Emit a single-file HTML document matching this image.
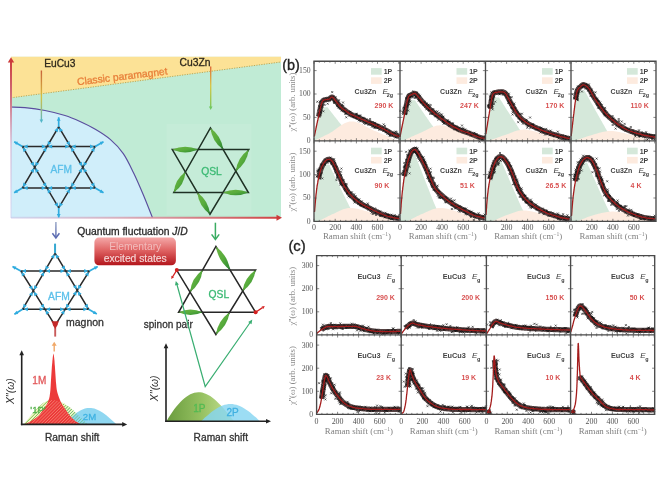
<!DOCTYPE html>
<html><head><meta charset="utf-8"><title>Raman kagome figure</title>
<style>html,body{margin:0;padding:0;background:#fff;overflow:hidden}svg{display:block}</style></head>
<body><svg width="660" height="491" viewBox="0 0 660 491" font-family="Liberation Sans, Arial, sans-serif">
<rect width="660" height="491" fill="#fff"/>
<defs>
<linearGradient id="axv" gradientUnits="userSpaceOnUse" x1="11" y1="218" x2="11" y2="58"><stop offset="0" stop-color="#d0d0f0" stop-opacity="0.4"/><stop offset="0.45" stop-color="#d0b0d0" stop-opacity="0.55"/><stop offset="0.72" stop-color="#d07888"/><stop offset="1" stop-color="#cc3a3a"/></linearGradient>
<linearGradient id="axh" gradientUnits="userSpaceOnUse" x1="11" y1="218" x2="281" y2="218"><stop offset="0" stop-color="#c8c0e8" stop-opacity="0.5"/><stop offset="0.4" stop-color="#d8a0b0" stop-opacity="0.8"/><stop offset="1" stop-color="#d04040"/></linearGradient>
<linearGradient id="arrE" gradientUnits="userSpaceOnUse" x1="41" y1="70" x2="41" y2="123"><stop offset="0" stop-color="#c8603a"/><stop offset="0.5" stop-color="#d8c040"/><stop offset="1" stop-color="#52b6c8"/></linearGradient>
<linearGradient id="arrC" gradientUnits="userSpaceOnUse" x1="210" y1="66" x2="210" y2="110"><stop offset="0" stop-color="#e06a3a"/><stop offset="0.45" stop-color="#d8c848"/><stop offset="1" stop-color="#70c860"/></linearGradient>
<linearGradient id="arrB" gradientUnits="userSpaceOnUse" x1="55" y1="222" x2="55" y2="238"><stop offset="0" stop-color="#9aa8c8"/><stop offset="1" stop-color="#5868b0"/></linearGradient>
<linearGradient id="leafg" x1="0" y1="0" x2="1" y2="1"><stop offset="0" stop-color="#6cb444"/><stop offset="0.5" stop-color="#58ac3c"/><stop offset="1" stop-color="#2a8632"/></linearGradient>
<linearGradient id="boxg" x1="0" y1="0" x2="0" y2="1"><stop offset="0" stop-color="#f4a8a8"/><stop offset="0.45" stop-color="#e06464"/><stop offset="1" stop-color="#b3161c"/></linearGradient>
<linearGradient id="g1p" x1="0" y1="0" x2="1" y2="0"><stop offset="0" stop-color="#6a9c3e"/><stop offset="0.5" stop-color="#94c060"/><stop offset="1" stop-color="#c8e294"/></linearGradient>
</defs>
<rect x="11" y="56.8" width="270" height="161" fill="#c0ebd5"/>
<polygon points="11,56.8 281,56.8 281,62 11,97.8" fill="#fce296"/>
<line x1="11" y1="97.8" x2="281" y2="62" stroke="#b9a04a" stroke-width="0.9" stroke-dasharray="1.2,1.3"/>
<path d="M11,107 C13.3,107.1 19.3,107 25,107.6 C30.7,108.2 38.3,109.2 45,110.5 C51.7,111.8 59.2,113.7 65,115.5 C70.8,117.3 75,119.2 80,121.5 C85,123.8 90.2,126.3 95.3,129.3 C100.4,132.3 105.8,135.6 110.5,139.6 C115.2,143.6 119.5,148.1 123.3,153.6 C127.1,159.1 130,165.5 133.4,172.5 C136.8,179.5 140.4,187.9 143.6,195.5 C146.8,203.1 151,214.1 152.5,217.8 L11,217.8 Z" fill="#d0eefa"/>
<path d="M11,107 C13.3,107.1 19.3,107 25,107.6 C30.7,108.2 38.3,109.2 45,110.5 C51.7,111.8 59.2,113.7 65,115.5 C70.8,117.3 75,119.2 80,121.5 C85,123.8 90.2,126.3 95.3,129.3 C100.4,132.3 105.8,135.6 110.5,139.6 C115.2,143.6 119.5,148.1 123.3,153.6 C127.1,159.1 130,165.5 133.4,172.5 C136.8,179.5 140.4,187.9 143.6,195.5 C146.8,203.1 151,214.1 152.5,217.8" fill="none" stroke="#5a4e9e" stroke-width="1.15"/>
<line x1="11" y1="218" x2="11" y2="61" stroke="url(#axv)" stroke-width="2"/>
<polygon points="11,57.3 7.8,62.5 14.2,62.5" fill="#cc3a3a"/>
<line x1="11" y1="217.8" x2="278" y2="217.8" stroke="url(#axh)" stroke-width="2"/>
<polygon points="282,217.8 276.5,214.8 276.5,220.8" fill="#cc3a3a"/>
<text x="44.3" y="67.2" font-size="10.2" fill="#2e281c" stroke="#2e281c" stroke-width="0.3">EuCu3</text>
<text x="179.6" y="66" font-size="10.3" fill="#2e281c" stroke="#2e281c" stroke-width="0.3">Cu3Zn</text>
<text x="0" y="0" font-size="10.3" fill="#e8803a" transform="translate(77.5,85.3) rotate(-6.8)" stroke="#e8803a" stroke-width="0.3">Classic paramagnet</text>
<line x1="41.4" y1="70.5" x2="41.4" y2="120" stroke="url(#arrE)" stroke-width="1.4"/>
<polygon points="41.4,123 39.6,119.5 43.2,119.5" fill="#52b6c8"/>
<line x1="210.7" y1="66.6" x2="210.7" y2="107" stroke="url(#arrC)" stroke-width="1.4"/>
<polygon points="210.7,110 208.9,106.5 212.5,106.5" fill="#70c860"/>
<polygon points="58.7,126.8 95.2,188 22.4,188" fill="none" stroke="#2a2a2a" stroke-width="1.5" stroke-linejoin="miter"/><polygon points="22.4,146.5 95.2,146.5 58.7,207.9" fill="none" stroke="#2a2a2a" stroke-width="1.5" stroke-linejoin="miter"/>
<line x1="58.7" y1="126.8" x2="58.7" y2="117.3" stroke="#30acdf" stroke-width="1.7"/><polygon points="58.7,117.3 60.6,120.7 56.8,120.7" fill="#30acdf"/><line x1="95.2" y1="146.5" x2="103.5" y2="141.8" stroke="#30acdf" stroke-width="1.7"/><polygon points="103.5,141.8 101.4,145.1 99.6,141.8" fill="#30acdf"/><line x1="95.2" y1="188" x2="103.5" y2="192.7" stroke="#30acdf" stroke-width="1.7"/><polygon points="103.5,192.7 99.6,192.7 101.4,189.4" fill="#30acdf"/><line x1="58.7" y1="207.9" x2="58.7" y2="217.4" stroke="#30acdf" stroke-width="1.7"/><polygon points="58.7,217.4 56.8,214 60.6,214" fill="#30acdf"/><line x1="22.4" y1="188" x2="14.1" y2="192.7" stroke="#30acdf" stroke-width="1.7"/><polygon points="14.1,192.7 16.2,189.4 18,192.7" fill="#30acdf"/><line x1="22.4" y1="146.5" x2="14.2" y2="141.8" stroke="#30acdf" stroke-width="1.7"/><polygon points="14.2,141.8 18,141.8 16.2,145.1" fill="#30acdf"/><polygon points="58.1,127.8 57.8,132.3 54.3,130.3" fill="#30acdf"/><polygon points="47.6,145.5 47.9,141 51.4,143" fill="#30acdf"/><polygon points="59.3,127.8 63.1,130.2 59.6,132.3" fill="#30acdf"/><polygon points="69.8,145.5 66.1,143.1 69.5,141" fill="#30acdf"/><polygon points="23.6,146.5 27.6,144.5 27.6,148.5" fill="#30acdf"/><polygon points="45.8,146.5 41.8,148.5 41.8,144.5" fill="#30acdf"/><polygon points="23,147.5 26.8,150 23.3,152" fill="#30acdf"/><polygon points="34.1,166.3 30.3,163.8 33.8,161.8" fill="#30acdf"/><polygon points="94,146.5 90,148.5 90,144.5" fill="#30acdf"/><polygon points="71.6,146.5 75.6,144.5 75.6,148.5" fill="#30acdf"/><polygon points="94.6,147.5 94.3,152 90.8,149.9" fill="#30acdf"/><polygon points="83.5,166.3 83.8,161.8 87.2,163.8" fill="#30acdf"/><polygon points="23,187 23.3,182.5 26.8,184.5" fill="#30acdf"/><polygon points="34.1,168.3 33.8,172.8 30.3,170.7" fill="#30acdf"/><polygon points="23.6,188 27.6,186 27.6,190" fill="#30acdf"/><polygon points="45.7,188 41.7,190 41.7,186" fill="#30acdf"/><polygon points="94.6,187 90.8,184.6 94.3,182.5" fill="#30acdf"/><polygon points="83.5,168.3 87.2,170.7 83.8,172.8" fill="#30acdf"/><polygon points="94,188 90,190 90,186" fill="#30acdf"/><polygon points="71.7,188 75.7,186 75.7,190" fill="#30acdf"/><polygon points="58.1,206.9 54.3,204.4 57.8,202.4" fill="#30acdf"/><polygon points="47.5,189 51.3,191.5 47.9,193.5" fill="#30acdf"/><polygon points="59.3,206.9 59.6,202.4 63.1,204.5" fill="#30acdf"/><polygon points="69.9,189 69.6,193.5 66.2,191.4" fill="#30acdf"/><polygon points="46.4,147.5 46.1,152 42.6,150" fill="#30acdf"/><polygon points="35.3,166.3 35.6,161.8 39.1,163.8" fill="#30acdf"/><polygon points="35.3,168.3 39.1,170.7 35.6,172.8" fill="#30acdf"/><polygon points="46.3,187 42.6,184.5 46,182.5" fill="#30acdf"/><polygon points="48.1,188 52.1,186 52.1,190" fill="#30acdf"/><polygon points="69.3,188 65.3,190 65.3,186" fill="#30acdf"/><polygon points="71.1,187 71.5,182.5 74.9,184.6" fill="#30acdf"/><polygon points="82.2,168.3 81.9,172.8 78.5,170.7" fill="#30acdf"/><polygon points="82.2,166.3 78.5,163.8 81.9,161.8" fill="#30acdf"/><polygon points="71.1,147.5 74.8,149.9 71.4,152" fill="#30acdf"/><polygon points="69.2,146.5 65.2,148.5 65.2,144.5" fill="#30acdf"/><polygon points="48.2,146.5 52.2,144.5 52.2,148.5" fill="#30acdf"/>
<text x="61.2" y="173" font-size="10.2" fill="#5cc0ea" text-anchor="middle" stroke="#5cc0ea" stroke-width="0.3">AFM</text>
<rect x="166.5" y="124" width="85" height="91" fill="#ffffff" opacity="0.09"/>
<polygon points="210.4,127.9 248.4,192.5 173.8,192.5" fill="none" stroke="#1e3024" stroke-width="1.5" stroke-linejoin="miter"/><polygon points="172.3,149.6 248.8,149.6 210,214.2" fill="none" stroke="#1e3024" stroke-width="1.5" stroke-linejoin="miter"/>
<path d="M210.4,127.9 Q212,141.6 223.2,149.6 Q221.6,135.9 210.4,127.9 Z" fill="url(#leafg)"/>
<path d="M172.3,149.6 Q185.2,155.2 198.1,149.6 Q185.2,144 172.3,149.6 Z" fill="url(#leafg)"/>
<path d="M248.8,149.6 Q237.5,157.5 235.8,171.2 Q247.1,163.3 248.8,149.6 Z" fill="url(#leafg)"/>
<path d="M248.4,192.5 Q235.7,186.9 223,192.5 Q235.7,198.1 248.4,192.5 Z" fill="url(#leafg)"/>
<path d="M210,214.2 Q208.5,200.5 197.3,192.5 Q198.8,206.2 210,214.2 Z" fill="url(#leafg)"/>
<path d="M173.8,192.5 Q184.5,185 185.4,172 Q174.7,179.5 173.8,192.5 Z" fill="url(#leafg)"/>
<text x="211.5" y="174.5" font-size="10.3" fill="#3cba74" text-anchor="middle" stroke="#3cba74" stroke-width="0.3">QSL</text>
<line x1="55.9" y1="222" x2="55.9" y2="237.5" stroke="url(#arrB)" stroke-width="1.5"/>
<polyline points="52.4,233.2 55.9,238 59.4,233.2" fill="none" stroke="#5c6cb2" stroke-width="1.5" stroke-linejoin="miter"/>
<line x1="215.4" y1="222.7" x2="215.4" y2="239" stroke="#3aac62" stroke-width="1.5"/>
<polyline points="211.6,234.4 215.4,239.4 219.2,234.4" fill="none" stroke="#3aac62" stroke-width="1.5" stroke-linejoin="miter"/>
<text x="77.3" y="234.6" font-size="10.3" fill="#2a2a2a" stroke="#2a2a2a" stroke-width="0.3">Quantum fluctuation <tspan font-style="italic">J</tspan>/<tspan font-style="italic">D</tspan></text>
<rect x="94.4" y="237.6" width="81.5" height="27.6" rx="4.5" fill="url(#boxg)"/>
<text x="135.2" y="249.6" font-size="10.3" fill="#f2bcbc" stroke="none" text-anchor="middle">Elementary</text>
<text x="135.2" y="261.8" font-size="10.3" fill="#f6d6d6" stroke="#f6d6d6" stroke-width="0.15" text-anchor="middle">excited states</text>
<polygon points="55.1,253.2 88.6,309.3 22.6,309.3" fill="none" stroke="#2a2a2a" stroke-width="1.5" stroke-linejoin="miter"/><polygon points="20.8,271 89.4,271 55.1,325.4" fill="none" stroke="#2a2a2a" stroke-width="1.5" stroke-linejoin="miter"/>
<line x1="55.1" y1="253.2" x2="55.1" y2="243.7" stroke="#30acdf" stroke-width="1.7"/><line x1="89.4" y1="271" x2="97.7" y2="266.4" stroke="#30acdf" stroke-width="1.7"/><polygon points="97.7,266.4 95.7,269.7 93.8,266.4" fill="#30acdf"/><line x1="88.6" y1="309.3" x2="96.8" y2="314.1" stroke="#30acdf" stroke-width="1.7"/><polygon points="96.8,314.1 92.9,314 94.8,310.7" fill="#30acdf"/><line x1="22.6" y1="309.3" x2="14.4" y2="314.2" stroke="#30acdf" stroke-width="1.7"/><polygon points="14.4,314.2 16.4,310.8 18.3,314.1" fill="#30acdf"/><line x1="20.8" y1="271" x2="12.5" y2="266.4" stroke="#30acdf" stroke-width="1.7"/><polygon points="12.5,266.4 16.4,266.4 14.5,269.7" fill="#30acdf"/><polygon points="54.5,254.2 54.2,258.7 50.8,256.7" fill="#30acdf"/><polygon points="45.4,270 45.7,265.5 49.1,267.5" fill="#30acdf"/><polygon points="55.7,254.2 59.5,256.6 56,258.7" fill="#30acdf"/><polygon points="65.1,270 61.3,267.6 64.8,265.5" fill="#30acdf"/><polygon points="22,271 26,269 26,273" fill="#30acdf"/><polygon points="43.6,271 39.6,273 39.6,269" fill="#30acdf"/><polygon points="21.4,272 25.3,274.3 21.9,276.5" fill="#30acdf"/><polygon points="32.7,289.8 28.8,287.5 32.2,285.4" fill="#30acdf"/><polygon points="88.2,271 84.2,273 84.2,269" fill="#30acdf"/><polygon points="66.9,271 70.9,269 70.9,273" fill="#30acdf"/><polygon points="88.8,272 88.3,276.5 84.9,274.3" fill="#30acdf"/><polygon points="77.9,289.3 78.3,284.8 81.7,286.9" fill="#30acdf"/><polygon points="23.2,308.3 23.5,303.8 26.9,305.8" fill="#30acdf"/><polygon points="32.7,291.9 32.4,296.3 29,294.3" fill="#30acdf"/><polygon points="23.8,309.3 27.8,307.3 27.8,311.3" fill="#30acdf"/><polygon points="43.7,309.3 39.7,311.3 39.7,307.3" fill="#30acdf"/><polygon points="88,308.3 84.2,305.9 87.7,303.8" fill="#30acdf"/><polygon points="77.9,291.3 81.6,293.7 78.2,295.8" fill="#30acdf"/><polygon points="87.4,309.3 83.4,311.3 83.4,307.3" fill="#30acdf"/><polygon points="66.5,309.3 70.5,307.3 70.5,311.3" fill="#30acdf"/><polygon points="45.6,310.3 49.4,312.6 46,314.8" fill="#30acdf"/><polygon points="64.6,310.3 64.2,314.8 60.8,312.6" fill="#30acdf"/><polygon points="44.2,272 43.9,276.5 40.5,274.5" fill="#30acdf"/><polygon points="33.9,289.8 34.2,285.3 37.6,287.3" fill="#30acdf"/><polygon points="33.9,291.8 37.8,294.2 34.4,296.3" fill="#30acdf"/><polygon points="44.3,308.3 40.5,306 43.9,303.8" fill="#30acdf"/><polygon points="46.1,309.3 50.1,307.3 50.1,311.3" fill="#30acdf"/><polygon points="64.1,309.3 60.1,311.3 60.1,307.3" fill="#30acdf"/><polygon points="65.9,308.3 66.3,303.8 69.7,306" fill="#30acdf"/><polygon points="76.6,291.3 76.2,295.7 72.8,293.6" fill="#30acdf"/><polygon points="76.6,289.3 72.9,286.8 76.3,284.8" fill="#30acdf"/><polygon points="66.3,272 70.1,274.4 66.7,276.5" fill="#30acdf"/><polygon points="64.5,271 60.5,273 60.5,269" fill="#30acdf"/><polygon points="46,271 50,269 50,273" fill="#30acdf"/>
<line x1="55.1" y1="253" x2="55.1" y2="243.8" stroke="#38a8d0" stroke-width="1.9"/>
<text x="58.9" y="299.7" font-size="10.3" fill="#5cc0ea" text-anchor="middle" stroke="#5cc0ea" stroke-width="0.3">AFM</text>
<line x1="55.2" y1="327" x2="55.2" y2="336.6" stroke="#c85a5a" stroke-width="1.9"/>
<polygon points="51.4,321.2 59,321.2 55.2,329.2" fill="#c42a2a"/>
<circle cx="55.2" cy="324.4" r="2.4" fill="#c42a2a"/>
<text x="66" y="326.4" font-size="10.5" fill="#333" stroke="#333" stroke-width="0.3">magnon</text>
<polygon points="215.9,246.5 255.6,312.3 178.6,312.3" fill="none" stroke="#262626" stroke-width="1.5" stroke-linejoin="miter"/><polygon points="176.6,270.1 255.6,270.1 215.9,334.5" fill="none" stroke="#262626" stroke-width="1.5" stroke-linejoin="miter"/>
<path d="M215.9,246.5 Q218.2,261.2 230.1,270.1 Q227.8,255.4 215.9,246.5 Z" fill="url(#leafg)"/>
<path d="M190,292.1 Q201.2,283.9 202.5,270.1 Q191.4,278.3 190,292.1 Z" fill="url(#leafg)"/>
<path d="M255.6,270.1 Q244.4,277.6 242.7,291 Q253.9,283.5 255.6,270.1 Z" fill="url(#leafg)"/>
<path d="M178.6,312.3 Q190.5,317.9 202.4,312.3 Q190.5,306.7 178.6,312.3 Z" fill="url(#leafg)"/>
<path d="M215.9,334.5 Q227.5,326.3 229.6,312.3 Q218,320.5 215.9,334.5 Z" fill="url(#leafg)"/>
<text x="218.9" y="297.6" font-size="10.3" fill="#3cba74" text-anchor="middle" stroke="#3cba74" stroke-width="0.3">QSL</text>
<circle cx="176.8" cy="270.1" r="2" fill="#d42020"/>
<line x1="176.8" y1="270.1" x2="172.5" y2="277" stroke="#d42020" stroke-width="1.3"/>
<polygon points="171.3,279 171.4,275.8 174,277.3" fill="#d42020"/>
<circle cx="255.6" cy="312.3" r="2" fill="#d42020"/>
<line x1="255.6" y1="312.3" x2="262.5" y2="307.6" stroke="#d42020" stroke-width="1.3"/>
<polygon points="264.8,306.1 263.3,308.9 261.6,306.4" fill="#d42020"/>
<text x="143.8" y="327.6" font-size="10" fill="#333" stroke="#333" stroke-width="0.3">spinon pair</text>
<polyline points="176.8,284 205.2,386.5 250.5,322" fill="none" stroke="#3aae72" stroke-width="1.2"/>
<polygon points="175.8,281 178.9,284.5 175,285.6" fill="#3aae72"/>
<polygon points="252.3,319.6 251.5,324.2 248.2,321.9" fill="#3aae72"/>
<clipPath id="cp1p"><path d="M23.5,424.4 L28,419 L33,413 L38,407.5 L43,403 L48,400.6 L53,400 L58,401 L64,403.5 L70,407.5 L76,413 L82,419 L88,424.4 Z"/></clipPath>
<path d="M23.5,424.4 L28,419 L33,413 L38,407.5 L43,403 L48,400.6 L53,400 L58,401 L64,403.5 L70,407.5 L76,413 L82,419 L88,424.4 Z" fill="#eef5c6"/>
<g clip-path="url(#cp1p)" stroke="#82c24e" stroke-width="1"><line x1="-6.4" y1="426.4" x2="21.6" y2="398.4"/><line x1="-3.2" y1="426.4" x2="24.8" y2="398.4"/><line x1="0" y1="426.4" x2="28" y2="398.4"/><line x1="3.2" y1="426.4" x2="31.2" y2="398.4"/><line x1="6.4" y1="426.4" x2="34.4" y2="398.4"/><line x1="9.6" y1="426.4" x2="37.6" y2="398.4"/><line x1="12.8" y1="426.4" x2="40.8" y2="398.4"/><line x1="16" y1="426.4" x2="44" y2="398.4"/><line x1="19.2" y1="426.4" x2="47.2" y2="398.4"/><line x1="22.4" y1="426.4" x2="50.4" y2="398.4"/><line x1="25.6" y1="426.4" x2="53.6" y2="398.4"/><line x1="28.8" y1="426.4" x2="56.8" y2="398.4"/><line x1="32" y1="426.4" x2="60" y2="398.4"/><line x1="35.2" y1="426.4" x2="63.2" y2="398.4"/><line x1="38.4" y1="426.4" x2="66.4" y2="398.4"/><line x1="41.6" y1="426.4" x2="69.6" y2="398.4"/><line x1="44.8" y1="426.4" x2="72.8" y2="398.4"/><line x1="48" y1="426.4" x2="76" y2="398.4"/><line x1="51.2" y1="426.4" x2="79.2" y2="398.4"/><line x1="54.4" y1="426.4" x2="82.4" y2="398.4"/><line x1="57.6" y1="426.4" x2="85.6" y2="398.4"/><line x1="60.8" y1="426.4" x2="88.8" y2="398.4"/><line x1="64" y1="426.4" x2="92" y2="398.4"/><line x1="67.2" y1="426.4" x2="95.2" y2="398.4"/><line x1="70.4" y1="426.4" x2="98.4" y2="398.4"/><line x1="73.6" y1="426.4" x2="101.6" y2="398.4"/><line x1="76.8" y1="426.4" x2="104.8" y2="398.4"/><line x1="80" y1="426.4" x2="108" y2="398.4"/><line x1="83.2" y1="426.4" x2="111.2" y2="398.4"/><line x1="86.4" y1="426.4" x2="114.4" y2="398.4"/><line x1="89.6" y1="426.4" x2="117.6" y2="398.4"/><line x1="92.8" y1="426.4" x2="120.8" y2="398.4"/><line x1="96" y1="426.4" x2="124" y2="398.4"/><line x1="99.2" y1="426.4" x2="127.2" y2="398.4"/></g>
<path d="M65.5,424.4 L67.2,422.1 L68.9,420.2 L70.6,418.3 L72.3,416.6 L74,415 L75.7,413.6 L77.4,412.3 L79.1,411.2 L80.8,410.2 L82.5,409.4 L84.2,408.8 L85.9,408.3 L87.6,408 L89.3,407.9 L91,408 L92.7,408.2 L94.4,408.6 L96.1,409.2 L97.8,409.9 L99.5,410.7 L101.2,411.7 L102.9,412.8 L104.6,414 L106.3,415.3 L108,416.7 L109.7,418.2 L111.4,419.7 L113.1,421.2 L114.8,422.8 L116.5,424.4 Z" fill="#86d4f0" opacity="0.92"/>
<g clip-path="url(#cp1p)" stroke="#6cc08a" stroke-width="1" opacity="0.8"><line x1="48" y1="426.4" x2="76" y2="398.4"/><line x1="51.2" y1="426.4" x2="79.2" y2="398.4"/><line x1="54.4" y1="426.4" x2="82.4" y2="398.4"/><line x1="57.6" y1="426.4" x2="85.6" y2="398.4"/><line x1="60.8" y1="426.4" x2="88.8" y2="398.4"/><line x1="64" y1="426.4" x2="92" y2="398.4"/><line x1="67.2" y1="426.4" x2="95.2" y2="398.4"/><line x1="70.4" y1="426.4" x2="98.4" y2="398.4"/><line x1="73.6" y1="426.4" x2="101.6" y2="398.4"/><line x1="76.8" y1="426.4" x2="104.8" y2="398.4"/><line x1="80" y1="426.4" x2="108" y2="398.4"/><line x1="83.2" y1="426.4" x2="111.2" y2="398.4"/><line x1="86.4" y1="426.4" x2="114.4" y2="398.4"/><line x1="89.6" y1="426.4" x2="117.6" y2="398.4"/><line x1="92.8" y1="426.4" x2="120.8" y2="398.4"/><line x1="96" y1="426.4" x2="124" y2="398.4"/><line x1="99.2" y1="426.4" x2="127.2" y2="398.4"/></g>
<path d="M24.5,424.4 L26.3,423.6 L28.5,422.6 L30.4,421.4 L32.3,420.2 L34.2,419 L36,417.8 L37.6,416.6 L39,415.2 L40,414 L40.9,412.8 L41.8,411.5 L42.7,410.3 L43.6,409 L44.5,407.8 L45.7,406 L46.8,404.2 L47.7,402.4 L48.4,400.5 L49.1,398.7 L49.6,396.5 L49.8,395.1 L50,393.6 L50.2,391.9 L50.4,390 L50.5,388.6 L50.6,387 L50.7,385.3 L50.8,383.6 L50.9,381.8 L51,380 L51.1,378.6 L51.2,377.1 L51.3,375.6 L51.4,374 L51.5,372.4 L51.6,370.9 L51.7,369.4 L51.8,368 L51.9,366.2 L52.1,364.3 L52.3,362.5 L52.4,360.8 L52.6,359.3 L52.7,358 L53.1,354.9 L53.4,353.6 L53.8,354.9 L54.2,358 L54.3,359.3 L54.5,360.8 L54.6,362.5 L54.7,364.3 L54.9,366.2 L55,368 L55.1,369.4 L55.2,370.9 L55.3,372.4 L55.4,374 L55.5,375.6 L55.6,377.1 L55.7,378.6 L55.8,380 L55.9,381.8 L56.1,383.6 L56.3,385.4 L56.4,387.1 L56.6,388.6 L56.8,390 L57.3,392.2 L57.8,393.9 L58.3,395.5 L59,397.6 L59.8,399.5 L60.6,401.4 L61.5,403.2 L62.5,404.9 L63.6,406.6 L64.7,408.3 L66,410.2 L66.9,411.6 L68,413.1 L69,414.5 L70,415.8 L71.1,417 L72.2,418.2 L73.4,419.3 L74.6,420.4 L76,421.5 L77.8,422.6 L79.7,423.7 L81,424.4 Z" fill="#ec3a3a"/>
<clipPath id="cpred"><path d="M24.5,424.4 L26.3,423.6 L28.5,422.6 L30.4,421.4 L32.3,420.2 L34.2,419 L36,417.8 L37.6,416.6 L39,415.2 L40,414 L40.9,412.8 L41.8,411.5 L42.7,410.3 L43.6,409 L44.5,407.8 L45.7,406 L46.8,404.2 L47.7,402.4 L48.4,400.5 L49.1,398.7 L49.6,396.5 L49.8,395.1 L50,393.6 L50.2,391.9 L50.4,390 L50.5,388.6 L50.6,387 L50.7,385.3 L50.8,383.6 L50.9,381.8 L51,380 L51.1,378.6 L51.2,377.1 L51.3,375.6 L51.4,374 L51.5,372.4 L51.6,370.9 L51.7,369.4 L51.8,368 L51.9,366.2 L52.1,364.3 L52.3,362.5 L52.4,360.8 L52.6,359.3 L52.7,358 L53.1,354.9 L53.4,353.6 L53.8,354.9 L54.2,358 L54.3,359.3 L54.5,360.8 L54.6,362.5 L54.7,364.3 L54.9,366.2 L55,368 L55.1,369.4 L55.2,370.9 L55.3,372.4 L55.4,374 L55.5,375.6 L55.6,377.1 L55.7,378.6 L55.8,380 L55.9,381.8 L56.1,383.6 L56.3,385.4 L56.4,387.1 L56.6,388.6 L56.8,390 L57.3,392.2 L57.8,393.9 L58.3,395.5 L59,397.6 L59.8,399.5 L60.6,401.4 L61.5,403.2 L62.5,404.9 L63.6,406.6 L64.7,408.3 L66,410.2 L66.9,411.6 L68,413.1 L69,414.5 L70,415.8 L71.1,417 L72.2,418.2 L73.4,419.3 L74.6,420.4 L76,421.5 L77.8,422.6 L79.7,423.7 L81,424.4 Z"/></clipPath>
<g clip-path="url(#cpred)"><g clip-path="url(#cp1p)" stroke="#f79a86" stroke-width="0.9" opacity="0.75"><line x1="-6.4" y1="426.4" x2="21.6" y2="398.4"/><line x1="-3.2" y1="426.4" x2="24.8" y2="398.4"/><line x1="0" y1="426.4" x2="28" y2="398.4"/><line x1="3.2" y1="426.4" x2="31.2" y2="398.4"/><line x1="6.4" y1="426.4" x2="34.4" y2="398.4"/><line x1="9.6" y1="426.4" x2="37.6" y2="398.4"/><line x1="12.8" y1="426.4" x2="40.8" y2="398.4"/><line x1="16" y1="426.4" x2="44" y2="398.4"/><line x1="19.2" y1="426.4" x2="47.2" y2="398.4"/><line x1="22.4" y1="426.4" x2="50.4" y2="398.4"/><line x1="25.6" y1="426.4" x2="53.6" y2="398.4"/><line x1="28.8" y1="426.4" x2="56.8" y2="398.4"/><line x1="32" y1="426.4" x2="60" y2="398.4"/><line x1="35.2" y1="426.4" x2="63.2" y2="398.4"/><line x1="38.4" y1="426.4" x2="66.4" y2="398.4"/><line x1="41.6" y1="426.4" x2="69.6" y2="398.4"/><line x1="44.8" y1="426.4" x2="72.8" y2="398.4"/><line x1="48" y1="426.4" x2="76" y2="398.4"/><line x1="51.2" y1="426.4" x2="79.2" y2="398.4"/><line x1="54.4" y1="426.4" x2="82.4" y2="398.4"/><line x1="57.6" y1="426.4" x2="85.6" y2="398.4"/><line x1="60.8" y1="426.4" x2="88.8" y2="398.4"/><line x1="64" y1="426.4" x2="92" y2="398.4"/><line x1="67.2" y1="426.4" x2="95.2" y2="398.4"/><line x1="70.4" y1="426.4" x2="98.4" y2="398.4"/><line x1="73.6" y1="426.4" x2="101.6" y2="398.4"/><line x1="76.8" y1="426.4" x2="104.8" y2="398.4"/><line x1="80" y1="426.4" x2="108" y2="398.4"/><line x1="83.2" y1="426.4" x2="111.2" y2="398.4"/><line x1="86.4" y1="426.4" x2="114.4" y2="398.4"/><line x1="89.6" y1="426.4" x2="117.6" y2="398.4"/><line x1="92.8" y1="426.4" x2="120.8" y2="398.4"/><line x1="96" y1="426.4" x2="124" y2="398.4"/><line x1="99.2" y1="426.4" x2="127.2" y2="398.4"/></g></g>
<line x1="21.7" y1="425.2" x2="21.7" y2="354" stroke="#222" stroke-width="1.6"/>
<polygon points="21.7,350.2 24,355.2 19.4,355.2" fill="#222"/>
<line x1="20.9" y1="424.4" x2="123" y2="424.4" stroke="#222" stroke-width="1.6"/>
<polygon points="127.2,424.4 122.2,426.7 122.2,422.1" fill="#222"/>
<line x1="54.2" y1="351.5" x2="54.2" y2="345" stroke="#f0a868" stroke-width="1.4"/>
<polygon points="54.2,341.8 56.7,345.8 51.7,345.8" fill="#f0a868"/>
<text x="39.3" y="383.6" font-size="10" fill="#e2585a" text-anchor="middle" stroke="#e2585a" stroke-width="0.3">1M</text>
<text x="38" y="412.8" font-size="9.6" fill="#52b04a" text-anchor="middle" stroke="#52b04a" stroke-width="0.3">'1P'</text>
<text x="89.5" y="420.2" font-size="9.6" fill="#3fb2e2" text-anchor="middle" stroke="#3fb2e2" stroke-width="0.3">2M</text>
<text x="0" y="0" font-size="10.3" font-style="italic" fill="#333" stroke="none" text-anchor="middle" transform="translate(14.1,391.2) rotate(-90)">X''(ω)</text>
<text x="72.2" y="440.8" font-size="10.2" fill="#333" text-anchor="middle" stroke="#333" stroke-width="0.3">Raman shift</text>
<path d="M166.5,421.2 L168.5,417.8 L170.5,414.7 L172.5,411.8 L174.4,409.1 L176.4,406.6 L178.4,404.2 L180.4,402 L182.4,400 L184.4,398.3 L186.4,396.7 L188.3,395.4 L190.3,394.2 L192.3,393.4 L194.3,392.7 L196.3,392.4 L198.3,392.2 L200.2,392.3 L202.2,392.6 L204.2,393.2 L206.2,393.9 L208.2,394.9 L210.2,396.1 L212.2,397.5 L214.1,399 L216.1,400.8 L218.1,402.7 L220.1,404.7 L222.1,406.8 L224.1,409.1 L226.1,411.4 L228,413.8 L230,416.2 L232,418.7 L234,421.2 Z" fill="url(#g1p)"/>
<path d="M201,421.2 L203,419.4 L204.9,417.6 L206.9,415.9 L208.9,414.2 L210.8,412.6 L212.8,411.1 L214.8,409.7 L216.7,408.4 L218.7,407.3 L220.7,406.3 L222.6,405.5 L224.6,404.8 L226.6,404.4 L228.5,404.1 L230.5,404 L232.5,404.1 L234.4,404.4 L236.4,404.8 L238.4,405.5 L240.3,406.3 L242.3,407.3 L244.3,408.4 L246.2,409.7 L248.2,411.1 L250.2,412.6 L252.1,414.2 L254.1,415.9 L256.1,417.6 L258,419.4 L260,421.2 Z" fill="#86d6f2" opacity="0.82"/>
<line x1="166" y1="422" x2="166" y2="347" stroke="#222" stroke-width="1.6"/>
<polygon points="166,343.2 168.3,348.2 163.7,348.2" fill="#222"/>
<line x1="165.2" y1="421.2" x2="267" y2="421.2" stroke="#222" stroke-width="1.6"/>
<polygon points="271,421.2 266,423.5 266,418.9" fill="#222"/>
<text x="199.3" y="411.6" font-size="10" fill="#52ba52" text-anchor="middle" stroke="#52ba52" stroke-width="0.3">1P</text>
<text x="232.5" y="415.8" font-size="10" fill="#40b0e0" text-anchor="middle" stroke="#40b0e0" stroke-width="0.3">2P</text>
<text x="0" y="0" font-size="10.3" font-style="italic" fill="#333" stroke="none" text-anchor="middle" transform="translate(158,388.3) rotate(-90)">X''(ω)</text>
<text x="220.8" y="440.8" font-size="10.2" fill="#333" text-anchor="middle" stroke="#333" stroke-width="0.3">Raman shift</text>
<text x="282.2" y="69.8" font-size="14.4" fill="#222" stroke="#222" stroke-width="0.35">(b)</text>
<path d="M314,140.8 L314.3,137.4 L314.4,137.1 L314.4,136.8 L314.5,136.5 L314.6,136.2 L314.6,135.8 L314.7,135.4 L314.8,135 L314.9,134.6 L315,134.1 L315.1,133.7 L315.2,133.2 L315.3,132.7 L315.4,132.1 L315.5,131.6 L315.6,131.1 L315.7,130.5 L315.8,130 L316,129.4 L316.1,128.8 L316.2,128.3 L316.3,127.7 L316.4,127.1 L316.6,126.5 L316.7,125.9 L316.8,125.4 L316.9,124.8 L317.1,124.2 L317.2,123.6 L317.3,123.1 L317.4,122.5 L317.5,122 L317.7,121.4 L317.8,120.9 L317.9,120.4 L318,119.9 L318.1,119.4 L318.2,118.9 L318.3,118.3 L318.5,117.8 L318.6,117.3 L318.7,116.7 L318.8,116.2 L318.9,115.6 L319,115.1 L319.2,114.5 L319.3,113.9 L319.4,113.4 L319.5,112.8 L319.6,112.3 L319.7,111.7 L319.9,111.2 L320,110.6 L320.1,110.1 L320.2,109.6 L320.3,109 L320.5,108.5 L320.6,108 L320.7,107.5 L320.8,107.2 L320.9,107.2 L321.1,107.2 L321.2,107.2 L321.3,107.2 L321.4,107.2 L321.5,107.2 L321.6,107.2 L321.8,107.2 L321.9,107.2 L322,107.2 L322.4,107.2 L322.9,107.2 L323.4,107.2 L323.8,107.2 L324.3,107.2 L324.7,107.2 L325.2,107.2 L325.6,107.2 L326,107.2 L326.6,107.2 L327.1,107.2 L327.5,107.2 L327.8,107.6 L328.3,108.2 L328.7,108.8 L329.2,109.4 L329.8,110.2 L330.4,111 L331,111.8 L331.7,112.7 L332.4,113.6 L333.1,114.5 L333.9,115.4 L334.6,116.4 L335.3,117.3 L336.1,118.3 L336.8,119.2 L337.5,120.1 L338.2,121 L338.9,121.9 L339.6,122.7 L340.2,123.4 L340.8,124.2 L341.3,124.8 L342.2,125.9 L343.1,126.8 L343.9,127.7 L344.7,128.6 L345.4,129.4 L346.1,130.1 L346.8,130.8 L347.5,131.4 L348.1,132.1 L348.8,132.7 L349.4,133.3 L350,134 L350.8,134.9 L351.6,135.8 L352.4,136.7 L353.2,137.6 L353.9,138.4 L354.5,139.1 L355.1,139.8 L355.6,140.4 L356,140.8 Z" fill="#d5e8da"/>
<path d="M314,140.8 L314.8,140.4 L315.9,139.9 L317.1,139.3 L318.4,138.7 L319.9,138 L321.5,137.2 L323.1,136.4 L324.8,135.6 L326.6,134.8 L328.3,133.9 L330,133 L331.2,132.3 L332.5,131.5 L333.8,130.6 L335.2,129.6 L336.5,128.6 L337.9,127.6 L339.3,126.6 L340.7,125.6 L342.1,124.7 L343.6,123.8 L345.1,123.1 L346.5,122.4 L348,121.9 L349.5,121.6 L351,121.4 L352.3,121.4 L353.7,121.6 L355.1,121.8 L356.5,122.2 L357.9,122.7 L359.3,123.2 L360.7,123.8 L362.2,124.5 L363.6,125.2 L365,126 L366.5,126.7 L367.9,127.5 L369.4,128.3 L370.8,129 L372.2,129.7 L373.6,130.4 L375,131 L376.5,131.6 L378.1,132.3 L379.7,133 L381.4,133.7 L383,134.4 L384.7,135.1 L386.4,135.8 L388,136.5 L389.6,137.2 L391.1,137.8 L392.5,138.5 L393.9,139 L395.1,139.6 L396.2,140 L397.2,140.5 L398,140.8 Z" fill="#fdebdf"/>
<path d="M318.6,116.4 L318.7,115.8 L318.8,115.3 L318.9,114.7 L319,114.2 L319.2,113.6 L319.3,113 L319.4,112.5 L319.5,111.9 L319.6,111.4 L319.7,110.8 L319.9,110.3 L320,109.7 L320.1,109.2 L320.2,108.7 L320.3,108.1 L320.5,107.6 L320.6,107.1 L320.7,106.6 L320.8,106.2 L320.9,105.7 L321.1,105.2 L321.2,104.8 L321.3,104.4 L321.4,104 L321.5,103.6 L321.6,103.3 L321.8,102.9 L321.9,102.6 L322,102.3 L322.4,101.4 L322.9,100.7 L323.4,100.3 L323.8,100 L324.3,99.9 L324.7,99.8 L325.2,99.8 L325.6,99.7 L326,99.6 L326.6,99.4 L327.1,99.4 L327.6,99.4 L328,99.4 L328.5,99.3 L329,99.2 L329.4,98.9 L329.9,98.6 L330.3,98.1 L330.7,97.7 L331.1,97.3 L331.6,97.1 L332,97 L332.4,97.1 L332.7,97.3 L333,97.6 L333.3,97.9 L333.7,98.4 L334.1,98.8 L334.5,99.4 L335,100 L335.3,100.3 L335.5,100.7 L335.8,101 L336.1,101.4 L336.5,101.9 L336.8,102.3 L337.1,102.7 L337.5,103.2 L337.8,103.7 L338.2,104.1 L338.5,104.6 L338.9,105 L339.2,105.5 L339.6,105.9 L339.9,106.3 L340.3,106.7 L340.6,107 L341,107.4 L341.4,107.8 L341.9,108.1 L342.3,108.5 L342.7,108.8 L343.1,109.1 L343.5,109.4 L343.9,109.6 L344.4,109.9 L344.8,110.2 L345.2,110.4 L345.6,110.7 L346,111 L346.4,111.3 L346.8,111.6 L347.2,111.9 L347.5,112.1 L347.9,112.4 L348.3,112.6 L348.7,112.9 L349.1,113.2 L349.5,113.5 L350,113.8 L350.6,114.1 L351.2,114.4 L351.6,114.6 L351.9,114.8 L352.3,115 L352.7,115.2 L353.1,115.4 L353.6,115.6 L354,115.8 L354.5,116 L355,116.2 L355.4,116.4 L355.9,116.6 L356.4,116.8 L356.9,117 L357.4,117.3 L357.9,117.5 L358.4,117.7 L358.9,117.9 L359.4,118.1 L359.9,118.4 L360.4,118.6 L360.9,118.8 L361.3,119 L361.8,119.2 L362.3,119.4 L362.7,119.6 L363.2,119.8 L363.6,120 L364.1,120.2 L364.6,120.4 L365,120.6 L365.5,120.8 L365.9,121 L366.4,121.2 L366.9,121.4 L367.3,121.7 L367.8,121.9 L368.3,122.1 L368.7,122.3 L369.2,122.5 L369.6,122.7 L370.1,122.9 L370.6,123.1 L371,123.3 L371.5,123.5 L371.9,123.7 L372.4,123.9 L372.9,124.1 L373.3,124.3 L373.8,124.5 L374.2,124.7 L374.7,124.9 L375.2,125.1 L375.6,125.3 L376.1,125.5 L376.5,125.7 L377,125.9 L377.5,126.1 L377.9,126.3 L378.4,126.5 L378.9,126.7 L379.3,127 L379.8,127.2 L380.2,127.4 L380.7,127.6 L381.2,127.8 L381.6,128 L382.1,128.2 L382.5,128.5 L383,128.7 L383.4,128.9 L383.9,129.2 L384.4,129.4 L384.8,129.7 L385.3,129.9 L385.8,130.2 L386.2,130.4 L386.7,130.7 L387.2,131 L387.7,131.2 L388.1,131.5 L388.6,131.8 L389.1,132 L389.5,132.3 L390,132.6 L390.4,132.8 L390.9,133.1 L391.3,133.3 L391.7,133.5 L392.1,133.7 L392.5,133.9 L392.9,134.1 L393.2,134.3 L393.6,134.5 L394.3,134.8 L394.9,135.1 L395.5,135.3 L396.1,135.5 L396.7,135.7 L397.2,135.9 L397.7,136 L398.1,136.1 L398.5,136.2 L398.9,136.3 L399.2,136.4 L399.5,136.5" fill="none" stroke="#2a1414" stroke-width="5.2" stroke-linejoin="round" opacity="0.8"/><path d="M318.1,116.6 L319.4,116 L318.6,114.9 L318.6,114 L317.9,112.9 L319.1,112.2 L321.2,111.7 L320.4,110.6 L321.5,109.9 L320.5,108.8 L320.9,108.1 L320.8,107.2 L318.4,105.8 L322.1,105.9 L321.9,104.9 L322.1,104.1 L319.4,102.4 L319.6,101.5 L321.2,101 L322.3,100.3 L323.8,100.5 L324.4,99.8 L325.3,100.5 L325.8,98.7 L326.9,99.8 L327.7,99.9 L328.3,98.4 L330.4,101.3 L330.4,99.2 L331.7,99.1 L330.7,96.5 L332.1,95.9 L333.1,97 L333.5,97.9 L333.2,99.3 L334.2,99.5 L335.5,99.6 L336.6,99.8 L336.7,100.9 L335.2,103.1 L338,102 L337.4,103.7 L337.7,104.5 L340.4,103.5 L339.2,105.6 L338.4,107.4 L342.4,104.7 L341.3,107 L341.7,107.8 L343,107.5 L342.5,109.5 L343.6,109.3 L345.4,108.1 L344.2,111.2 L345,111.5 L345.4,112.2 L345.6,113.2 L347.2,112.5 L348.1,112.7 L350,111.5 L349.2,114.3 L350.9,113.2 L351.5,113.8 L352.7,113.1 L353.3,113.9 L353.9,114.9 L353.5,117.6 L356.2,113.5 L356.6,114.6 L356.4,117.2 L356.5,119.1 L357.8,118.3 L360,115.4 L361.2,115 L360.3,119.1 L361.7,118 L362.6,117.8 L362.2,120.9 L362.8,121.4 L364.1,120.5 L364.8,120.9 L365.5,121.5 L365.5,123.4 L366.8,122.4 L367.6,122.6 L368.4,123 L370.3,120.5 L369.4,124.6 L370.4,124.5 L371.3,124.3 L373.6,121.3 L373.5,123.4 L373.4,125.7 L375.6,122.5 L375.4,124.9 L375.5,126.9 L377.5,124.1 L376.6,128.3 L377.9,127.2 L379.1,126.6 L379.5,127.6 L380,128.3 L381.1,128 L381.2,129.6 L383.1,127.7 L383.6,128.3 L383.4,130.6 L384.8,129.7 L386.2,129 L385.7,131.7 L386,132.8 L388.2,130.8 L389.6,130 L389.4,132 L390.2,132.4 L391,132.6 L390.5,135.2 L393,132.5 L392.2,135.8 L394.6,133 L395.1,133.9 L395,136.1 L395.8,137.1 L396.8,137 L397.7,136.5 L398.6,136.5 L399.3,136.7" fill="none" stroke="#141010" stroke-width="0.7" opacity="0.6"/><path d="M318.5,115.9l2,2m0,-2l-2,2M317.4,114.8l2,2m0,-2l-2,2M318.4,114l2,2m0,-2l-2,2M319.1,113.3l2,2m0,-2l-2,2M318.2,112.2l2,2m0,-2l-2,2M319.8,111.5l2,2m0,-2l-2,2M319.6,110.6l2,2m0,-2l-2,2M322.4,110.3l2,2m0,-2l-2,2M319.6,108.7l2,2m0,-2l-2,2M318.4,107.6l2,2m0,-2l-2,2M318.7,106.8l2,2m0,-2l-2,2M319.6,106.1l2,2m0,-2l-2,2M321.4,105.8l2,2m0,-2l-2,2M319.4,104.5l2,2m0,-2l-2,2M320.9,103.9l2,2m0,-2l-2,2M323.6,103.9l2,2m0,-2l-2,2M316.3,100.7l2,2m0,-2l-2,2M319.1,100.6l2,2m0,-2l-2,2M321.7,100.8l2,2m0,-2l-2,2M322.4,100.2l2,2m0,-2l-2,2M322.8,99.5l2,2m0,-2l-2,2M323.2,98.1l2,2m0,-2l-2,2M324.4,99.9l2,2m0,-2l-2,2M325.1,99.1l2,2m0,-2l-2,2M325.7,97.4l2,2m0,-2l-2,2M326.7,102.7l2,2m0,-2l-2,2M327.5,99l2,2m0,-2l-2,2M327.7,97.2l2,2m0,-2l-2,2M328.7,97.4l2,2m0,-2l-2,2M329.2,96.6l2,2m0,-2l-2,2M330.1,96.2l2,2m0,-2l-2,2M331.2,91.1l2,2m0,-2l-2,2M332.3,95.6l2,2m0,-2l-2,2M331,98.2l2,2m0,-2l-2,2M334.6,96.4l2,2m0,-2l-2,2M333.5,98.2l2,2m0,-2l-2,2M332.7,100.1l2,2m0,-2l-2,2M333.3,100.6l2,2m0,-2l-2,2M333,102l2,2m0,-2l-2,2M338,99.2l2,2m0,-2l-2,2M336.6,101.3l2,2m0,-2l-2,2M337.1,102.1l2,2m0,-2l-2,2M336.3,103.8l2,2m0,-2l-2,2M336.2,105.1l2,2m0,-2l-2,2M342,101.5l2,2m0,-2l-2,2M337.4,106.5l2,2m0,-2l-2,2M341.2,103.9l2,2m0,-2l-2,2M339.1,107.2l2,2m0,-2l-2,2M342.3,104.9l2,2m0,-2l-2,2M341.1,107.7l2,2m0,-2l-2,2M340.7,109.7l2,2m0,-2l-2,2M342.7,108.2l2,2m0,-2l-2,2M343,109.1l2,2m0,-2l-2,2M343.1,110.4l2,2m0,-2l-2,2M344.4,109.9l2,2m0,-2l-2,2M345.3,110l2,2m0,-2l-2,2M344.2,112.8l2,2m0,-2l-2,2M345.4,112.6l2,2m0,-2l-2,2M347.5,111.2l2,2m0,-2l-2,2M345.3,116.3l2,2m0,-2l-2,2M349.7,110.8l2,2m0,-2l-2,2M348.7,114.5l2,2m0,-2l-2,2M350.4,113l2,2m0,-2l-2,2M350.8,114l2,2m0,-2l-2,2M351.2,115.3l2,2m0,-2l-2,2M352.4,114.9l2,2m0,-2l-2,2M352.8,115.9l2,2m0,-2l-2,2M355.1,112.7l2,2m0,-2l-2,2M355.9,113.1l2,2m0,-2l-2,2M355.1,116.9l2,2m0,-2l-2,2M357,114.6l2,2m0,-2l-2,2M357.9,114.9l2,2m0,-2l-2,2M359,114.5l2,2m0,-2l-2,2M357.8,119.4l2,2m0,-2l-2,2M358.9,118.8l2,2m0,-2l-2,2M359.2,120.4l2,2m0,-2l-2,2M361.7,116.7l2,2m0,-2l-2,2M361.7,118.6l2,2m0,-2l-2,2M363.3,117.1l2,2m0,-2l-2,2M362.7,120.5l2,2m0,-2l-2,2M362.8,122.2l2,2m0,-2l-2,2M365.4,118.5l2,2m0,-2l-2,2M364.3,122.8l2,2m0,-2l-2,2M365.5,122.2l2,2m0,-2l-2,2M367.1,120.6l2,2m0,-2l-2,2M369.1,118l2,2m0,-2l-2,2M367.4,123.9l2,2m0,-2l-2,2M369.2,121.7l2,2m0,-2l-2,2M370.4,121.2l2,2m0,-2l-2,2M370.4,123.2l2,2m0,-2l-2,2M371.1,123.6l2,2m0,-2l-2,2M371,125.7l2,2m0,-2l-2,2M373.6,121.9l2,2m0,-2l-2,2M372.8,125.7l2,2m0,-2l-2,2M373.3,126.6l2,2m0,-2l-2,2M374,126.9l2,2m0,-2l-2,2M375.9,124.5l2,2m0,-2l-2,2M377.1,123.9l2,2m0,-2l-2,2M376.5,127.1l2,2m0,-2l-2,2M377.9,126l2,2m0,-2l-2,2M378.6,126.3l2,2m0,-2l-2,2M378.4,128.8l2,2m0,-2l-2,2M380.4,126.4l2,2m0,-2l-2,2M382.7,123.4l2,2m0,-2l-2,2M381.9,126.9l2,2m0,-2l-2,2M383.9,124.9l2,2m0,-2l-2,2M382.4,129.6l2,2m0,-2l-2,2M383.5,129.2l2,2m0,-2l-2,2M385.1,128.1l2,2m0,-2l-2,2M385.3,129.5l2,2m0,-2l-2,2M385.3,131.2l2,2m0,-2l-2,2M386.8,130.5l2,2m0,-2l-2,2M386.4,132.8l2,2m0,-2l-2,2M388.4,131.1l2,2m0,-2l-2,2M388.1,133.2l2,2m0,-2l-2,2M388.5,134.4l2,2m0,-2l-2,2M389.1,134.9l2,2m0,-2l-2,2M391.8,131.8l2,2m0,-2l-2,2M391.3,134.6l2,2m0,-2l-2,2M394.3,130.6l2,2m0,-2l-2,2M394.4,132.2l2,2m0,-2l-2,2M395.6,130.9l2,2m0,-2l-2,2M394.7,136.4l2,2m0,-2l-2,2M396.8,132.7l2,2m0,-2l-2,2M396.9,135l2,2m0,-2l-2,2M397.8,134.9l2,2m0,-2l-2,2M398.4,135.4l2,2m0,-2l-2,2" fill="none" stroke="#111" stroke-width="0.7" opacity="0.85"/><path d="M314.3,136.5 L314.4,135.9 L314.6,135.2 L314.7,134.4 L314.9,133.6 L315.1,132.6 L315.3,131.6 L315.5,130.5 L315.8,129.4 L316,128.2 L316.3,127 L316.5,125.8 L316.8,124.6 L317,123.4 L317.3,122.3 L317.5,121.1 L317.8,120 L318,119 L318.2,118 L318.5,116.9 L318.7,115.8 L318.9,114.7 L319.2,113.6 L319.4,112.5 L319.6,111.4 L319.9,110.3 L320.1,109.2 L320.3,108.1 L320.6,107.1 L320.8,106.2 L321.1,105.2 L321.3,104.4 L321.5,103.6 L321.8,102.9 L322,102.3 L323,100.6 L324.1,99.9 L325.1,99.8 L326,99.6 L327.1,99.4 L328,99.4 L329,99.2 L330,98.4 L331,97.4 L332,97 L332.7,97.3 L333.3,97.9 L334.1,98.8 L335,100 L335.6,100.7 L336.2,101.5 L336.9,102.5 L337.7,103.4 L338.4,104.4 L339.2,105.4 L339.9,106.2 L340.6,107 L341.5,107.8 L342.4,108.6 L343.3,109.2 L344.2,109.8 L345.1,110.4 L346,111 L346.8,111.6 L347.5,112.1 L348.3,112.6 L349.1,113.2 L350,113.8 L351.2,114.4 L352,114.8 L352.8,115.2 L353.7,115.6 L354.7,116 L355.7,116.5 L356.7,116.9 L357.7,117.4 L358.8,117.9 L359.8,118.3 L360.8,118.8 L361.8,119.2 L362.8,119.6 L363.7,120.1 L364.7,120.5 L365.7,120.9 L366.6,121.3 L367.6,121.8 L368.5,122.2 L369.5,122.6 L370.5,123 L371.4,123.5 L372.4,123.9 L373.4,124.3 L374.3,124.8 L375.3,125.2 L376.3,125.6 L377.2,126 L378.2,126.4 L379.1,126.9 L380.1,127.3 L381.1,127.8 L382,128.2 L383,128.7 L383.9,129.2 L384.8,129.7 L385.8,130.2 L386.7,130.7 L387.7,131.2 L388.6,131.8 L389.5,132.3 L390.4,132.8 L391.3,133.3 L392.1,133.7 L392.9,134.1 L393.6,134.5 L394.9,135.1 L396.1,135.5 L397.2,135.9 L398.1,136.1 L398.9,136.3 L399.5,136.5" fill="none" stroke="#a41c1c" stroke-width="1.3" stroke-linejoin="round"/>
<rect x="371" y="68.1" width="10.7" height="6.6" fill="#d5e8da"/>
<rect x="371" y="77.3" width="10.7" height="6.6" fill="#fdebdf"/>
<text x="383.7" y="74.1" font-size="7" font-weight="bold" fill="#444">1P</text>
<text x="383.7" y="83.3" font-size="7" font-weight="bold" fill="#444">2P</text>
<text x="354.6" y="93.8" font-size="7" font-weight="bold" fill="#444">Cu3Zn</text>
<text x="382.4" y="93.7" font-size="8" fill="#3a3a3a" font-style="italic">E</text>
<text x="386.7" y="96.6" font-size="5.4" fill="#3a3a3a" font-weight="bold">2g</text>
<text x="374.6" y="107.9" font-size="7" font-weight="bold" fill="#d85050">290 K</text>
<path d="M314,140.8v-2.6 M314,61.2v2.6 M319.3,140.8v-1.5 M319.3,61.2v1.5 M324.6,140.8v-1.5 M324.6,61.2v1.5 M329.9,140.8v-1.5 M329.9,61.2v1.5 M335.2,140.8v-2.6 M335.2,61.2v2.6 M340.5,140.8v-1.5 M340.5,61.2v1.5 M345.8,140.8v-1.5 M345.8,61.2v1.5 M351.1,140.8v-1.5 M351.1,61.2v1.5 M356.4,140.8v-2.6 M356.4,61.2v2.6 M361.7,140.8v-1.5 M361.7,61.2v1.5 M367,140.8v-1.5 M367,61.2v1.5 M372.3,140.8v-1.5 M372.3,61.2v1.5 M377.5,140.8v-2.6 M377.5,61.2v2.6 M382.8,140.8v-1.5 M382.8,61.2v1.5 M388.1,140.8v-1.5 M388.1,61.2v1.5 M393.4,140.8v-1.5 M393.4,61.2v1.5 M398.7,140.8v-2.6 M398.7,61.2v2.6 M314,117.4h2.6 M400,117.4h-2.6 M314,94h2.6 M400,94h-2.6 M314,70.6h2.6 M400,70.6h-2.6 " stroke="#555" stroke-width="0.7" fill="none"/>
<path d="M400,140.8 L400,137.9 L400.1,137.6 L400.1,137.4 L400.2,137 L400.2,136.7 L400.3,136.4 L400.4,136 L400.5,135.6 L400.5,135.2 L400.6,134.7 L400.7,134.3 L400.8,133.8 L400.9,133.3 L401,132.8 L401.1,132.3 L401.2,131.8 L401.3,131.3 L401.4,130.8 L401.5,130.2 L401.6,129.6 L401.7,129.1 L401.9,128.5 L402,127.9 L402.1,127.4 L402.2,126.8 L402.3,126.2 L402.4,125.6 L402.6,125 L402.7,124.5 L402.8,123.9 L402.9,123.3 L403,122.7 L403.1,122.2 L403.2,121.6 L403.4,121 L403.5,120.5 L403.6,119.9 L403.7,119.4 L403.8,118.9 L403.9,118.4 L404,117.9 L404.1,117.4 L404.2,116.9 L404.3,116.3 L404.4,115.8 L404.5,115.2 L404.7,114.7 L404.8,114.1 L404.9,113.6 L405,113 L405.1,112.4 L405.2,111.9 L405.3,111.3 L405.4,110.7 L405.6,110.1 L405.7,109.6 L405.8,109 L405.9,108.4 L406,107.9 L406.1,107.3 L406.2,106.8 L406.3,106.3 L406.5,105.7 L406.6,105.2 L406.7,104.7 L406.8,104.2 L406.9,103.7 L407,103.2 L407.1,102.7 L407.2,102.3 L407.3,101.8 L407.4,101.4 L407.5,101 L407.6,100.6 L407.7,100.3 L407.8,100.3 L407.9,100.3 L408,100.3 L408.1,100.3 L408.5,100.3 L408.9,100.3 L409.2,100.3 L409.6,100.3 L409.9,100.3 L410.2,100.3 L410.6,100.3 L411,100.3 L411.5,100.3 L411.9,100.3 L412.5,100.3 L413,100.3 L413.5,100.3 L414,100.3 L414.5,100.3 L415,100.3 L415.3,100.8 L415.7,101.3 L416.1,101.9 L416.5,102.5 L417,103.2 L417.5,104 L418.1,104.8 L418.6,105.7 L419.2,106.5 L419.9,107.5 L420.5,108.4 L421.2,109.4 L421.8,110.4 L422.5,111.4 L423.2,112.4 L423.9,113.4 L424.6,114.4 L425.2,115.4 L425.9,116.4 L426.6,117.3 L427.2,118.3 L427.8,119.2 L428.5,120.1 L429,120.9 L429.6,121.7 L430.1,122.5 L430.6,123.2 L431.1,123.8 L431.5,124.4 L432.6,125.8 L433.4,127 L434.2,127.9 L434.8,128.6 L435.4,129.2 L435.9,129.7 L436.4,130.2 L436.9,130.7 L437.4,131.3 L438,132 L438.6,132.9 L439.3,133.8 L440,134.8 L440.7,135.9 L441.4,136.9 L442.1,137.9 L442.7,138.8 L443.2,139.6 L443.6,140.3 L444,140.8 Z" fill="#d5e8da"/>
<path d="M403,140.8 L403.8,140.4 L404.8,140 L406,139.4 L407.3,138.8 L408.7,138.1 L410.2,137.4 L411.8,136.6 L413.5,135.9 L415.1,135.1 L416.8,134.4 L418.4,133.7 L420,133 L421.3,132.4 L422.7,131.8 L424.1,131.1 L425.4,130.4 L426.8,129.7 L428.3,128.9 L429.7,128.2 L431.1,127.6 L432.6,127 L434.1,126.4 L435.5,126 L437,125.6 L438.5,125.4 L440,125.3 L441.4,125.3 L442.8,125.5 L444.3,125.7 L445.8,126 L447.3,126.4 L448.8,126.8 L450.3,127.3 L451.7,127.9 L453.2,128.5 L454.7,129.1 L456.2,129.7 L457.7,130.3 L459.2,130.9 L460.6,131.5 L462,132 L463.5,132.6 L465.1,133.2 L466.8,133.9 L468.4,134.6 L470.1,135.3 L471.8,136.1 L473.4,136.8 L474.9,137.5 L476.4,138.2 L477.8,138.9 L479.1,139.5 L480.2,140 L481.2,140.4 L482,140.8 Z" fill="#fdebdf"/>
<path d="M404.5,114.3 L404.7,113.8 L404.8,113.2 L404.9,112.7 L405,112.1 L405.1,111.5 L405.2,111 L405.3,110.4 L405.4,109.8 L405.6,109.2 L405.7,108.7 L405.8,108.1 L405.9,107.5 L406,107 L406.1,106.4 L406.2,105.9 L406.3,105.4 L406.5,104.8 L406.6,104.3 L406.7,103.8 L406.8,103.3 L406.9,102.8 L407,102.3 L407.1,101.8 L407.2,101.4 L407.3,100.9 L407.4,100.5 L407.5,100.1 L407.6,99.7 L407.7,99.3 L407.8,99 L407.9,98.6 L408,98.3 L408.1,98 L408.5,96.8 L408.9,96.1 L409.2,95.6 L409.6,95.4 L409.9,95.3 L410.2,95.3 L410.6,95.2 L411,95 L411.5,94.7 L411.9,94.4 L412.5,94.1 L413,93.8 L413.5,93.6 L414,93.4 L414.5,93.4 L415,93.4 L415.4,93.5 L415.8,93.8 L416.1,94.1 L416.4,94.5 L416.8,94.9 L417.1,95.4 L417.5,95.9 L418,96.5 L418.3,96.8 L418.5,97.1 L418.8,97.5 L419.1,97.8 L419.5,98.2 L419.8,98.6 L420.1,99 L420.5,99.4 L420.8,99.8 L421.1,100.2 L421.5,100.6 L421.8,101.1 L422.2,101.5 L422.5,101.9 L422.9,102.2 L423.2,102.6 L423.5,103 L423.9,103.4 L424.2,103.7 L424.6,104.1 L424.9,104.5 L425.3,104.8 L425.6,105.2 L426,105.5 L426.3,105.9 L426.7,106.2 L427,106.6 L427.4,106.9 L427.8,107.3 L428.1,107.6 L428.5,108 L428.9,108.4 L429.3,108.7 L429.6,109.1 L430,109.4 L430.4,109.8 L430.8,110.1 L431.2,110.5 L431.6,110.8 L432,111.2 L432.4,111.5 L432.8,111.9 L433.2,112.2 L433.6,112.6 L434,112.9 L434.4,113.2 L434.8,113.5 L435.2,113.9 L435.6,114.2 L436,114.5 L436.4,114.8 L436.8,115.1 L437.2,115.4 L437.6,115.7 L438,116 L438.4,116.3 L438.8,116.6 L439.2,116.9 L439.6,117.2 L440,117.5 L440.4,117.8 L440.9,118.1 L441.3,118.5 L441.7,118.8 L442.2,119.1 L442.6,119.4 L443,119.7 L443.5,120.1 L443.9,120.4 L444.3,120.7 L444.7,121 L445.2,121.3 L445.6,121.6 L446,121.9 L446.4,122.2 L446.9,122.5 L447.3,122.8 L447.7,123.1 L448.1,123.4 L448.5,123.7 L448.9,123.9 L449.3,124.2 L449.7,124.5 L450.1,124.8 L450.6,125 L451,125.3 L451.4,125.6 L451.9,125.8 L452.3,126.1 L452.8,126.3 L453.2,126.6 L453.7,126.8 L454.1,127.1 L454.6,127.3 L455,127.5 L455.5,127.7 L455.9,128 L456.4,128.2 L456.8,128.4 L457.3,128.6 L457.8,128.9 L458.2,129.1 L458.7,129.3 L459.2,129.6 L459.6,129.8 L460.1,130 L460.5,130.2 L461,130.4 L461.5,130.6 L462,130.8 L462.5,131 L463,131.2 L463.4,131.3 L463.9,131.5 L464.4,131.6 L464.9,131.8 L465.5,132 L466,132.1 L466.5,132.3 L467,132.4 L467.5,132.6 L468,132.8 L468.5,133 L469,133.2 L469.5,133.4 L470,133.6 L470.5,133.8 L471,134 L471.5,134.2 L472.1,134.4 L472.5,134.6 L473,134.8 L473.5,135 L474,135.2 L474.5,135.4 L475,135.6 L475.5,135.8 L476,136 L476.4,136.2 L476.9,136.4 L477.4,136.6 L477.9,136.8 L478.3,137 L478.8,137.1 L479.3,137.3 L479.8,137.4 L480.4,137.6 L480.9,137.7 L481.5,137.9 L482.1,138 L482.7,138.1 L483.2,138.2 L483.7,138.3 L484.1,138.4 L484.5,138.4 L484.8,138.5" fill="none" stroke="#2a1414" stroke-width="5.2" stroke-linejoin="round" opacity="0.8"/><path d="M403.7,114.3 L405,113.7 L407.4,113.3 L405.1,111.9 L406,111.1 L406.8,110.4 L405.3,109.1 L404,107.9 L405.1,107.3 L407.6,106.9 L404,105.2 L405.6,104.7 L408,104.3 L407.9,103.5 L407,102.5 L408.3,102 L407.6,100.9 L405.9,99.6 L405.6,98.7 L407.1,98.2 L409.5,97.9 L407.9,96.3 L408,95 L409.2,94.3 L409.8,93.1 L411.3,94.6 L411.2,92.8 L413.1,94.3 L412.7,90.3 L414.5,93.8 L415.7,92.6 L417.9,91.9 L415.7,95.2 L417.3,95 L420,93.9 L419,95.7 L418.2,97.4 L419.6,97.4 L418.8,99.2 L419.4,99.8 L420,100.4 L420.9,100.7 L420.4,102.3 L421.7,102.3 L422.5,102.7 L425.7,100.9 L423.1,104.4 L423.2,105.4 L425.5,104.4 L426.2,104.8 L424.3,107.8 L428.7,104.6 L427,107.5 L425.6,110.1 L429.6,107.2 L428.6,109.4 L428,111.2 L430.5,109.7 L430.5,110.9 L430.8,111.8 L433.1,110.4 L433,111.8 L433.2,112.8 L433.3,113.9 L434.8,113.4 L435.6,113.8 L436.9,113.3 L437,114.6 L436.5,116.5 L437.8,116.1 L439.3,115.4 L439.9,115.9 L437.5,120.5 L439.5,119.2 L440.6,119.1 L444,115.9 L442,120.1 L442.7,120.4 L442.4,122.3 L444.1,121.3 L445.2,121.2 L445.3,122.3 L448.1,119.9 L446.3,123.9 L447.5,123.5 L449,122.8 L448.1,125.7 L448.4,126.7 L451.6,123.3 L451.7,124.6 L451.7,126.2 L452.5,126.5 L453.6,126.1 L454.7,125.8 L453.4,130.1 L454.9,129.1 L457,126.6 L457.9,126.8 L456.7,131.1 L457.9,130.5 L458.1,132 L459.4,131 L461.2,129.1 L461.3,130.9 L463.3,128 L463.3,130.1 L463.7,131.3 L464.2,132.4 L465.6,130.9 L466.1,132 L466.6,133 L467.4,133.2 L468.1,133.8 L469,133.5 L470.1,133.1 L470.2,134.9 L471.4,134.2 L472.6,133.4 L473.3,133.9 L473.6,135.1 L474.5,135.2 L475.1,135.9 L475.9,136 L476.6,136.6 L477.5,136.4 L478.8,135.2 L478.7,137.8 L479.3,138.9 L480.4,138.2 L481.5,137.6 L482.3,138.7 L483.5,136.8 L484.5,135.7 L484.8,138.6" fill="none" stroke="#141010" stroke-width="0.7" opacity="0.6"/><path d="M401.9,113.2l2,2m0,-2l-2,2M405,112.9l2,2m0,-2l-2,2M401.9,111.4l2,2m0,-2l-2,2M399.4,109.9l2,2m0,-2l-2,2M402.4,109.6l2,2m0,-2l-2,2M407.2,109.6l2,2m0,-2l-2,2M403.9,108l2,2m0,-2l-2,2M402.3,106.8l2,2m0,-2l-2,2M403.6,106.1l2,2m0,-2l-2,2M406,105.7l2,2m0,-2l-2,2M406.1,104.9l2,2m0,-2l-2,2M405.8,103.9l2,2m0,-2l-2,2M408.2,103.6l2,2m0,-2l-2,2M407,102.5l2,2m0,-2l-2,2M405.9,101.5l2,2m0,-2l-2,2M407.2,101l2,2m0,-2l-2,2M409.2,100.6l2,2m0,-2l-2,2M408.2,99.5l2,2m0,-2l-2,2M408.5,98.8l2,2m0,-2l-2,2M405.1,96.9l2,2m0,-2l-2,2M407,96.4l2,2m0,-2l-2,2M408.8,96.2l2,2m0,-2l-2,2M407.6,94.5l2,2m0,-2l-2,2M409.5,96.1l2,2m0,-2l-2,2M409.9,95.2l2,2m0,-2l-2,2M411.2,95.2l2,2m0,-2l-2,2M410.9,93l2,2m0,-2l-2,2M413.9,97l2,2m0,-2l-2,2M413.4,94.7l2,2m0,-2l-2,2M413.5,92l2,2m0,-2l-2,2M414.3,92.7l2,2m0,-2l-2,2M411.9,96.5l2,2m0,-2l-2,2M416,93.2l2,2m0,-2l-2,2M414.8,95.2l2,2m0,-2l-2,2M415.1,96l2,2m0,-2l-2,2M417,95.5l2,2m0,-2l-2,2M419.1,94.8l2,2m0,-2l-2,2M417.9,97l2,2m0,-2l-2,2M418.2,97.9l2,2m0,-2l-2,2M417.6,99.4l2,2m0,-2l-2,2M418.6,99.6l2,2m0,-2l-2,2M420.3,99.4l2,2m0,-2l-2,2M419.7,101.1l2,2m0,-2l-2,2M420.7,101.3l2,2m0,-2l-2,2M421.7,101.6l2,2m0,-2l-2,2M422.4,102l2,2m0,-2l-2,2M423.4,102.2l2,2m0,-2l-2,2M422.7,104l2,2m0,-2l-2,2M425.5,102.4l2,2m0,-2l-2,2M425.5,103.5l2,2m0,-2l-2,2M425.3,104.9l2,2m0,-2l-2,2M427.7,103.6l2,2m0,-2l-2,2M427,105.4l2,2m0,-2l-2,2M429.6,104l2,2m0,-2l-2,2M428.5,106.2l2,2m0,-2l-2,2M427.5,108.4l2,2m0,-2l-2,2M428.1,109l2,2m0,-2l-2,2M429.5,108.7l2,2m0,-2l-2,2M430.3,109l2,2m0,-2l-2,2M432.3,108l2,2m0,-2l-2,2M429.1,112.9l2,2m0,-2l-2,2M431.3,111.6l2,2m0,-2l-2,2M431.2,113l2,2m0,-2l-2,2M434.1,110.7l2,2m0,-2l-2,2M433.9,112.2l2,2m0,-2l-2,2M436.4,110.4l2,2m0,-2l-2,2M434.2,114.6l2,2m0,-2l-2,2M434.6,115.3l2,2m0,-2l-2,2M438.4,111.8l2,2m0,-2l-2,2M437,114.9l2,2m0,-2l-2,2M436.9,116.3l2,2m0,-2l-2,2M440.1,113.4l2,2m0,-2l-2,2M440.8,113.7l2,2m0,-2l-2,2M440.6,115.3l2,2m0,-2l-2,2M440.8,116.5l2,2m0,-2l-2,2M442.3,115.8l2,2m0,-2l-2,2M441.4,118.4l2,2m0,-2l-2,2M441.9,119.2l2,2m0,-2l-2,2M442.1,120.2l2,2m0,-2l-2,2M442.7,120.8l2,2m0,-2l-2,2M442.5,122.5l2,2m0,-2l-2,2M443.6,122.4l2,2m0,-2l-2,2M446.8,119.3l2,2m0,-2l-2,2M446.7,120.9l2,2m0,-2l-2,2M447.9,120.6l2,2m0,-2l-2,2M448.6,121l2,2m0,-2l-2,2M448.2,123l2,2m0,-2l-2,2M448.8,123.5l2,2m0,-2l-2,2M449,124.7l2,2m0,-2l-2,2M451.6,122l2,2m0,-2l-2,2M452,122.9l2,2m0,-2l-2,2M451.6,125.2l2,2m0,-2l-2,2M452.5,125.3l2,2m0,-2l-2,2M453.4,125.5l2,2m0,-2l-2,2M453.9,126.3l2,2m0,-2l-2,2M455.2,125.6l2,2m0,-2l-2,2M454.7,128.3l2,2m0,-2l-2,2M455.7,128.1l2,2m0,-2l-2,2M456.8,127.7l2,2m0,-2l-2,2M458,127.1l2,2m0,-2l-2,2M458.3,128.3l2,2m0,-2l-2,2M461,124.5l2,2m0,-2l-2,2M460.4,127.6l2,2m0,-2l-2,2M460.4,129.6l2,2m0,-2l-2,2M462.1,127.3l2,2m0,-2l-2,2M461.8,130.5l2,2m0,-2l-2,2M462.6,130.7l2,2m0,-2l-2,2M464.2,128.3l2,2m0,-2l-2,2M464.4,130.5l2,2m0,-2l-2,2M465.2,130.6l2,2m0,-2l-2,2M465.6,132.2l2,2m0,-2l-2,2M466.2,132.7l2,2m0,-2l-2,2M467.4,131.9l2,2m0,-2l-2,2M468.7,130.8l2,2m0,-2l-2,2M469,132.3l2,2m0,-2l-2,2M469.7,132.7l2,2m0,-2l-2,2M469.9,134.4l2,2m0,-2l-2,2M471,133.9l2,2m0,-2l-2,2M472.4,132.6l2,2m0,-2l-2,2M473.6,131.8l2,2m0,-2l-2,2M473.7,133.7l2,2m0,-2l-2,2M474.7,133.5l2,2m0,-2l-2,2M475.7,133.2l2,2m0,-2l-2,2M475.8,135.1l2,2m0,-2l-2,2M476.7,134.8l2,2m0,-2l-2,2M477.1,136.1l2,2m0,-2l-2,2M477.6,137.1l2,2m0,-2l-2,2M478.9,135.7l2,2m0,-2l-2,2M478.6,140.7l2,2m0,-2l-2,2M480.6,136.3l2,2m0,-2l-2,2M481,139l2,2m0,-2l-2,2M482.2,137.4l2,2m0,-2l-2,2M482.6,139.3l2,2m0,-2l-2,2M484.6,133.3l2,2m0,-2l-2,2" fill="none" stroke="#111" stroke-width="0.7" opacity="0.85"/><path d="M400,137 L400.1,136.5 L400.2,135.8 L400.4,135.1 L400.5,134.3 L400.7,133.4 L400.9,132.4 L401.1,131.4 L401.3,130.4 L401.5,129.3 L401.7,128.2 L402,127 L402.2,125.9 L402.4,124.7 L402.7,123.6 L402.9,122.4 L403.1,121.3 L403.4,120.1 L403.6,119 L403.8,118 L404,117 L404.2,116 L404.4,114.9 L404.7,113.8 L404.9,112.7 L405.1,111.5 L405.3,110.4 L405.6,109.2 L405.8,108.1 L406,107 L406.2,105.9 L406.5,104.8 L406.7,103.8 L406.9,102.8 L407.1,101.8 L407.3,100.9 L407.5,100.1 L407.7,99.3 L407.9,98.6 L408.1,98 L408.9,96.1 L409.6,95.4 L410.2,95.3 L411,95 L411.9,94.4 L413,93.8 L414,93.4 L415,93.4 L415.8,93.8 L416.4,94.5 L417.1,95.4 L418,96.5 L418.5,97.1 L419.1,97.8 L419.8,98.6 L420.5,99.4 L421.1,100.2 L421.8,101.1 L422.5,101.9 L423.2,102.6 L423.9,103.4 L424.7,104.2 L425.4,105 L426.2,105.7 L426.9,106.5 L427.7,107.2 L428.5,108 L429.3,108.8 L430.2,109.5 L431,110.3 L431.9,111 L432.7,111.8 L433.6,112.5 L434.4,113.2 L435.2,113.9 L436,114.5 L436.8,115.1 L437.6,115.7 L438.4,116.3 L439.2,116.9 L440,117.5 L440.9,118.2 L441.9,118.9 L442.8,119.6 L443.7,120.3 L444.7,120.9 L445.6,121.6 L446.5,122.2 L447.4,122.9 L448.3,123.5 L449.2,124.1 L450.1,124.7 L451,125.3 L452,125.9 L452.9,126.4 L453.9,126.9 L454.9,127.4 L455.9,127.9 L456.8,128.4 L457.9,128.9 L458.9,129.4 L459.9,129.9 L460.9,130.4 L462,130.8 L463,131.2 L463.9,131.5 L464.9,131.8 L466,132.1 L467,132.4 L468,132.8 L469,133.2 L470,133.6 L471,134 L472.1,134.4 L473,134.8 L474,135.2 L475.1,135.7 L476.2,136.1 L477.2,136.5 L478.2,136.9 L479.3,137.3 L480.5,137.6 L481.7,137.9 L483,138.1 L484,138.4 L484.8,138.5" fill="none" stroke="#a41c1c" stroke-width="1.3" stroke-linejoin="round"/>
<rect x="456.5" y="68.1" width="10.7" height="6.6" fill="#d5e8da"/>
<rect x="456.5" y="77.3" width="10.7" height="6.6" fill="#fdebdf"/>
<text x="469.2" y="74.1" font-size="7" font-weight="bold" fill="#444">1P</text>
<text x="469.2" y="83.3" font-size="7" font-weight="bold" fill="#444">2P</text>
<text x="440.1" y="93.8" font-size="7" font-weight="bold" fill="#444">Cu3Zn</text>
<text x="467.9" y="93.7" font-size="8" fill="#3a3a3a" font-style="italic">E</text>
<text x="472.2" y="96.6" font-size="5.4" fill="#3a3a3a" font-weight="bold">2g</text>
<text x="460.1" y="107.9" font-size="7" font-weight="bold" fill="#d85050">247 K</text>
<path d="M400,140.8v-2.6 M400,61.2v2.6 M405.3,140.8v-1.5 M405.3,61.2v1.5 M410.5,140.8v-1.5 M410.5,61.2v1.5 M415.8,140.8v-1.5 M415.8,61.2v1.5 M421.1,140.8v-2.6 M421.1,61.2v2.6 M426.3,140.8v-1.5 M426.3,61.2v1.5 M431.6,140.8v-1.5 M431.6,61.2v1.5 M436.9,140.8v-1.5 M436.9,61.2v1.5 M442.1,140.8v-2.6 M442.1,61.2v2.6 M447.4,140.8v-1.5 M447.4,61.2v1.5 M452.6,140.8v-1.5 M452.6,61.2v1.5 M457.9,140.8v-1.5 M457.9,61.2v1.5 M463.2,140.8v-2.6 M463.2,61.2v2.6 M468.4,140.8v-1.5 M468.4,61.2v1.5 M473.7,140.8v-1.5 M473.7,61.2v1.5 M479,140.8v-1.5 M479,61.2v1.5 M484.2,140.8v-2.6 M484.2,61.2v2.6 M400,117.4h2.6 M485.5,117.4h-2.6 M400,94h2.6 M485.5,94h-2.6 M400,70.6h2.6 M485.5,70.6h-2.6 " stroke="#555" stroke-width="0.7" fill="none"/>
<path d="M485.5,140.8 L485.8,134.9 L485.8,134.6 L485.9,134.4 L485.9,134 L486,133.7 L486.1,133.4 L486.1,133 L486.2,132.6 L486.3,132.2 L486.3,131.7 L486.4,131.3 L486.5,130.8 L486.6,130.4 L486.6,129.9 L486.7,129.4 L486.8,128.8 L486.9,128.3 L487,127.8 L487.1,127.2 L487.2,126.7 L487.3,126.1 L487.4,125.5 L487.5,125 L487.5,124.4 L487.6,123.8 L487.7,123.2 L487.8,122.6 L487.9,122 L488,121.5 L488.1,120.9 L488.2,120.3 L488.3,119.7 L488.4,119.1 L488.5,118.6 L488.6,118 L488.7,117.4 L488.8,116.9 L488.9,116.4 L489,115.8 L489.1,115.3 L489.2,114.8 L489.3,114.3 L489.3,113.8 L489.4,113.4 L489.5,112.9 L489.6,112.3 L489.7,111.7 L489.8,111.2 L489.9,110.6 L490,110 L490.1,109.4 L490.2,108.8 L490.3,108.3 L490.4,107.7 L490.4,107.1 L490.5,106.5 L490.6,106 L490.7,105.4 L490.8,104.8 L490.9,104.3 L491,103.7 L491.1,103.2 L491.2,102.7 L491.2,102.1 L491.3,101.6 L491.4,101.1 L491.5,100.6 L491.6,100.2 L491.7,99.7 L491.8,99.2 L491.9,98.8 L492,98.4 L492.1,98 L492.2,97.6 L492.3,97.5 L492.4,97.5 L492.5,97.5 L492.6,97.5 L492.7,97.5 L493.1,97.5 L493.5,97.5 L493.9,97.5 L494.4,97.5 L494.8,97.5 L495.2,97.5 L495.7,97.5 L496.1,97.5 L496.6,97.5 L497,97.5 L497.5,97.5 L498,97.5 L498.5,97.5 L499,97.5 L499.3,98 L499.6,98.5 L500,99 L500.4,99.7 L500.8,100.3 L501.3,101.1 L501.8,101.8 L502.3,102.6 L502.9,103.5 L503.4,104.4 L504,105.3 L504.6,106.2 L505.2,107.2 L505.8,108.2 L506.5,109.2 L507.1,110.2 L507.8,111.2 L508.5,112.2 L509.1,113.3 L509.8,114.3 L510.5,115.3 L511.1,116.4 L511.8,117.4 L512.4,118.4 L513.1,119.4 L513.7,120.4 L514.3,121.3 L514.9,122.3 L515.5,123.1 L516.1,124 L516.6,124.8 L517.1,125.6 L517.6,126.4 L518.1,127.1 L518.5,127.7 L518.9,128.4 L519.3,128.9 L520.6,130.8 L521.6,132.2 L522.4,133.2 L523,133.8 L523.5,134.3 L523.8,134.7 L524.2,135 L524.6,135.4 L525,136 L525.8,137.2 L526.5,138.3 L527.1,139.3 L527.6,140.2 L528,140.8 Z" fill="#d5e8da"/>
<path d="M489,140.8 L489.8,140.5 L490.9,140.1 L492.1,139.6 L493.5,139.1 L495,138.5 L496.6,137.9 L498.3,137.3 L500,136.7 L501.7,136.1 L503.4,135.5 L505,135 L506.5,134.5 L507.9,134 L509.4,133.4 L510.9,132.8 L512.5,132.2 L514,131.6 L515.6,131.1 L517.2,130.6 L518.8,130.2 L520.4,129.9 L522,129.7 L523.7,129.6 L525.1,129.6 L526.6,129.7 L528.1,129.9 L529.6,130.2 L531.1,130.5 L532.7,130.9 L534.2,131.3 L535.8,131.8 L537.3,132.2 L538.9,132.7 L540.4,133.2 L542,133.6 L543.5,134.1 L545,134.5 L546.6,134.9 L548.2,135.4 L549.9,135.9 L551.6,136.4 L553.4,136.9 L555.1,137.4 L556.8,138 L558.5,138.5 L560.1,139 L561.5,139.4 L562.9,139.8 L564.1,140.2 L565.1,140.5 L566,140.8 Z" fill="#fdebdf"/>
<path d="M490.1,108.5 L490.2,107.9 L490.3,107.4 L490.4,106.8 L490.4,106.2 L490.5,105.6 L490.6,105.1 L490.7,104.5 L490.8,103.9 L490.9,103.4 L491,102.8 L491.1,102.3 L491.2,101.8 L491.2,101.2 L491.3,100.7 L491.4,100.2 L491.5,99.7 L491.6,99.3 L491.7,98.8 L491.8,98.3 L491.9,97.9 L492,97.5 L492.1,97.1 L492.2,96.7 L492.3,96.3 L492.4,96 L492.5,95.6 L492.6,95.3 L492.7,95 L493.1,94.1 L493.5,93.5 L493.9,93.1 L494.4,92.8 L494.8,92.6 L495.2,92.5 L495.7,92.5 L496.1,92.5 L496.6,92.4 L497,92.3 L497.5,92.1 L498,92 L498.5,91.9 L499,91.8 L499.5,91.8 L500,91.8 L500.5,91.8 L501,91.8 L501.5,91.8 L502,91.9 L502.6,91.9 L503.1,92 L503.6,92.1 L504.1,92.3 L504.6,92.6 L505.1,93 L505.4,93.3 L505.6,93.6 L505.9,93.9 L506.1,94.3 L506.4,94.7 L506.6,95.1 L506.9,95.6 L507.1,96.1 L507.4,96.6 L507.6,97.1 L507.9,97.7 L508.3,98.3 L508.6,98.9 L508.8,99.3 L509,99.7 L509.2,100.1 L509.5,100.5 L509.7,100.9 L509.9,101.4 L510.2,101.8 L510.4,102.3 L510.7,102.8 L511,103.3 L511.2,103.8 L511.5,104.3 L511.8,104.8 L512,105.3 L512.3,105.7 L512.6,106.2 L512.8,106.7 L513.1,107.2 L513.4,107.7 L513.6,108.1 L513.9,108.6 L514.1,109 L514.4,109.4 L514.7,109.9 L515,110.4 L515.3,110.8 L515.6,111.3 L515.9,111.8 L516.2,112.3 L516.5,112.7 L516.8,113.2 L517.1,113.6 L517.5,114 L517.8,114.5 L518.1,114.9 L518.4,115.3 L518.7,115.7 L519,116.1 L519.3,116.4 L519.6,116.8 L519.9,117.2 L520.2,117.5 L520.6,117.9 L521,118.4 L521.4,118.8 L521.9,119.1 L522.3,119.5 L522.7,119.8 L523.1,120.1 L523.5,120.4 L523.9,120.7 L524.3,121 L524.8,121.3 L525.2,121.6 L525.6,121.9 L526,122.2 L526.4,122.5 L526.8,122.8 L527.2,123.1 L527.6,123.3 L528,123.6 L528.3,123.8 L528.7,124 L529.1,124.3 L529.6,124.5 L530.1,124.8 L530.6,125.1 L531.2,125.4 L531.8,125.7 L532.2,125.9 L532.5,126.1 L532.9,126.3 L533.3,126.4 L533.8,126.7 L534.2,126.9 L534.7,127.1 L535.1,127.3 L535.6,127.5 L536.1,127.7 L536.5,127.9 L537,128.2 L537.5,128.4 L538,128.6 L538.5,128.8 L539.1,129 L539.6,129.3 L540.1,129.5 L540.6,129.7 L541.1,129.9 L541.6,130.1 L542.1,130.3 L542.6,130.5 L543,130.7 L543.5,130.9 L544,131.1 L544.5,131.3 L545,131.5 L545.4,131.6 L545.9,131.8 L546.4,132 L546.9,132.2 L547.4,132.4 L547.9,132.5 L548.3,132.7 L548.8,132.9 L549.3,133 L549.8,133.2 L550.3,133.4 L550.8,133.5 L551.2,133.7 L551.7,133.8 L552.2,134 L552.7,134.1 L553.2,134.3 L553.7,134.5 L554.1,134.6 L554.6,134.8 L555.1,134.9 L555.6,135 L556.1,135.2 L556.6,135.3 L557.1,135.5 L557.7,135.6 L558.2,135.8 L558.7,135.9 L559.3,136.1 L559.8,136.2 L560.4,136.4 L560.9,136.5 L561.4,136.7 L561.9,136.8 L562.5,136.9 L563,137.1 L563.4,137.2 L563.9,137.3 L564.4,137.4 L564.8,137.5 L565.2,137.6 L565.6,137.7 L566,137.8 L566.4,137.9 L566.7,138 L567.8,138.3 L568.5,138.4 L569.1,138.5 L569.5,138.5 L569.7,138.6 L570,138.6" fill="none" stroke="#2a1414" stroke-width="5.2" stroke-linejoin="round" opacity="0.8"/><path d="M488.9,108.8 L490.5,108.2 L491.1,107.3 L493.8,106.8 L491,105.4 L492.5,104.7 L491.9,103.8 L492.3,102.9 L491.9,102 L491.1,101 L492.1,100.4 L490,99.2 L493.4,99.1 L490.5,97.6 L492.4,97.1 L495.2,97.1 L492.2,95.4 L492.9,94.6 L494.7,94.7 L493.9,93.2 L494.1,91.6 L495.5,92.9 L496.5,93.3 L497.5,93.2 L497.8,90.9 L499.2,94.3 L499.7,94.2 L500.4,91.8 L501.2,92.2 L502,91.3 L502.5,94 L503.9,91.2 L503.9,93.3 L505.6,92.5 L506.4,92.9 L505.2,94.8 L504.9,96 L506.9,95.7 L508.2,96 L506.7,97.8 L508.3,98.2 L508.2,99.1 L507.1,100.7 L508,101.2 L510.5,100.8 L507.3,103.4 L510.6,102.6 L510,103.9 L512.2,103.7 L511.9,104.9 L514.5,104.4 L510.4,107.7 L511.4,108.1 L515,107 L515.8,107.5 L516.3,108 L513.3,110.9 L515.8,110.4 L515.8,111.4 L516.6,111.9 L516.8,112.8 L518.4,112.7 L517.6,114.2 L519.7,113.6 L518.6,115.4 L518.7,116.4 L519.1,117.3 L520.4,117.3 L521.8,117.2 L521.3,118.9 L522.5,118.8 L521.3,121.6 L522.7,121.2 L524.1,120.6 L525,120.7 L525.8,120.8 L526.6,121 L526.8,122.1 L526.9,123.3 L527.5,124.1 L528.2,124.7 L527.7,127 L530.5,123.9 L530.8,125.2 L529.7,129.2 L533.4,123.5 L533.3,125.6 L533.7,126.9 L534.4,127.2 L535,127.9 L536.1,127.4 L536.5,128.5 L537.5,128.4 L537.8,129.7 L540.1,126.5 L540.4,128.2 L540.6,129.7 L542,128.7 L542.8,129 L542.6,131.5 L544,130.1 L544.1,132.1 L544.8,132.6 L545.8,132.3 L546.5,132.8 L547.6,132.3 L548.9,130.8 L549,132.9 L549.6,133.8 L550.8,132.7 L551.3,133.6 L551.7,135 L553.2,133 L553.3,135.3 L553.5,137.2 L555.3,134.1 L555.8,135.3 L556.8,135.2 L557,137.8 L558.3,136.3 L558.9,137.3 L560.4,135.4 L561,136.5 L561.8,136.8 L563.3,134.5 L562.9,139.2 L563.9,138.6 L565.7,135.2 L565.6,138.8 L566.7,137.8 L567.4,138.8 L568.4,138.9 L569.5,136.4 L570,138.3" fill="none" stroke="#141010" stroke-width="0.7" opacity="0.6"/><path d="M491.7,108.4l2,2m0,-2l-2,2M488.1,106.9l2,2m0,-2l-2,2M487.5,105.9l2,2m0,-2l-2,2M487,104.9l2,2m0,-2l-2,2M487.4,104l2,2m0,-2l-2,2M490.3,103.6l2,2m0,-2l-2,2M492.9,103.1l2,2m0,-2l-2,2M490.8,101.8l2,2m0,-2l-2,2M490.6,100.9l2,2m0,-2l-2,2M494.2,100.7l2,2m0,-2l-2,2M489.5,99.1l2,2m0,-2l-2,2M489.4,98.3l2,2m0,-2l-2,2M491.6,97.9l2,2m0,-2l-2,2M491.9,97.1l2,2m0,-2l-2,2M489.3,95.6l2,2m0,-2l-2,2M489.3,94.7l2,2m0,-2l-2,2M492,94.7l2,2m0,-2l-2,2M492.3,93.8l2,2m0,-2l-2,2M490.4,91.4l2,2m0,-2l-2,2M492.6,91.9l2,2m0,-2l-2,2M493.2,90.8l2,2m0,-2l-2,2M494.5,92.3l2,2m0,-2l-2,2M495.3,91.2l2,2m0,-2l-2,2M496.2,91.1l2,2m0,-2l-2,2M496.9,90.4l2,2m0,-2l-2,2M498.1,92.7l2,2m0,-2l-2,2M498.7,93.3l2,2m0,-2l-2,2M499.4,90.1l2,2m0,-2l-2,2M500.1,92.3l2,2m0,-2l-2,2M501.1,89.5l2,2m0,-2l-2,2M501.8,91.1l2,2m0,-2l-2,2M502.2,92.4l2,2m0,-2l-2,2M502,93.8l2,2m0,-2l-2,2M504.6,91.5l2,2m0,-2l-2,2M504.7,92.5l2,2m0,-2l-2,2M504.8,93.4l2,2m0,-2l-2,2M507.9,92.7l2,2m0,-2l-2,2M505.9,94.7l2,2m0,-2l-2,2M507.4,94.9l2,2m0,-2l-2,2M506.1,96.6l2,2m0,-2l-2,2M509,96.2l2,2m0,-2l-2,2M510.7,96.2l2,2m0,-2l-2,2M507.9,98.7l2,2m0,-2l-2,2M508,99.7l2,2m0,-2l-2,2M509.7,99.7l2,2m0,-2l-2,2M507.8,101.6l2,2m0,-2l-2,2M510,101.4l2,2m0,-2l-2,2M511,101.8l2,2m0,-2l-2,2M509.6,103.5l2,2m0,-2l-2,2M513.3,102.5l2,2m0,-2l-2,2M512.3,104.1l2,2m0,-2l-2,2M511.7,105.4l2,2m0,-2l-2,2M510.7,106.9l2,2m0,-2l-2,2M512.7,106.7l2,2m0,-2l-2,2M512.4,107.9l2,2m0,-2l-2,2M514.3,107.6l2,2m0,-2l-2,2M513.3,109.3l2,2m0,-2l-2,2M511.7,111.3l2,2m0,-2l-2,2M515.7,109.8l2,2m0,-2l-2,2M511.6,113.5l2,2m0,-2l-2,2M516.6,111.2l2,2m0,-2l-2,2M516.1,112.6l2,2m0,-2l-2,2M516.3,113.4l2,2m0,-2l-2,2M515.6,115l2,2m0,-2l-2,2M519.3,113.1l2,2m0,-2l-2,2M521,112.7l2,2m0,-2l-2,2M517.8,116.5l2,2m0,-2l-2,2M518.1,117.5l2,2m0,-2l-2,2M519,118l2,2m0,-2l-2,2M517.2,121.2l2,2m0,-2l-2,2M520.8,118.6l2,2m0,-2l-2,2M521.4,119.2l2,2m0,-2l-2,2M521.3,120.7l2,2m0,-2l-2,2M522.6,120.3l2,2m0,-2l-2,2M521.9,122.7l2,2m0,-2l-2,2M525.5,118.8l2,2m0,-2l-2,2M525.2,120.5l2,2m0,-2l-2,2M529.1,116.5l2,2m0,-2l-2,2M525.3,123.2l2,2m0,-2l-2,2M527.2,121.9l2,2m0,-2l-2,2M526.7,124.4l2,2m0,-2l-2,2M526.3,126.7l2,2m0,-2l-2,2M529,123.8l2,2m0,-2l-2,2M530,123.8l2,2m0,-2l-2,2M530.9,123.8l2,2m0,-2l-2,2M531.9,123.6l2,2m0,-2l-2,2M532.5,124.3l2,2m0,-2l-2,2M532.3,126.7l2,2m0,-2l-2,2M533.5,126.1l2,2m0,-2l-2,2M534.2,126.4l2,2m0,-2l-2,2M535.1,126.4l2,2m0,-2l-2,2M535,128.5l2,2m0,-2l-2,2M536.1,128.2l2,2m0,-2l-2,2M537.4,127.5l2,2m0,-2l-2,2M537.6,129.1l2,2m0,-2l-2,2M539,128.1l2,2m0,-2l-2,2M540.4,126.8l2,2m0,-2l-2,2M539.4,131.5l2,2m0,-2l-2,2M540.9,130.1l2,2m0,-2l-2,2M542.6,128.1l2,2m0,-2l-2,2M542,131.8l2,2m0,-2l-2,2M543.2,130.9l2,2m0,-2l-2,2M545.2,127.9l2,2m0,-2l-2,2M544,133.6l2,2m0,-2l-2,2M545.5,131.7l2,2m0,-2l-2,2M546,132.9l2,2m0,-2l-2,2M547.1,132l2,2m0,-2l-2,2M548.1,131.7l2,2m0,-2l-2,2M549.7,129.6l2,2m0,-2l-2,2M549,134.1l2,2m0,-2l-2,2M550.3,132.8l2,2m0,-2l-2,2M551.2,132.5l2,2m0,-2l-2,2M551.6,133.8l2,2m0,-2l-2,2M552.5,133.6l2,2m0,-2l-2,2M553,134.8l2,2m0,-2l-2,2M554.3,133.3l2,2m0,-2l-2,2M554.9,134.1l2,2m0,-2l-2,2M556.8,130.7l2,2m0,-2l-2,2M556.8,133.9l2,2m0,-2l-2,2M557.1,136l2,2m0,-2l-2,2M557.6,137.4l2,2m0,-2l-2,2M559.3,134.7l2,2m0,-2l-2,2M560.1,135.3l2,2m0,-2l-2,2M560.1,138.5l2,2m0,-2l-2,2M561.8,135.4l2,2m0,-2l-2,2M562.1,137.5l2,2m0,-2l-2,2M562.5,139.3l2,2m0,-2l-2,2M564.1,136.7l2,2m0,-2l-2,2M564.3,138.9l2,2m0,-2l-2,2M566,135.8l2,2m0,-2l-2,2M566.5,137.6l2,2m0,-2l-2,2M567.5,137.3l2,2m0,-2l-2,2M568.2,137.7l2,2m0,-2l-2,2M568.8,139.6l2,2m0,-2l-2,2" fill="none" stroke="#111" stroke-width="0.7" opacity="0.85"/><path d="M485.8,134 L485.9,133.5 L486,132.8 L486.1,132.1 L486.3,131.3 L486.4,130.4 L486.6,129.5 L486.7,128.5 L486.9,127.4 L487.1,126.3 L487.3,125.2 L487.5,124.1 L487.6,122.9 L487.8,121.7 L488,120.6 L488.2,119.4 L488.4,118.2 L488.6,117.1 L488.8,116 L489,114.9 L489.2,113.9 L489.3,112.9 L489.5,112 L489.7,110.8 L489.9,109.7 L490.1,108.5 L490.3,107.4 L490.4,106.2 L490.6,105.1 L490.8,103.9 L491,102.8 L491.2,101.8 L491.3,100.7 L491.5,99.7 L491.7,98.8 L491.9,97.9 L492.1,97.1 L492.3,96.3 L492.5,95.6 L492.7,95 L493.5,93.5 L494.4,92.8 L495.2,92.5 L496.1,92.5 L497,92.3 L498,92 L499,91.8 L500,91.8 L501,91.8 L502,91.9 L503.1,92 L504.1,92.3 L505.1,93 L505.7,93.7 L506.2,94.4 L506.7,95.4 L507.3,96.4 L507.9,97.6 L508.6,98.9 L509,99.7 L509.5,100.6 L510,101.5 L510.5,102.5 L511.1,103.5 L511.6,104.5 L512.2,105.6 L512.8,106.6 L513.3,107.6 L513.9,108.5 L514.4,109.4 L515,110.4 L515.7,111.4 L516.3,112.4 L517,113.4 L517.6,114.3 L518.3,115.1 L518.9,116 L519.6,116.8 L520.2,117.5 L521,118.4 L521.9,119.1 L522.7,119.8 L523.5,120.4 L524.3,121 L525.2,121.6 L526,122.2 L526.9,122.8 L527.7,123.4 L528.5,123.9 L529.4,124.5 L530.5,125 L531.8,125.7 L532.6,126.1 L533.4,126.5 L534.3,126.9 L535.3,127.4 L536.3,127.8 L537.3,128.3 L538.3,128.7 L539.4,129.2 L540.4,129.6 L541.5,130.1 L542.5,130.5 L543.5,130.9 L544.5,131.3 L545.4,131.6 L546.4,132 L547.4,132.4 L548.3,132.7 L549.3,133 L550.3,133.4 L551.2,133.7 L552.2,134 L553.2,134.3 L554.1,134.6 L555.1,134.9 L556.1,135.2 L557.1,135.5 L558.2,135.8 L559.3,136.1 L560.4,136.4 L561.4,136.7 L562.5,136.9 L563.4,137.2 L564.4,137.4 L565.2,137.6 L566,137.8 L566.7,138 L568.5,138.4 L569.5,138.5 L570,138.6" fill="none" stroke="#a41c1c" stroke-width="1.3" stroke-linejoin="round"/>
<rect x="542" y="68.1" width="10.7" height="6.6" fill="#d5e8da"/>
<rect x="542" y="77.3" width="10.7" height="6.6" fill="#fdebdf"/>
<text x="554.7" y="74.1" font-size="7" font-weight="bold" fill="#444">1P</text>
<text x="554.7" y="83.3" font-size="7" font-weight="bold" fill="#444">2P</text>
<text x="525.6" y="93.8" font-size="7" font-weight="bold" fill="#444">Cu3Zn</text>
<text x="553.4" y="93.7" font-size="8" fill="#3a3a3a" font-style="italic">E</text>
<text x="557.7" y="96.6" font-size="5.4" fill="#3a3a3a" font-weight="bold">2g</text>
<text x="545.6" y="107.9" font-size="7" font-weight="bold" fill="#d85050">170 K</text>
<path d="M485.5,140.8v-2.6 M485.5,61.2v2.6 M490.8,140.8v-1.5 M490.8,61.2v1.5 M496,140.8v-1.5 M496,61.2v1.5 M501.3,140.8v-1.5 M501.3,61.2v1.5 M506.6,140.8v-2.6 M506.6,61.2v2.6 M511.8,140.8v-1.5 M511.8,61.2v1.5 M517.1,140.8v-1.5 M517.1,61.2v1.5 M522.4,140.8v-1.5 M522.4,61.2v1.5 M527.6,140.8v-2.6 M527.6,61.2v2.6 M532.9,140.8v-1.5 M532.9,61.2v1.5 M538.1,140.8v-1.5 M538.1,61.2v1.5 M543.4,140.8v-1.5 M543.4,61.2v1.5 M548.7,140.8v-2.6 M548.7,61.2v2.6 M553.9,140.8v-1.5 M553.9,61.2v1.5 M559.2,140.8v-1.5 M559.2,61.2v1.5 M564.5,140.8v-1.5 M564.5,61.2v1.5 M569.7,140.8v-2.6 M569.7,61.2v2.6 M485.5,117.4h2.6 M571,117.4h-2.6 M485.5,94h2.6 M571,94h-2.6 M485.5,70.6h2.6 M571,70.6h-2.6 " stroke="#555" stroke-width="0.7" fill="none"/>
<path d="M571,140.8 L571.2,136.9 L571.2,136.6 L571.3,136.4 L571.3,136.1 L571.3,135.7 L571.4,135.4 L571.4,135 L571.5,134.6 L571.5,134.2 L571.6,133.8 L571.6,133.4 L571.6,133 L571.7,132.5 L571.8,132 L571.8,131.5 L571.9,131 L571.9,130.5 L572,130 L572,129.5 L572.1,128.9 L572.2,128.4 L572.2,127.8 L572.3,127.3 L572.4,126.7 L572.4,126.2 L572.5,125.6 L572.6,125 L572.6,124.4 L572.7,123.8 L572.8,123.2 L572.8,122.7 L572.9,122.1 L573,121.5 L573,120.9 L573.1,120.3 L573.2,119.8 L573.2,119.2 L573.3,118.6 L573.4,118.1 L573.4,117.5 L573.5,116.9 L573.6,116.4 L573.6,115.9 L573.7,115.3 L573.8,114.8 L573.8,114.3 L573.9,113.8 L573.9,113.4 L574,112.9 L574.1,112.3 L574.1,111.8 L574.2,111.2 L574.3,110.7 L574.4,110.1 L574.4,109.5 L574.5,109 L574.6,108.4 L574.6,107.8 L574.7,107.3 L574.8,106.7 L574.8,106.1 L574.9,105.6 L575,105 L575,104.5 L575.1,103.9 L575.2,103.4 L575.3,102.8 L575.3,102.3 L575.4,101.7 L575.5,101.2 L575.5,100.7 L575.6,100.2 L575.7,99.6 L575.8,99.1 L575.8,98.6 L575.9,98.2 L576,97.7 L576,97.2 L576.1,96.8 L576.2,96.3 L576.3,95.9 L576.3,95.5 L576.4,95.1 L576.5,94.7 L576.6,94.3 L576.7,93.9 L576.7,93.6 L576.8,93.2 L576.9,92.9 L577.2,91.9 L577.5,91.1 L577.8,90.5 L578.1,90.5 L578.4,90.5 L578.7,90.5 L579,90.5 L579.3,90.5 L579.6,90.5 L579.9,90.5 L580.2,90.5 L580.5,90.5 L580.9,90.5 L581.3,90.5 L581.8,90.5 L582.2,90.5 L582.6,90.5 L583,90.5 L583.5,90.5 L584,90.5 L584.4,90.5 L584.5,90.5 L584.8,91 L585,91.5 L585.4,92.1 L585.7,92.7 L586.1,93.3 L586.5,94 L586.9,94.8 L587.3,95.6 L587.8,96.4 L588.3,97.3 L588.8,98.2 L589.3,99.1 L589.8,100 L590.3,101 L590.9,102 L591.4,103 L592,104 L592.6,105.1 L593.2,106.1 L593.7,107.2 L594.3,108.2 L594.9,109.3 L595.5,110.4 L596.1,111.5 L596.7,112.5 L597.3,113.6 L597.9,114.7 L598.5,115.7 L599.1,116.7 L599.6,117.8 L600.2,118.8 L600.7,119.7 L601.3,120.7 L601.8,121.6 L602.3,122.5 L602.8,123.4 L603.3,124.2 L603.7,125 L604.2,125.8 L604.6,126.5 L605,127.2 L605.3,127.9 L605.7,128.5 L606,129 L607.4,131.4 L608.5,133 L609.2,134 L609.7,134.6 L610,134.9 L610.3,135.1 L610.6,135.4 L611,136 L611.8,137.2 L612.5,138.3 L613.1,139.3 L613.6,140.2 L614,140.8 Z" fill="#d5e8da"/>
<path d="M575,140.8 L575.9,140.5 L577,140.1 L578.4,139.6 L579.9,139 L581.5,138.5 L583.2,137.8 L585,137.2 L586.8,136.6 L588.6,136 L590.4,135.5 L592,135 L593.5,134.6 L594.9,134.1 L596.3,133.7 L597.8,133.2 L599.2,132.8 L600.7,132.4 L602.2,132 L603.7,131.7 L605.2,131.4 L606.8,131.2 L608.4,131 L610,131 L611.5,131 L613,131.1 L614.5,131.3 L616.1,131.5 L617.6,131.8 L619.3,132.1 L620.9,132.4 L622.5,132.7 L624.1,133.1 L625.7,133.5 L627.3,133.9 L628.9,134.3 L630.5,134.6 L632,135 L633.7,135.4 L635.4,135.9 L637.2,136.3 L639,136.8 L640.7,137.4 L642.5,137.9 L644.2,138.4 L645.9,138.9 L647.4,139.4 L648.8,139.8 L650,140.2 L651.1,140.5 L652,140.8 Z" fill="#fdebdf"/>
<path d="M575.5,99.8 L575.6,99.3 L575.7,98.7 L575.8,98.2 L575.8,97.7 L575.9,97.3 L576,96.8 L576,96.3 L576.1,95.9 L576.2,95.4 L576.3,95 L576.3,94.6 L576.4,94.2 L576.5,93.8 L576.6,93.4 L576.7,93 L576.7,92.7 L576.8,92.3 L576.9,92 L577.2,91 L577.5,90.2 L577.8,89.6 L578.1,89.1 L578.4,88.6 L578.7,88.3 L579,88 L579.3,87.7 L579.6,87.5 L579.9,87.3 L580.2,87.1 L580.5,86.8 L580.9,86.4 L581.3,85.9 L581.8,85.6 L582.2,85.2 L582.6,85 L583,84.8 L583.5,84.7 L584,84.8 L584.4,84.9 L584.7,85 L585.1,85.2 L585.5,85.4 L585.9,85.7 L586.3,86 L586.7,86.4 L587.2,86.7 L587.6,87.2 L588.1,87.7 L588.5,88.2 L589,88.8 L589.2,89.1 L589.5,89.4 L589.7,89.8 L589.9,90.2 L590.2,90.5 L590.4,90.9 L590.7,91.3 L590.9,91.8 L591.1,92.2 L591.4,92.6 L591.6,93.1 L591.9,93.5 L592.1,94 L592.4,94.5 L592.7,95 L592.9,95.5 L593.2,96 L593.5,96.5 L593.8,97 L594.1,97.5 L594.4,98 L594.7,98.5 L595.1,99 L595.4,99.5 L595.6,99.9 L595.9,100.2 L596.2,100.6 L596.4,101 L596.7,101.4 L597,101.8 L597.2,102.2 L597.5,102.6 L597.8,103 L598.1,103.5 L598.4,103.9 L598.7,104.3 L599,104.8 L599.3,105.2 L599.6,105.6 L599.9,106.1 L600.2,106.5 L600.5,106.9 L600.8,107.4 L601.1,107.8 L601.5,108.2 L601.8,108.6 L602.1,109.1 L602.4,109.5 L602.7,109.9 L603,110.3 L603.4,110.7 L603.7,111.1 L604,111.5 L604.3,111.9 L604.6,112.2 L604.9,112.6 L605.2,113 L605.5,113.3 L605.9,113.7 L606.3,114.1 L606.6,114.6 L607,115 L607.4,115.4 L607.8,115.8 L608.2,116.1 L608.6,116.5 L609,116.9 L609.4,117.3 L609.8,117.6 L610.2,118 L610.6,118.3 L611,118.7 L611.4,119 L611.8,119.3 L612.1,119.7 L612.5,120 L612.9,120.3 L613.3,120.6 L613.6,120.9 L614,121.2 L614.3,121.5 L614.7,121.8 L615,122.1 L615.4,122.3 L615.7,122.6 L616.2,123 L616.7,123.4 L617.2,123.8 L617.6,124.1 L618,124.4 L618.5,124.7 L618.9,125 L619.3,125.3 L619.7,125.6 L620.1,125.9 L620.5,126.1 L620.9,126.4 L621.3,126.6 L621.7,126.9 L622.1,127.1 L622.5,127.4 L622.9,127.6 L623.4,127.9 L623.8,128.1 L624.3,128.4 L624.7,128.6 L625.1,128.8 L625.5,129.1 L626,129.3 L626.4,129.5 L626.8,129.7 L627.3,129.9 L627.8,130.1 L628.3,130.3 L628.9,130.5 L629.5,130.8 L630.1,131 L630.5,131.1 L630.9,131.3 L631.3,131.4 L631.8,131.6 L632.2,131.8 L632.7,131.9 L633.2,132.1 L633.7,132.2 L634.2,132.4 L634.7,132.6 L635.2,132.7 L635.7,132.9 L636.2,133 L636.7,133.2 L637.2,133.4 L637.8,133.5 L638.3,133.7 L638.8,133.8 L639.4,134 L639.9,134.1 L640.4,134.3 L641,134.4 L641.5,134.5 L642,134.7 L642.5,134.8 L643,134.9 L643.5,135 L644,135.2 L644.6,135.3 L645.2,135.4 L645.7,135.5 L646.3,135.6 L646.9,135.7 L647.5,135.8 L648,135.9 L648.6,136 L649.2,136.1 L649.8,136.2 L650.3,136.3 L650.9,136.4 L651.4,136.5 L651.9,136.6 L652.4,136.7 L652.9,136.8 L653.4,136.8 L653.8,136.9 L654.2,137 L654.6,137 L654.9,137.1 L655.2,137.2 L655.5,137.2" fill="none" stroke="#2a1414" stroke-width="5.2" stroke-linejoin="round" opacity="0.8"/><path d="M578.9,100.4 L574.7,98.9 L574.9,98.1 L576.6,97.6 L574.5,96.5 L576.8,95.9 L577.1,95.1 L576,94.1 L577.3,93.5 L574.6,92 L578.1,91.9 L575.2,89.8 L576.8,89.3 L577.5,88.5 L578.2,87.9 L580,88.8 L580,87.4 L580.1,86.4 L581.7,86.7 L583.3,87.2 L582.5,85 L583.3,85.3 L583.7,86.6 L584.7,85.4 L586.5,83.9 L584.1,88.9 L584.8,88.9 L589.7,85.2 L588.2,87.7 L588.2,88.7 L588.1,89.9 L588.8,90.2 L590.4,90.2 L591.9,90.4 L590.9,92 L590.1,93.4 L593.2,92.6 L593.5,93.4 L592.6,94.8 L595.4,94.2 L593.8,96.2 L594.4,96.8 L593.8,98.3 L595.7,98.2 L596.5,98.8 L596.4,99.9 L596.5,101 L597.6,101.1 L597.3,102.3 L596.9,103.6 L596.8,104.6 L596.7,105.7 L600.1,104.4 L600.2,105.4 L603.1,104.3 L598.4,108.7 L602,107.2 L601.7,108.4 L601.6,109.6 L604.2,108.6 L602.6,110.9 L603.7,111.1 L606.2,110.1 L604.3,112.6 L603.8,114 L607.7,111.7 L605.4,114.9 L606.6,115 L607,115.9 L607.6,116.5 L607.4,118 L609.5,116.9 L609.1,118.7 L610.9,117.9 L610.5,119.6 L612.5,118.5 L612.5,119.7 L611.4,122.3 L613.3,121.4 L614.5,121.3 L616.1,120.8 L616.4,121.7 L616.1,123.3 L616.2,124.7 L617.4,124.7 L618,125.3 L619.1,125.1 L618.6,127.2 L620.7,125.6 L621.5,125.9 L621.3,128.1 L622.5,127.5 L623.5,127.5 L624.4,127.5 L624.8,128.3 L625,129.8 L626,129.9 L627.7,128.1 L627.5,130.6 L628.4,130.6 L629.9,129.4 L629.7,132 L631,130.9 L631.9,131.1 L632.1,132.9 L632.6,133.9 L634.3,131.4 L634.5,133.2 L635.9,131.6 L635.4,136.3 L637.4,132.7 L637.5,135.2 L639.1,132.9 L639.3,135.2 L639.6,137.4 L642.2,131 L642.3,134.1 L642.7,135.6 L643.7,134.9 L644.8,134.3 L644.8,138.5 L646.3,135.7 L647.7,133.5 L648,137.2 L649.5,133.7 L649.7,137.9 L651,135.6 L651.7,136.8 L652.2,138.5 L653.2,137 L654.4,135 L655.3,134.7" fill="none" stroke="#141010" stroke-width="0.7" opacity="0.6"/><path d="M576.6,99.2l2,2m0,-2l-2,2M576,98.2l2,2m0,-2l-2,2M573.3,97.1l2,2m0,-2l-2,2M576.4,96.7l2,2m0,-2l-2,2M575.9,95.9l2,2m0,-2l-2,2M576.3,95l2,2m0,-2l-2,2M571.3,93.2l2,2m0,-2l-2,2M574.9,93l2,2m0,-2l-2,2M577.2,92.7l2,2m0,-2l-2,2M577.1,91.8l2,2m0,-2l-2,2M577.5,91l2,2m0,-2l-2,2M572.2,88.1l2,2m0,-2l-2,2M576.9,88.9l2,2m0,-2l-2,2M577.9,88.4l2,2m0,-2l-2,2M580.9,90.5l2,2m0,-2l-2,2M577.1,85.5l2,2m0,-2l-2,2M578.6,85.8l2,2m0,-2l-2,2M579.5,85.8l2,2m0,-2l-2,2M581.3,86.2l2,2m0,-2l-2,2M580.3,83.9l2,2m0,-2l-2,2M582.5,85.8l2,2m0,-2l-2,2M582,82.4l2,2m0,-2l-2,2M582.9,84.3l2,2m0,-2l-2,2M584.2,83.2l2,2m0,-2l-2,2M584.4,84.7l2,2m0,-2l-2,2M586.1,84l2,2m0,-2l-2,2M587.9,83.4l2,2m0,-2l-2,2M585.2,87.6l2,2m0,-2l-2,2M586.7,87.1l2,2m0,-2l-2,2M588.4,86.7l2,2m0,-2l-2,2M587.9,88.3l2,2m0,-2l-2,2M587.2,89.7l2,2m0,-2l-2,2M590.6,88.5l2,2m0,-2l-2,2M589.7,90.1l2,2m0,-2l-2,2M589.2,91.5l2,2m0,-2l-2,2M589.6,92.1l2,2m0,-2l-2,2M591.3,92.1l2,2m0,-2l-2,2M594.5,91.3l2,2m0,-2l-2,2M589.6,94.9l2,2m0,-2l-2,2M591.5,94.9l2,2m0,-2l-2,2M592.4,95.4l2,2m0,-2l-2,2M593.3,95.9l2,2m0,-2l-2,2M593,97.2l2,2m0,-2l-2,2M594.5,97.3l2,2m0,-2l-2,2M595.9,97.5l2,2m0,-2l-2,2M596,98.5l2,2m0,-2l-2,2M596.3,99.4l2,2m0,-2l-2,2M596.8,100l2,2m0,-2l-2,2M598,100.1l2,2m0,-2l-2,2M595.8,102.6l2,2m0,-2l-2,2M599.2,101.3l2,2m0,-2l-2,2M596.7,104l2,2m0,-2l-2,2M599.7,103l2,2m0,-2l-2,2M598.1,105.1l2,2m0,-2l-2,2M597.1,106.8l2,2m0,-2l-2,2M599.4,106.3l2,2m0,-2l-2,2M601.2,106l2,2m0,-2l-2,2M600.6,107.5l2,2m0,-2l-2,2M600.9,108.3l2,2m0,-2l-2,2M604.1,106.9l2,2m0,-2l-2,2M603,108.8l2,2m0,-2l-2,2M602.4,110.3l2,2m0,-2l-2,2M603.8,110.2l2,2m0,-2l-2,2M603.5,111.4l2,2m0,-2l-2,2M603.1,112.7l2,2m0,-2l-2,2M603.6,113.4l2,2m0,-2l-2,2M604,114.2l2,2m0,-2l-2,2M605.1,114.5l2,2m0,-2l-2,2M606.8,114l2,2m0,-2l-2,2M607.1,115l2,2m0,-2l-2,2M608,115.2l2,2m0,-2l-2,2M608.7,115.8l2,2m0,-2l-2,2M609.2,116.5l2,2m0,-2l-2,2M611.6,115l2,2m0,-2l-2,2M610.6,117.4l2,2m0,-2l-2,2M610.8,118.3l2,2m0,-2l-2,2M612.5,117.5l2,2m0,-2l-2,2M612,119.3l2,2m0,-2l-2,2M612.1,120.7l2,2m0,-2l-2,2M613.6,120.3l2,2m0,-2l-2,2M611.7,124l2,2m0,-2l-2,2M617.7,118l2,2m0,-2l-2,2M615.5,121.8l2,2m0,-2l-2,2M618.1,120.1l2,2m0,-2l-2,2M615.7,124.6l2,2m0,-2l-2,2M614.6,127.6l2,2m0,-2l-2,2M620.7,120.5l2,2m0,-2l-2,2M618.6,124.8l2,2m0,-2l-2,2M618.8,125.8l2,2m0,-2l-2,2M620.4,125.1l2,2m0,-2l-2,2M620.4,126.9l2,2m0,-2l-2,2M623.6,122.9l2,2m0,-2l-2,2M621.5,128.1l2,2m0,-2l-2,2M622.6,127.8l2,2m0,-2l-2,2M623.6,127.6l2,2m0,-2l-2,2M624.9,127.1l2,2m0,-2l-2,2M624.8,129.5l2,2m0,-2l-2,2M626.3,127.9l2,2m0,-2l-2,2M626.5,129.4l2,2m0,-2l-2,2M627.8,128.5l2,2m0,-2l-2,2M629.8,126l2,2m0,-2l-2,2M629.1,129.9l2,2m0,-2l-2,2M629.8,130.6l2,2m0,-2l-2,2M630.3,131.9l2,2m0,-2l-2,2M632,129.3l2,2m0,-2l-2,2M632.2,131l2,2m0,-2l-2,2M632.6,132.4l2,2m0,-2l-2,2M633.7,131.8l2,2m0,-2l-2,2M633.9,134l2,2m0,-2l-2,2M634.3,135.5l2,2m0,-2l-2,2M636.6,130.8l2,2m0,-2l-2,2M638,129.3l2,2m0,-2l-2,2M637.4,134.3l2,2m0,-2l-2,2M637.9,135.7l2,2m0,-2l-2,2M639,134.9l2,2m0,-2l-2,2M639.9,134.9l2,2m0,-2l-2,2M641.4,132.6l2,2m0,-2l-2,2M642.2,132.6l2,2m0,-2l-2,2M642.4,135.6l2,2m0,-2l-2,2M643.9,132.7l2,2m0,-2l-2,2M645.1,131.2l2,2m0,-2l-2,2M645.7,132.9l2,2m0,-2l-2,2M645.5,139.2l2,2m0,-2l-2,2M646.6,138.4l2,2m0,-2l-2,2M648.3,133.9l2,2m0,-2l-2,2M649.2,134l2,2m0,-2l-2,2M649.8,135.8l2,2m0,-2l-2,2M650.9,134.2l2,2m0,-2l-2,2M651.1,138l2,2m0,-2l-2,2M652.3,135.7l2,2m0,-2l-2,2M653.4,134l2,2m0,-2l-2,2M653.5,138.4l2,2m0,-2l-2,2" fill="none" stroke="#111" stroke-width="0.7" opacity="0.85"/><path d="M571.2,136 L571.3,135.5 L571.3,134.8 L571.4,134.1 L571.5,133.3 L571.6,132.5 L571.7,131.6 L571.8,130.6 L571.9,129.6 L572,128.6 L572.2,127.5 L572.3,126.4 L572.4,125.2 L572.6,124.1 L572.7,122.9 L572.8,121.8 L573,120.6 L573.1,119.4 L573.2,118.3 L573.4,117.2 L573.5,116 L573.6,115 L573.8,113.9 L573.9,112.9 L574,112 L574.1,110.9 L574.3,109.8 L574.4,108.6 L574.6,107.5 L574.7,106.4 L574.8,105.2 L575,104.1 L575.1,103 L575.3,101.9 L575.4,100.8 L575.5,99.8 L575.7,98.7 L575.8,97.7 L576,96.8 L576.1,95.9 L576.3,95 L576.4,94.2 L576.6,93.4 L576.7,92.7 L576.9,92 L577.5,90.2 L578.1,89.1 L578.7,88.3 L579.3,87.7 L579.9,87.3 L580.5,86.8 L581.3,85.9 L582.2,85.2 L583,84.8 L584,84.8 L584.7,85 L585.5,85.4 L586.3,86 L587.2,86.7 L588.1,87.7 L589,88.8 L589.5,89.4 L589.9,90.2 L590.4,90.9 L590.9,91.8 L591.4,92.6 L591.9,93.5 L592.4,94.5 L592.9,95.5 L593.5,96.5 L594.1,97.5 L594.7,98.5 L595.4,99.5 L595.9,100.2 L596.4,101 L597,101.8 L597.5,102.6 L598.1,103.5 L598.7,104.3 L599.3,105.2 L599.9,106.1 L600.5,106.9 L601.1,107.8 L601.8,108.6 L602.4,109.5 L603,110.3 L603.7,111.1 L604.3,111.9 L604.9,112.6 L605.5,113.3 L606.3,114.2 L607.1,115 L607.9,115.8 L608.7,116.6 L609.6,117.4 L610.4,118.1 L611.2,118.9 L612,119.5 L612.8,120.2 L613.5,120.8 L614.3,121.5 L615,122 L615.7,122.6 L616.7,123.4 L617.7,124.2 L618.6,124.9 L619.5,125.5 L620.3,126 L621.2,126.6 L622,127.1 L622.9,127.6 L623.9,128.2 L624.8,128.7 L625.7,129.1 L626.7,129.6 L627.7,130 L628.8,130.5 L630.1,131 L630.9,131.3 L631.9,131.6 L632.8,132 L633.8,132.3 L634.9,132.6 L635.9,133 L637,133.3 L638.1,133.6 L639.2,133.9 L640.3,134.2 L641.4,134.5 L642.5,134.8 L643.5,135 L644.6,135.3 L645.7,135.5 L646.9,135.7 L648,135.9 L649.2,136.1 L650.3,136.3 L651.4,136.5 L652.4,136.7 L653.4,136.8 L654.2,137 L654.9,137.1 L655.5,137.2" fill="none" stroke="#a41c1c" stroke-width="1.3" stroke-linejoin="round"/>
<rect x="627" y="68.1" width="10.7" height="6.6" fill="#d5e8da"/>
<rect x="627" y="77.3" width="10.7" height="6.6" fill="#fdebdf"/>
<text x="639.7" y="74.1" font-size="7" font-weight="bold" fill="#444">1P</text>
<text x="639.7" y="83.3" font-size="7" font-weight="bold" fill="#444">2P</text>
<text x="610.6" y="93.8" font-size="7" font-weight="bold" fill="#444">Cu3Zn</text>
<text x="638.4" y="93.7" font-size="8" fill="#3a3a3a" font-style="italic">E</text>
<text x="642.7" y="96.6" font-size="5.4" fill="#3a3a3a" font-weight="bold">2g</text>
<text x="630.6" y="107.9" font-size="7" font-weight="bold" fill="#d85050">110 K</text>
<path d="M571,140.8v-2.6 M571,61.2v2.6 M576.2,140.8v-1.5 M576.2,61.2v1.5 M581.5,140.8v-1.5 M581.5,61.2v1.5 M586.7,140.8v-1.5 M586.7,61.2v1.5 M591.9,140.8v-2.6 M591.9,61.2v2.6 M597.2,140.8v-1.5 M597.2,61.2v1.5 M602.4,140.8v-1.5 M602.4,61.2v1.5 M607.6,140.8v-1.5 M607.6,61.2v1.5 M612.9,140.8v-2.6 M612.9,61.2v2.6 M618.1,140.8v-1.5 M618.1,61.2v1.5 M623.3,140.8v-1.5 M623.3,61.2v1.5 M628.6,140.8v-1.5 M628.6,61.2v1.5 M633.8,140.8v-2.6 M633.8,61.2v2.6 M639,140.8v-1.5 M639,61.2v1.5 M644.3,140.8v-1.5 M644.3,61.2v1.5 M649.5,140.8v-1.5 M649.5,61.2v1.5 M654.7,140.8v-2.6 M654.7,61.2v2.6 M571,117.4h2.6 M656,117.4h-2.6 M571,94h2.6 M656,94h-2.6 M571,70.6h2.6 M656,70.6h-2.6 " stroke="#555" stroke-width="0.7" fill="none"/>
<path d="M314,221.4 L314.5,212.9 L314.5,212.6 L314.5,212.3 L314.6,212 L314.6,211.7 L314.6,211.3 L314.7,210.9 L314.7,210.5 L314.7,210 L314.8,209.5 L314.8,209.1 L314.9,208.6 L314.9,208 L314.9,207.5 L315,207 L315,206.4 L315.1,205.8 L315.1,205.3 L315.2,204.7 L315.2,204.1 L315.3,203.5 L315.3,202.9 L315.4,202.4 L315.4,201.8 L315.5,201.2 L315.5,200.6 L315.6,200.1 L315.6,199.5 L315.7,198.9 L315.7,198.4 L315.8,197.9 L315.8,197.4 L315.9,196.8 L315.9,196.4 L316,195.9 L316.1,195.3 L316.1,194.8 L316.2,194.3 L316.3,193.7 L316.3,193.2 L316.4,192.7 L316.4,192.1 L316.5,191.6 L316.6,191.1 L316.6,190.6 L316.7,190.1 L316.8,189.6 L316.8,189.1 L316.9,188.6 L317,188.1 L317,187.6 L317.1,187.1 L317.2,186.6 L317.3,186.1 L317.3,185.7 L317.4,185.2 L317.5,184.7 L317.6,184.2 L317.7,183.8 L317.7,183.3 L317.8,182.8 L317.9,182.4 L318,181.9 L318.1,181.4 L318.2,180.8 L318.3,180.3 L318.4,179.7 L318.5,179.2 L318.7,178.7 L318.8,178.1 L318.9,177.6 L319,177.1 L319.1,176.5 L319.3,176 L319.4,175.5 L319.5,175 L319.6,174.5 L319.8,174 L319.9,173.5 L320,173 L320.2,172.5 L320.3,172.1 L320.4,171.6 L320.6,171.2 L320.7,170.7 L320.9,170.3 L321,169.9 L321.2,169.3 L321.4,168.8 L321.7,168.2 L321.9,167.7 L322.1,167.2 L322.4,166.7 L322.6,166.2 L322.8,165.8 L323.1,165.3 L323.3,164.9 L323.6,164.5 L323.8,164.5 L324.1,164.5 L324.3,164.5 L324.5,164.5 L324.8,164.5 L325,164.5 L325.5,164.5 L325.9,164.5 L326.4,164.5 L326.8,164.5 L327.3,164.5 L327.7,164.5 L328.2,164.5 L328.6,164.5 L329,164.5 L329.2,165 L329.5,165.5 L329.8,166.1 L330.1,166.7 L330.4,167.4 L330.8,168.2 L331.2,168.9 L331.5,169.7 L332,170.6 L332.4,171.5 L332.8,172.4 L333.3,173.3 L333.8,174.3 L334.2,175.3 L334.7,176.3 L335.2,177.4 L335.8,178.4 L336.3,179.5 L336.8,180.6 L337.3,181.7 L337.9,182.8 L338.4,183.9 L339,185 L339.5,186.1 L340,187.3 L340.6,188.4 L341.1,189.5 L341.7,190.6 L342.2,191.7 L342.7,192.7 L343.2,193.8 L343.7,194.8 L344.2,195.8 L344.7,196.8 L345.2,197.8 L345.6,198.7 L346.1,199.6 L346.5,200.5 L346.9,201.3 L347.3,202.1 L347.7,202.8 L348.1,203.6 L348.4,204.2 L348.7,204.8 L349,205.4 L350.2,207.7 L351.2,209.3 L351.9,210.4 L352.4,211 L352.7,211.4 L353,211.6 L353.3,211.9 L353.6,212.3 L354,213 L354.5,214.1 L355,215.2 L355.4,216.5 L355.8,217.7 L356.2,218.8 L356.5,219.9 L356.8,220.7 L357,221.4 Z" fill="#d5e8da"/>
<path d="M318,221.4 L318.8,221 L319.8,220.5 L321,219.9 L322.3,219.2 L323.7,218.5 L325.2,217.7 L326.8,216.9 L328.4,216.1 L329.9,215.4 L331.5,214.6 L333,214 L334.3,213.4 L335.7,212.8 L337,212.1 L338.3,211.5 L339.7,210.8 L341.1,210.2 L342.5,209.6 L343.9,209.1 L345.4,208.7 L346.9,208.3 L348.4,208.1 L350,208 L351.3,208 L352.7,208.1 L354.1,208.2 L355.5,208.5 L357,208.7 L358.4,209 L359.9,209.4 L361.4,209.8 L363,210.2 L364.5,210.7 L366,211.1 L367.5,211.6 L369,212.1 L370.5,212.5 L372,213 L373.5,213.5 L375.1,214 L376.8,214.6 L378.4,215.2 L380.1,215.9 L381.9,216.5 L383.5,217.2 L385.2,217.8 L386.8,218.5 L388.3,219.1 L389.7,219.7 L391,220.2 L392.2,220.7 L393.2,221.1 L394,221.4 Z" fill="#fdebdf"/>
<path d="M318.5,178.3 L318.7,177.8 L318.8,177.2 L318.9,176.7 L319,176.2 L319.1,175.6 L319.3,175.1 L319.4,174.6 L319.5,174.1 L319.6,173.6 L319.8,173.1 L319.9,172.6 L320,172.1 L320.2,171.6 L320.3,171.2 L320.4,170.7 L320.6,170.3 L320.7,169.8 L320.9,169.4 L321,169 L321.2,168.4 L321.4,167.9 L321.7,167.3 L321.9,166.8 L322.1,166.3 L322.4,165.8 L322.6,165.3 L322.8,164.9 L323.1,164.4 L323.3,164 L323.6,163.6 L323.8,163.2 L324.1,162.8 L324.3,162.4 L324.5,162.1 L324.8,161.8 L325,161.5 L325.5,160.9 L325.9,160.5 L326.4,160.1 L326.8,159.8 L327.3,159.6 L327.7,159.5 L328.2,159.4 L328.6,159.3 L329.1,159.3 L329.6,159.4 L330.1,159.6 L330.6,159.8 L331.1,160.1 L331.5,160.5 L332,161 L332.3,161.3 L332.5,161.6 L332.7,162 L333,162.4 L333.2,162.8 L333.4,163.2 L333.6,163.7 L333.9,164.2 L334.1,164.7 L334.4,165.3 L334.7,165.9 L335,166.5 L335.2,166.9 L335.4,167.3 L335.6,167.7 L335.8,168.1 L336,168.6 L336.2,169 L336.4,169.5 L336.6,170 L336.8,170.5 L337.1,171 L337.3,171.5 L337.5,172 L337.7,172.6 L338,173.1 L338.2,173.6 L338.4,174.1 L338.6,174.6 L338.9,175.1 L339.1,175.6 L339.3,176 L339.5,176.5 L339.7,176.9 L339.9,177.4 L340.2,177.9 L340.4,178.4 L340.6,178.9 L340.8,179.3 L341.1,179.8 L341.3,180.2 L341.5,180.7 L341.7,181.1 L341.9,181.6 L342.1,182 L342.4,182.4 L342.6,182.9 L342.8,183.3 L343,183.8 L343.3,184.2 L343.5,184.6 L343.8,185.1 L344.1,185.5 L344.3,186 L344.6,186.4 L344.8,186.9 L345.1,187.3 L345.4,187.7 L345.6,188.2 L345.9,188.6 L346.2,189.1 L346.5,189.5 L346.8,190 L347,190.4 L347.3,190.8 L347.6,191.2 L347.9,191.7 L348.2,192.1 L348.6,192.5 L348.9,192.9 L349.2,193.3 L349.5,193.7 L349.9,194.1 L350.2,194.5 L350.6,194.9 L350.9,195.2 L351.3,195.6 L351.7,196 L352.1,196.4 L352.4,196.7 L352.8,197.1 L353.2,197.4 L353.6,197.8 L353.9,198.1 L354.3,198.4 L354.7,198.8 L355.1,199.1 L355.4,199.4 L355.8,199.7 L356.1,200 L356.6,200.4 L357,200.8 L357.4,201.1 L357.9,201.5 L358.3,201.8 L358.7,202.1 L359.2,202.4 L359.6,202.7 L360,203 L360.4,203.3 L360.8,203.5 L361.2,203.8 L361.6,204.1 L362,204.3 L362.5,204.6 L362.9,204.9 L363.4,205.1 L363.8,205.3 L364.2,205.5 L364.6,205.7 L365.1,206 L365.5,206.2 L366,206.4 L366.5,206.6 L367,206.9 L367.4,207.1 L367.8,207.3 L368.3,207.6 L368.7,207.8 L369.2,208 L369.7,208.3 L370.2,208.5 L370.6,208.8 L371.1,209 L371.6,209.3 L372.1,209.5 L372.6,209.8 L373.1,210 L373.5,210.3 L374,210.5 L374.5,210.7 L375,211 L375.4,211.2 L375.9,211.4 L376.4,211.7 L376.9,211.9 L377.3,212.1 L377.8,212.3 L378.3,212.6 L378.7,212.8 L379.2,213 L379.7,213.2 L380.1,213.4 L380.6,213.6 L381.1,213.8 L381.6,214 L382.1,214.2 L382.6,214.4 L383,214.6 L383.5,214.8 L384,215 L384.5,215.2 L385,215.3 L385.5,215.5 L386,215.7 L386.5,215.8 L387,216 L387.5,216.1 L387.9,216.3 L388.4,216.4 L388.9,216.5 L389.4,216.7 L390,216.8 L390.5,216.9 L391,217.1 L391.5,217.2 L392,217.3 L392.5,217.4 L393,217.5 L393.4,217.6 L393.9,217.7 L394.3,217.8 L394.9,217.9 L395.6,218 L396.2,218.1 L396.8,218.2 L397.4,218.3 L397.9,218.4 L398.4,218.5 L398.8,218.5 L399.2,218.6 L399.5,218.6" fill="none" stroke="#2a1414" stroke-width="5.2" stroke-linejoin="round" opacity="0.8"/><path d="M317.7,178.3 L319,177.7 L318.9,176.8 L318.6,175.8 L319.7,175.2 L318.5,174.1 L317.1,172.8 L316.8,171.9 L318.3,171.5 L319.2,170.9 L320.5,170.3 L320.9,169.5 L321.8,169 L321.6,167.9 L320.8,166.5 L321.3,165.7 L319.9,164 L322.7,164.5 L324,164.3 L324.4,163.7 L324.1,162.4 L324.5,161.7 L326.4,162 L325.9,160.5 L327.2,160.9 L327.6,160.4 L328.2,159.7 L328.8,161.2 L330.1,158.7 L330.9,159.4 L332.1,159.4 L332.9,160.2 L330.7,162.9 L330.8,163.6 L333.3,163.1 L333,164.2 L332.6,165.4 L333.5,166 L333.3,167 L336.9,166.2 L336.4,167.3 L335.3,168.7 L334.3,170 L336.4,169.9 L338,170.1 L337.7,171.2 L338.5,171.8 L339.1,172.5 L336.3,174.7 L339.5,174.2 L338.9,175.3 L336.5,177.4 L338.1,177.5 L339.6,177.7 L341.2,177.9 L340.2,179.3 L339,180.8 L340.6,180.9 L340.1,182 L342,182 L341.8,183 L343.1,183.2 L342.7,184.3 L342,185.7 L345.8,184.4 L344.5,186.1 L344.5,187 L345.9,187.1 L346,187.9 L345.1,189.5 L344.1,191.1 L346.2,190.7 L347,191.2 L349.7,190.3 L346.1,193.9 L348.7,192.9 L349.4,193.4 L351.1,193 L350.5,194.6 L352.1,194.2 L351.5,196 L351.7,196.9 L352.7,197.1 L353.1,197.9 L354.8,197.2 L353.2,200.2 L355.8,198.5 L357.5,197.8 L356.6,200.1 L357.8,200 L358.7,200.3 L358.8,201.5 L358.9,202.7 L360.8,201.5 L360.6,203.1 L360,205.4 L361.3,205 L362.7,204.5 L363.2,205.2 L364,205.2 L364.8,205.7 L365,207.1 L366.2,206.4 L368.6,203.8 L367.8,207.3 L369.1,206.5 L368.8,208.9 L370.3,207.6 L370.6,209 L370,212 L372.9,208.2 L373.7,208.5 L374.6,208.5 L375.9,207.6 L376.3,208.6 L375.6,211.9 L377,210.9 L378.5,209.7 L379,210.5 L378.4,213.6 L380,212.1 L380.4,213 L380.8,214.2 L381,215.9 L381.4,217 L382.7,216.1 L383.9,215.1 L384.6,215.5 L384.6,217.9 L385.6,217.7 L387.1,215.6 L387.6,216.9 L388.4,216.8 L389.4,216.7 L390.4,216.2 L391.5,215.2 L392,216.5 L393.1,215.3 L393,219.3 L394.1,218.6 L395.6,216.3 L395.9,220.1 L397,219.6 L398.3,215.7 L398.5,221.1" fill="none" stroke="#141010" stroke-width="0.7" opacity="0.6"/><path d="M318.9,177.7l2,2m0,-2l-2,2M321.3,177.4l2,2m0,-2l-2,2M315.7,175.3l2,2m0,-2l-2,2M319,175.1l2,2m0,-2l-2,2M319,174.3l2,2m0,-2l-2,2M318.8,173.4l2,2m0,-2l-2,2M318.9,172.6l2,2m0,-2l-2,2M320.7,172.2l2,2m0,-2l-2,2M316.5,170.2l2,2m0,-2l-2,2M317.1,169.6l2,2m0,-2l-2,2M317.2,168.6l2,2m0,-2l-2,2M318.9,168.2l2,2m0,-2l-2,2M319.1,167.4l2,2m0,-2l-2,2M321,167.1l2,2m0,-2l-2,2M321.2,166.2l2,2m0,-2l-2,2M321.2,165.2l2,2m0,-2l-2,2M320.5,163.8l2,2m0,-2l-2,2M321.3,163.3l2,2m0,-2l-2,2M323.8,163.8l2,2m0,-2l-2,2M323.9,163l2,2m0,-2l-2,2M323.4,161.6l2,2m0,-2l-2,2M323.3,160.5l2,2m0,-2l-2,2M326.5,161.9l2,2m0,-2l-2,2M324.2,158.7l2,2m0,-2l-2,2M326.2,160l2,2m0,-2l-2,2M327,160.5l2,2m0,-2l-2,2M327,157.9l2,2m0,-2l-2,2M327.9,159.8l2,2m0,-2l-2,2M329.5,156.6l2,2m0,-2l-2,2M328.7,160.4l2,2m0,-2l-2,2M330.1,159.6l2,2m0,-2l-2,2M333.1,158.1l2,2m0,-2l-2,2M330.5,161.3l2,2m0,-2l-2,2M333.3,160.5l2,2m0,-2l-2,2M330.3,163.2l2,2m0,-2l-2,2M333.8,162.3l2,2m0,-2l-2,2M333.4,163.5l2,2m0,-2l-2,2M333.1,164.7l2,2m0,-2l-2,2M334.4,165l2,2m0,-2l-2,2M333.8,166.1l2,2m0,-2l-2,2M335.5,166.3l2,2m0,-2l-2,2M333.8,167.9l2,2m0,-2l-2,2M335.2,168.1l2,2m0,-2l-2,2M335.2,169l2,2m0,-2l-2,2M340.4,167.6l2,2m0,-2l-2,2M334.3,171.3l2,2m0,-2l-2,2M336.5,171.2l2,2m0,-2l-2,2M339.9,170.7l2,2m0,-2l-2,2M337.1,172.9l2,2m0,-2l-2,2M336.9,173.9l2,2m0,-2l-2,2M336.2,175.1l2,2m0,-2l-2,2M340.1,174.2l2,2m0,-2l-2,2M336.1,176.9l2,2m0,-2l-2,2M339.2,176.4l2,2m0,-2l-2,2M335.5,179.1l2,2m0,-2l-2,2M340,177.9l2,2m0,-2l-2,2M339,179.3l2,2m0,-2l-2,2M341,179.2l2,2m0,-2l-2,2M342.6,179.3l2,2m0,-2l-2,2M339.3,181.8l2,2m0,-2l-2,2M340,182.4l2,2m0,-2l-2,2M339.4,183.6l2,2m0,-2l-2,2M340.8,183.8l2,2m0,-2l-2,2M343.5,183.2l2,2m0,-2l-2,2M345.6,182.9l2,2m0,-2l-2,2M344.4,184.5l2,2m0,-2l-2,2M344.8,185.2l2,2m0,-2l-2,2M345.5,185.7l2,2m0,-2l-2,2M343.7,187.7l2,2m0,-2l-2,2M344.6,188.2l2,2m0,-2l-2,2M345.9,188.3l2,2m0,-2l-2,2M345.7,189.4l2,2m0,-2l-2,2M346.6,189.8l2,2m0,-2l-2,2M346.6,190.8l2,2m0,-2l-2,2M346.3,192l2,2m0,-2l-2,2M346.5,192.9l2,2m0,-2l-2,2M349.3,191.7l2,2m0,-2l-2,2M350.9,191.3l2,2m0,-2l-2,2M347.5,195.4l2,2m0,-2l-2,2M349.8,194.4l2,2m0,-2l-2,2M349.2,196.3l2,2m0,-2l-2,2M353.2,193.3l2,2m0,-2l-2,2M352.2,195.6l2,2m0,-2l-2,2M352.3,196.6l2,2m0,-2l-2,2M354.7,195.2l2,2m0,-2l-2,2M354.2,197l2,2m0,-2l-2,2M353.3,199.1l2,2m0,-2l-2,2M353.6,200.2l2,2m0,-2l-2,2M353.6,201.5l2,2m0,-2l-2,2M357.1,198.7l2,2m0,-2l-2,2M358.4,198.4l2,2m0,-2l-2,2M356.9,201.7l2,2m0,-2l-2,2M357.2,202.8l2,2m0,-2l-2,2M358.6,202.1l2,2m0,-2l-2,2M360.8,200.4l2,2m0,-2l-2,2M359.3,203.9l2,2m0,-2l-2,2M360.1,204.4l2,2m0,-2l-2,2M361.1,204.5l2,2m0,-2l-2,2M362.7,203.3l2,2m0,-2l-2,2M362.7,204.9l2,2m0,-2l-2,2M363.1,206.1l2,2m0,-2l-2,2M364.9,204.2l2,2m0,-2l-2,2M366.7,202.5l2,2m0,-2l-2,2M365.7,206.4l2,2m0,-2l-2,2M366.4,207.1l2,2m0,-2l-2,2M367.5,206.7l2,2m0,-2l-2,2M367.5,208.5l2,2m0,-2l-2,2M369.4,206.5l2,2m0,-2l-2,2M369.7,207.7l2,2m0,-2l-2,2M370.7,207.7l2,2m0,-2l-2,2M370.7,209.5l2,2m0,-2l-2,2M370.6,211.5l2,2m0,-2l-2,2M372.8,208.9l2,2m0,-2l-2,2M371.7,213l2,2m0,-2l-2,2M372.9,212.5l2,2m0,-2l-2,2M374.2,211.7l2,2m0,-2l-2,2M375.1,211.7l2,2m0,-2l-2,2M375,214l2,2m0,-2l-2,2M377.2,211.2l2,2m0,-2l-2,2M377.9,211.6l2,2m0,-2l-2,2M379.3,210.4l2,2m0,-2l-2,2M378.9,213.2l2,2m0,-2l-2,2M379,215l2,2m0,-2l-2,2M380.4,214l2,2m0,-2l-2,2M381.2,214.1l2,2m0,-2l-2,2M382.3,213.3l2,2m0,-2l-2,2M382.8,214.2l2,2m0,-2l-2,2M384.6,211.8l2,2m0,-2l-2,2M383.8,216.3l2,2m0,-2l-2,2M385.4,214l2,2m0,-2l-2,2M386.6,213.1l2,2m0,-2l-2,2M387.1,213.9l2,2m0,-2l-2,2M387.9,214l2,2m0,-2l-2,2M388,217.2l2,2m0,-2l-2,2M388.7,217.7l2,2m0,-2l-2,2M390.6,213.7l2,2m0,-2l-2,2M390.5,217.9l2,2m0,-2l-2,2M391.3,218l2,2m0,-2l-2,2M392.6,215.6l2,2m0,-2l-2,2M393.8,214.2l2,2m0,-2l-2,2M394.5,215.7l2,2m0,-2l-2,2M395.4,216l2,2m0,-2l-2,2M396.1,217.9l2,2m0,-2l-2,2M397.1,216.8l2,2m0,-2l-2,2M398.3,213.9l2,2m0,-2l-2,2" fill="none" stroke="#111" stroke-width="0.7" opacity="0.85"/><path d="M314.5,212 L314.5,211.4 L314.6,210.8 L314.7,210 L314.7,209.1 L314.8,208.2 L314.9,207.1 L315,206.1 L315.1,204.9 L315.2,203.8 L315.3,202.6 L315.4,201.5 L315.5,200.3 L315.6,199.2 L315.7,198 L315.8,197 L315.9,195.9 L316,195 L316.1,193.9 L316.3,192.8 L316.4,191.8 L316.5,190.7 L316.6,189.7 L316.8,188.7 L316.9,187.7 L317,186.7 L317.2,185.7 L317.3,184.8 L317.5,183.8 L317.7,182.9 L317.8,181.9 L318,181 L318.2,179.9 L318.4,178.8 L318.7,177.8 L318.9,176.7 L319.1,175.6 L319.4,174.6 L319.6,173.6 L319.9,172.6 L320.2,171.6 L320.4,170.7 L320.7,169.8 L321,169 L321.5,167.8 L321.9,166.7 L322.4,165.6 L323,164.6 L323.5,163.7 L324,162.9 L324.5,162.2 L325,161.5 L325.9,160.5 L326.8,159.8 L327.7,159.5 L328.6,159.3 L329.8,159.4 L330.9,160 L332,161 L332.5,161.6 L333,162.4 L333.4,163.2 L333.9,164.2 L334.4,165.3 L335,166.5 L335.4,167.3 L335.8,168.1 L336.2,169 L336.6,170 L337.1,171 L337.5,172 L338,173.1 L338.4,174.1 L338.9,175.1 L339.3,176 L339.7,176.9 L340.2,177.9 L340.6,178.9 L341.1,179.8 L341.5,180.7 L341.9,181.6 L342.4,182.4 L342.8,183.3 L343.3,184.2 L343.8,185.1 L344.3,186 L344.9,187 L345.4,187.9 L346,188.8 L346.6,189.8 L347.2,190.7 L347.9,191.6 L348.5,192.5 L349.2,193.3 L349.9,194.1 L350.7,194.9 L351.4,195.7 L352.2,196.5 L353,197.3 L353.8,198 L354.6,198.7 L355.4,199.4 L356.1,200 L357,200.8 L357.9,201.5 L358.7,202.1 L359.6,202.7 L360.4,203.3 L361.2,203.8 L362,204.3 L363,204.9 L364,205.4 L364.9,205.9 L365.9,206.3 L367,206.9 L367.9,207.4 L368.9,207.9 L369.9,208.4 L370.9,208.9 L372,209.5 L373,210 L374,210.5 L375,211 L375.9,211.4 L376.9,211.9 L377.8,212.3 L378.7,212.8 L379.7,213.2 L380.6,213.6 L381.7,214 L382.7,214.5 L383.8,214.9 L384.8,215.3 L385.9,215.6 L387,216 L388,216.3 L389.1,216.6 L390.2,216.9 L391.3,217.1 L392.3,217.4 L393.4,217.6 L394.3,217.8 L395.6,218 L396.8,218.2 L397.9,218.4 L398.8,218.5 L399.5,218.6" fill="none" stroke="#a41c1c" stroke-width="1.3" stroke-linejoin="round"/>
<rect x="371" y="147.7" width="10.7" height="6.6" fill="#d5e8da"/>
<rect x="371" y="156.9" width="10.7" height="6.6" fill="#fdebdf"/>
<text x="383.7" y="153.7" font-size="7" font-weight="bold" fill="#444">1P</text>
<text x="383.7" y="162.9" font-size="7" font-weight="bold" fill="#444">2P</text>
<text x="354.6" y="173.4" font-size="7" font-weight="bold" fill="#444">Cu3Zn</text>
<text x="382.4" y="173.3" font-size="8" fill="#3a3a3a" font-style="italic">E</text>
<text x="386.7" y="176.2" font-size="5.4" fill="#3a3a3a" font-weight="bold">2g</text>
<text x="374.6" y="187.5" font-size="7" font-weight="bold" fill="#d85050">90 K</text>
<path d="M314,221.4v-2.6 M314,140.8v2.6 M319.3,221.4v-1.5 M319.3,140.8v1.5 M324.6,221.4v-1.5 M324.6,140.8v1.5 M329.9,221.4v-1.5 M329.9,140.8v1.5 M335.2,221.4v-2.6 M335.2,140.8v2.6 M340.5,221.4v-1.5 M340.5,140.8v1.5 M345.8,221.4v-1.5 M345.8,140.8v1.5 M351.1,221.4v-1.5 M351.1,140.8v1.5 M356.4,221.4v-2.6 M356.4,140.8v2.6 M361.7,221.4v-1.5 M361.7,140.8v1.5 M367,221.4v-1.5 M367,140.8v1.5 M372.3,221.4v-1.5 M372.3,140.8v1.5 M377.5,221.4v-2.6 M377.5,140.8v2.6 M382.8,221.4v-1.5 M382.8,140.8v1.5 M388.1,221.4v-1.5 M388.1,140.8v1.5 M393.4,221.4v-1.5 M393.4,140.8v1.5 M398.7,221.4v-2.6 M398.7,140.8v2.6 M314,198h2.6 M400,198h-2.6 M314,174.6h2.6 M400,174.6h-2.6 M314,151.2h2.6 M400,151.2h-2.6 " stroke="#555" stroke-width="0.7" fill="none"/>
<path d="M400,221.4 L400.5,214.9 L400.5,214.6 L400.5,214.3 L400.6,214 L400.6,213.7 L400.6,213.3 L400.6,213 L400.7,212.6 L400.7,212.1 L400.7,211.7 L400.8,211.3 L400.8,210.8 L400.8,210.3 L400.9,209.8 L400.9,209.3 L400.9,208.8 L401,208.2 L401,207.7 L401.1,207.1 L401.1,206.6 L401.1,206 L401.2,205.5 L401.2,204.9 L401.3,204.3 L401.3,203.7 L401.4,203.1 L401.4,202.5 L401.4,202 L401.5,201.4 L401.5,200.8 L401.6,200.2 L401.6,199.7 L401.7,199.1 L401.7,198.5 L401.8,198 L401.8,197.5 L401.9,196.9 L401.9,196.4 L402,195.9 L402.1,195.4 L402.1,194.9 L402.2,194.4 L402.2,193.9 L402.3,193.4 L402.3,192.9 L402.4,192.3 L402.4,191.8 L402.5,191.3 L402.6,190.8 L402.6,190.3 L402.7,189.8 L402.7,189.2 L402.8,188.7 L402.9,188.2 L402.9,187.7 L403,187.2 L403.1,186.7 L403.1,186.2 L403.2,185.6 L403.3,185.1 L403.3,184.6 L403.4,184.1 L403.5,183.6 L403.5,183.1 L403.6,182.6 L403.7,182.1 L403.7,181.6 L403.8,181.1 L403.9,180.6 L404,180.2 L404,179.7 L404.1,179.2 L404.2,178.7 L404.3,178.3 L404.3,177.8 L404.4,177.4 L404.5,176.9 L404.6,176.3 L404.7,175.8 L404.8,175.2 L404.9,174.7 L405,174.1 L405.1,173.5 L405.2,173 L405.4,172.5 L405.5,171.9 L405.6,171.4 L405.7,170.9 L405.8,170.3 L405.9,169.8 L406.1,169.3 L406.2,168.8 L406.3,168.3 L406.4,167.8 L406.6,167.3 L406.7,166.8 L406.8,166.3 L406.9,165.8 L407,165.4 L407.2,164.9 L407.3,164.5 L407.4,164 L407.5,163.6 L407.6,163.1 L407.8,162.7 L407.9,162.3 L408,161.9 L408.2,161.3 L408.4,160.7 L408.6,160.1 L408.7,159.5 L408.9,158.9 L409.1,158.4 L409.3,157.9 L409.5,157.4 L409.7,156.9 L409.9,156.4 L410,155.9 L410.2,155.5 L410.4,155.1 L410.6,154.7 L410.8,154.5 L411,154.5 L411.1,154.5 L411.3,154.5 L411.5,154.5 L411.9,154.5 L412.3,154.5 L412.8,154.5 L413.2,154.5 L413.6,154.5 L414,154.5 L414.4,154.5 L414.7,154.5 L415,154.5 L415.2,155 L415.4,155.5 L415.6,156.1 L415.9,156.8 L416.1,157.4 L416.4,158.1 L416.7,158.9 L417,159.7 L417.3,160.5 L417.7,161.4 L418,162.3 L418.4,163.2 L418.8,164.1 L419.1,165.1 L419.5,166.1 L419.9,167.1 L420.3,168.2 L420.7,169.2 L421.2,170.3 L421.6,171.4 L422,172.5 L422.5,173.7 L422.9,174.8 L423.3,175.9 L423.8,177.1 L424.2,178.2 L424.7,179.4 L425.1,180.5 L425.6,181.7 L426,182.9 L426.5,184 L426.9,185.2 L427.4,186.3 L427.8,187.4 L428.3,188.5 L428.7,189.6 L429.1,190.7 L429.6,191.8 L430,192.9 L430.4,193.9 L430.8,194.9 L431.2,195.9 L431.6,196.9 L431.9,197.8 L432.3,198.7 L432.7,199.6 L433,200.4 L433.3,201.2 L433.6,202 L433.9,202.8 L434.2,203.5 L434.5,204.1 L434.8,204.7 L435,205.3 L436.2,208.1 L437.2,210 L437.9,211.2 L438.4,211.9 L438.7,212.2 L439,212.4 L439.3,212.5 L439.6,212.8 L440,213.5 L440.5,214.6 L441,215.7 L441.4,216.8 L441.8,218 L442.2,219 L442.5,220 L442.8,220.8 L443,221.4 Z" fill="#d5e8da"/>
<path d="M407,221.4 L407.8,221 L408.8,220.5 L409.9,219.9 L411.2,219.2 L412.6,218.5 L414.1,217.7 L415.7,216.9 L417.3,216.1 L418.9,215.4 L420.5,214.6 L422,214 L423.4,213.4 L424.8,212.8 L426.2,212.1 L427.7,211.5 L429.1,210.8 L430.6,210.2 L432.1,209.6 L433.7,209.1 L435.2,208.7 L436.8,208.3 L438.4,208.1 L440,208 L441.4,208 L442.9,208.1 L444.3,208.3 L445.8,208.5 L447.3,208.8 L448.8,209.2 L450.4,209.6 L451.9,210 L453.5,210.5 L455,211 L456.5,211.5 L458,212 L459.5,212.5 L461,213 L462.5,213.5 L464.1,214.1 L465.7,214.7 L467.4,215.4 L469,216.1 L470.7,216.8 L472.3,217.5 L473.9,218.2 L475.4,218.9 L476.8,219.5 L478.1,220.1 L479.2,220.6 L480.2,221.1 L481,221.4 Z" fill="#fdebdf"/>
<path d="M404.5,176 L404.6,175.4 L404.7,174.9 L404.8,174.3 L404.9,173.8 L405,173.2 L405.1,172.6 L405.2,172.1 L405.4,171.6 L405.5,171 L405.6,170.5 L405.7,170 L405.8,169.4 L405.9,168.9 L406.1,168.4 L406.2,167.9 L406.3,167.4 L406.4,166.9 L406.6,166.4 L406.7,165.9 L406.8,165.4 L406.9,164.9 L407,164.5 L407.2,164 L407.3,163.6 L407.4,163.1 L407.5,162.7 L407.6,162.2 L407.8,161.8 L407.9,161.4 L408,161 L408.2,160.4 L408.4,159.8 L408.6,159.2 L408.7,158.6 L408.9,158 L409.1,157.5 L409.3,157 L409.5,156.5 L409.7,156 L409.9,155.5 L410,155 L410.2,154.6 L410.4,154.2 L410.6,153.8 L410.8,153.4 L411,153 L411.1,152.6 L411.3,152.3 L411.5,152 L411.9,151.3 L412.3,150.8 L412.8,150.4 L413.2,150.1 L413.6,149.8 L414,149.7 L414.4,149.6 L414.7,149.5 L415.1,149.5 L415.5,149.6 L415.8,149.9 L416.1,150.5 L416.7,151.3 L416.9,151.6 L417.1,151.9 L417.3,152.2 L417.6,152.6 L417.8,153 L418.1,153.4 L418.3,153.8 L418.6,154.3 L418.9,154.7 L419.2,155.2 L419.4,155.7 L419.7,156.2 L420,156.7 L420.3,157.1 L420.6,157.6 L420.9,158.1 L421.1,158.6 L421.4,159.1 L421.6,159.5 L421.8,159.9 L422.1,160.3 L422.3,160.8 L422.5,161.2 L422.7,161.6 L423,162.1 L423.2,162.5 L423.4,162.9 L423.6,163.4 L423.9,163.8 L424.1,164.3 L424.3,164.7 L424.5,165.2 L424.8,165.7 L425,166.1 L425.2,166.6 L425.4,167.1 L425.7,167.5 L425.9,168 L426.1,168.5 L426.3,168.9 L426.5,169.4 L426.7,169.9 L426.9,170.3 L427.1,170.8 L427.3,171.3 L427.5,171.8 L427.7,172.3 L427.9,172.8 L428.1,173.3 L428.3,173.8 L428.6,174.2 L428.8,174.7 L429,175.2 L429.2,175.7 L429.4,176.2 L429.6,176.7 L429.8,177.2 L430,177.7 L430.2,178.1 L430.4,178.6 L430.6,179.1 L430.8,179.5 L431,180 L431.2,180.5 L431.4,180.9 L431.6,181.4 L431.9,181.9 L432.1,182.3 L432.3,182.8 L432.5,183.3 L432.7,183.7 L432.9,184.2 L433.1,184.6 L433.3,185.1 L433.5,185.5 L433.7,185.9 L433.9,186.4 L434.2,186.8 L434.4,187.2 L434.7,187.7 L434.9,188.1 L435.2,188.5 L435.5,188.9 L435.8,189.3 L436.1,189.7 L436.4,190.1 L436.7,190.4 L437.1,190.8 L437.4,191.2 L437.7,191.6 L438.1,191.9 L438.5,192.3 L438.8,192.6 L439.2,193 L439.6,193.3 L439.9,193.7 L440.3,194 L440.7,194.4 L441.1,194.7 L441.5,195.1 L441.8,195.4 L442.2,195.7 L442.6,196.1 L442.9,196.4 L443.3,196.7 L443.7,197.1 L444.1,197.4 L444.5,197.7 L444.9,198.1 L445.3,198.4 L445.7,198.8 L446.1,199.1 L446.5,199.4 L446.9,199.7 L447.2,200 L447.6,200.4 L448,200.7 L448.4,201 L448.8,201.3 L449.2,201.6 L449.6,201.9 L450,202.2 L450.4,202.4 L450.8,202.7 L451.2,203 L451.6,203.3 L452.1,203.6 L452.5,203.9 L452.9,204.2 L453.4,204.4 L453.8,204.7 L454.2,205 L454.7,205.2 L455.1,205.5 L455.5,205.7 L456,206 L456.4,206.2 L456.8,206.5 L457.3,206.7 L457.7,207 L458.1,207.2 L458.6,207.5 L459,207.7 L459.5,208 L459.9,208.2 L460.4,208.5 L460.9,208.7 L461.3,209 L461.8,209.2 L462.3,209.5 L462.8,209.7 L463.2,209.9 L463.7,210.2 L464.2,210.4 L464.7,210.6 L465.1,210.9 L465.6,211.1 L466.1,211.3 L466.5,211.6 L467,211.8 L467.5,212 L467.9,212.3 L468.3,212.5 L468.8,212.7 L469.2,213 L469.7,213.2 L470.1,213.4 L470.5,213.6 L471,213.9 L471.4,214.1 L471.8,214.3 L472.3,214.5 L472.8,214.7 L473.2,214.9 L473.7,215.1 L474.2,215.3 L474.7,215.5 L475.2,215.7 L475.6,215.8 L476.1,216 L476.7,216.1 L477.2,216.3 L477.8,216.4 L478.4,216.6 L478.9,216.7 L479.5,216.8 L480.1,217 L480.6,217.1 L481.2,217.2 L481.7,217.4 L482.2,217.5 L482.7,217.6 L483.1,217.7 L483.5,217.8 L483.9,217.9 L484.2,217.9 L484.5,218" fill="none" stroke="#2a1414" stroke-width="5.2" stroke-linejoin="round" opacity="0.8"/><path d="M404.8,176.1 L402.5,174.7 L406.1,174.5 L403.3,173 L404.2,172.3 L404.1,171.4 L404.8,170.7 L407.5,170.4 L407.1,169.5 L406.9,168.6 L406.7,167.7 L404.3,166.3 L405.9,165.9 L406.1,165.1 L405.7,164.2 L408,163.8 L406.5,162.5 L406.7,161.7 L406.5,160.7 L405.4,159.4 L409.3,159.8 L410.6,159.2 L409.3,157.8 L408,156.4 L406,154.7 L410.1,155.4 L411.8,155.3 L411,154 L412.1,153.6 L413.2,153.4 L413,152.6 L411.7,150.6 L413.8,151.5 L414,150.9 L413.7,147.4 L415.2,148.9 L417.2,148.5 L416.4,150.6 L416,151.8 L418.5,151.2 L420.2,151.2 L416.5,154.4 L418,154.4 L417.1,155.9 L421,154.6 L418.5,157.1 L417.7,158.6 L418.2,159.4 L421.5,158.6 L421.2,159.6 L422.1,160 L421,161.5 L421.3,162.2 L422.9,162.2 L425.1,162 L422.8,164.1 L424.7,164 L423.7,165.5 L424.5,166 L423.1,167.6 L424.1,168 L426.5,167.8 L425.8,169.1 L424.3,170.6 L427.6,170 L426.6,171.3 L426,172.5 L426.2,173.2 L427.5,173.6 L430.2,173.4 L430.5,174.2 L428.8,175.8 L428.9,176.6 L426.4,178.6 L431.2,177.4 L428.9,179.3 L429.7,179.8 L433.3,179.1 L432.5,180.4 L431.5,181.7 L432.7,182.1 L432.6,183 L432.1,184.1 L434.1,184.1 L432.8,185.6 L434.5,185.6 L434.8,186.3 L433.8,187.8 L435.6,187.6 L435,189 L434,190.8 L436.3,190 L437,190.4 L436.6,191.9 L438.3,191.4 L437.4,193.5 L440.4,191.6 L439.1,194.1 L440.8,193.5 L441.7,193.7 L439.8,197 L442.9,194.7 L441,198.1 L442.7,197.4 L442.5,198.8 L445.5,196.7 L444.1,199.7 L444.5,200.5 L446.6,199.3 L447.2,199.8 L445.5,203.2 L448.2,201.1 L449.4,200.9 L450.2,201.1 L449.9,202.8 L450.6,203.2 L451.4,203.5 L450.9,205.8 L453.2,203.8 L453.3,205.2 L453.2,206.8 L455.7,204.2 L454.9,207.1 L455.1,208.5 L458,204.9 L458.5,205.6 L459.2,206.1 L460.5,205.5 L459.6,208.8 L461.9,206.2 L461,209.6 L461.1,211.2 L463.9,207.6 L463.8,209.7 L465.5,208 L464.5,211.8 L466.2,210.2 L466.6,211.2 L467.2,212 L467.6,213 L468.9,212.2 L469.3,213 L470.4,212.7 L470.7,213.9 L472.2,212.6 L472.1,214.5 L474,212.2 L474,214.5 L473.5,218 L475.2,215.8 L476.6,214.2 L476.8,216.5 L478.1,215.1 L479.3,214.3 L479.9,215.8 L480.3,218.1 L481.3,217.8 L482.2,217.3 L483.3,216.3 L484.1,216.3 L484,219.9" fill="none" stroke="#141010" stroke-width="0.7" opacity="0.6"/><path d="M403.9,175.1l2,2m0,-2l-2,2M402,173.8l2,2m0,-2l-2,2M400.1,172.5l2,2m0,-2l-2,2M401.6,171.9l2,2m0,-2l-2,2M408.5,172.4l2,2m0,-2l-2,2M402.3,170.2l2,2m0,-2l-2,2M404.4,169.8l2,2m0,-2l-2,2M405.1,169.1l2,2m0,-2l-2,2M404.6,168.1l2,2m0,-2l-2,2M404.6,167.3l2,2m0,-2l-2,2M402.9,166l2,2m0,-2l-2,2M403.6,165.3l2,2m0,-2l-2,2M408.6,165.8l2,2m0,-2l-2,2M404.5,163.9l2,2m0,-2l-2,2M407.5,163.9l2,2m0,-2l-2,2M403.3,161.9l2,2m0,-2l-2,2M406,161.7l2,2m0,-2l-2,2M407.2,161.1l2,2m0,-2l-2,2M408.7,160.7l2,2m0,-2l-2,2M405.3,158.7l2,2m0,-2l-2,2M408.5,158.9l2,2m0,-2l-2,2M408.4,157.8l2,2m0,-2l-2,2M406.8,156.3l2,2m0,-2l-2,2M409.1,156.2l2,2m0,-2l-2,2M407.1,154.5l2,2m0,-2l-2,2M407.6,153.8l2,2m0,-2l-2,2M409.2,153.6l2,2m0,-2l-2,2M405.1,150.8l2,2m0,-2l-2,2M409.8,152l2,2m0,-2l-2,2M408.7,150.5l2,2m0,-2l-2,2M408.5,149.3l2,2m0,-2l-2,2M410.6,149.5l2,2m0,-2l-2,2M412.7,150.4l2,2m0,-2l-2,2M412.2,148.2l2,2m0,-2l-2,2M413.9,150.8l2,2m0,-2l-2,2M414.6,146.5l2,2m0,-2l-2,2M416.4,147.3l2,2m0,-2l-2,2M413,151.2l2,2m0,-2l-2,2M415.1,150.7l2,2m0,-2l-2,2M414.8,152l2,2m0,-2l-2,2M417.9,151l2,2m0,-2l-2,2M415.8,153.2l2,2m0,-2l-2,2M417.1,153.3l2,2m0,-2l-2,2M416.9,154.4l2,2m0,-2l-2,2M418.4,154.6l2,2m0,-2l-2,2M417,156.4l2,2m0,-2l-2,2M420.3,155.6l2,2m0,-2l-2,2M421.3,156.1l2,2m0,-2l-2,2M422.5,156.4l2,2m0,-2l-2,2M418.7,159.4l2,2m0,-2l-2,2M422.1,158.5l2,2m0,-2l-2,2M423,158.9l2,2m0,-2l-2,2M423.2,159.7l2,2m0,-2l-2,2M422.7,160.8l2,2m0,-2l-2,2M424.4,160.8l2,2m0,-2l-2,2M423.2,162.4l2,2m0,-2l-2,2M424.1,162.8l2,2m0,-2l-2,2M424.4,163.6l2,2m0,-2l-2,2M425.4,164.1l2,2m0,-2l-2,2M424.1,165.6l2,2m0,-2l-2,2M425.3,166l2,2m0,-2l-2,2M424.7,167.2l2,2m0,-2l-2,2M424.9,168l2,2m0,-2l-2,2M425,168.8l2,2m0,-2l-2,2M429.5,167.7l2,2m0,-2l-2,2M427.1,169.7l2,2m0,-2l-2,2M427.9,170.2l2,2m0,-2l-2,2M425.6,172.1l2,2m0,-2l-2,2M429.8,171.2l2,2m0,-2l-2,2M428.7,172.6l2,2m0,-2l-2,2M428.3,173.7l2,2m0,-2l-2,2M428.7,174.4l2,2m0,-2l-2,2M426.8,176.1l2,2m0,-2l-2,2M429.5,175.8l2,2m0,-2l-2,2M427.5,177.6l2,2m0,-2l-2,2M431.8,176.5l2,2m0,-2l-2,2M432.7,177l2,2m0,-2l-2,2M428.1,180l2,2m0,-2l-2,2M429.7,180.2l2,2m0,-2l-2,2M429.9,181l2,2m0,-2l-2,2M430.9,181.5l2,2m0,-2l-2,2M430.6,182.5l2,2m0,-2l-2,2M433.7,182l2,2m0,-2l-2,2M430.5,184.3l2,2m0,-2l-2,2M433.2,183.9l2,2m0,-2l-2,2M431.2,185.8l2,2m0,-2l-2,2M433,185.8l2,2m0,-2l-2,2M436.5,184.6l2,2m0,-2l-2,2M435.9,185.8l2,2m0,-2l-2,2M432.7,188.9l2,2m0,-2l-2,2M435,188.2l2,2m0,-2l-2,2M435.9,188.5l2,2m0,-2l-2,2M435.5,189.9l2,2m0,-2l-2,2M437,189.7l2,2m0,-2l-2,2M437.7,190.1l2,2m0,-2l-2,2M437.4,191.5l2,2m0,-2l-2,2M437.9,192.1l2,2m0,-2l-2,2M436.9,194.5l2,2m0,-2l-2,2M439.3,193.1l2,2m0,-2l-2,2M437.7,196.1l2,2m0,-2l-2,2M438.4,196.6l2,2m0,-2l-2,2M439.1,197l2,2m0,-2l-2,2M440.5,196.6l2,2m0,-2l-2,2M442.1,195.9l2,2m0,-2l-2,2M442.8,196.4l2,2m0,-2l-2,2M443.7,196.6l2,2m0,-2l-2,2M445,196.3l2,2m0,-2l-2,2M444.9,197.8l2,2m0,-2l-2,2M446.2,197.5l2,2m0,-2l-2,2M444.2,201.2l2,2m0,-2l-2,2M446.1,200.2l2,2m0,-2l-2,2M447.8,199.3l2,2m0,-2l-2,2M450.1,197.6l2,2m0,-2l-2,2M448.7,200.8l2,2m0,-2l-2,2M449.7,200.7l2,2m0,-2l-2,2M451,200.2l2,2m0,-2l-2,2M451.7,200.6l2,2m0,-2l-2,2M453.5,199.3l2,2m0,-2l-2,2M451.4,204l2,2m0,-2l-2,2M452.7,203.5l2,2m0,-2l-2,2M450.9,208l2,2m0,-2l-2,2M454,204.4l2,2m0,-2l-2,2M454.8,204.6l2,2m0,-2l-2,2M454.1,207.5l2,2m0,-2l-2,2M456,205.8l2,2m0,-2l-2,2M456.6,206.3l2,2m0,-2l-2,2M457.8,205.8l2,2m0,-2l-2,2M458.7,205.8l2,2m0,-2l-2,2M457.6,209.6l2,2m0,-2l-2,2M458.8,209.2l2,2m0,-2l-2,2M458.9,210.7l2,2m0,-2l-2,2M461.4,207.8l2,2m0,-2l-2,2M461.8,208.8l2,2m0,-2l-2,2M463.3,207.7l2,2m0,-2l-2,2M462.5,211l2,2m0,-2l-2,2M465.1,207.6l2,2m0,-2l-2,2M464.3,211.1l2,2m0,-2l-2,2M464.6,212.3l2,2m0,-2l-2,2M465,213.2l2,2m0,-2l-2,2M467.7,209.8l2,2m0,-2l-2,2M466.7,213.4l2,2m0,-2l-2,2M468.9,210.9l2,2m0,-2l-2,2M469.7,211.2l2,2m0,-2l-2,2M470.8,210.6l2,2m0,-2l-2,2M469.5,215l2,2m0,-2l-2,2M469.9,216.1l2,2m0,-2l-2,2M472.3,212.8l2,2m0,-2l-2,2M473.2,212.8l2,2m0,-2l-2,2M473.7,213.9l2,2m0,-2l-2,2M472.8,219l2,2m0,-2l-2,2M474.5,216.7l2,2m0,-2l-2,2M476.2,214.2l2,2m0,-2l-2,2M477.6,212.3l2,2m0,-2l-2,2M478,214.5l2,2m0,-2l-2,2M478.1,218l2,2m0,-2l-2,2M478.8,219.4l2,2m0,-2l-2,2M480.5,215.8l2,2m0,-2l-2,2M481.5,215.3l2,2m0,-2l-2,2M482.2,215.7l2,2m0,-2l-2,2M483.5,213.5l2,2m0,-2l-2,2M483.1,218.6l2,2m0,-2l-2,2" fill="none" stroke="#111" stroke-width="0.7" opacity="0.85"/><path d="M400.5,214 L400.5,213.4 L400.6,212.8 L400.6,212.1 L400.7,211.2 L400.8,210.4 L400.8,209.4 L400.9,208.4 L401,207.3 L401.1,206.2 L401.1,205.1 L401.2,204 L401.3,202.8 L401.4,201.6 L401.5,200.5 L401.6,199.3 L401.7,198.2 L401.8,197.1 L401.9,196 L402,195 L402.1,194 L402.2,193 L402.3,192 L402.4,190.9 L402.6,189.9 L402.7,188.9 L402.8,187.8 L402.9,186.8 L403.1,185.8 L403.2,184.7 L403.3,183.7 L403.5,182.7 L403.6,181.7 L403.7,180.7 L403.9,179.7 L404,178.8 L404.2,177.8 L404.3,176.9 L404.5,176 L404.7,174.9 L404.9,173.8 L405.1,172.6 L405.4,171.6 L405.6,170.5 L405.8,169.4 L406.1,168.4 L406.3,167.4 L406.6,166.4 L406.8,165.4 L407,164.5 L407.3,163.6 L407.5,162.7 L407.8,161.8 L408,161 L408.4,159.7 L408.8,158.5 L409.2,157.3 L409.6,156.2 L410,155.2 L410.4,154.3 L410.7,153.4 L411.1,152.7 L411.5,152 L412.3,150.8 L413.2,150.1 L414,149.7 L414.7,149.5 L415.6,149.8 L416.7,151.3 L417.1,151.9 L417.6,152.6 L418.1,153.4 L418.6,154.3 L419.2,155.2 L419.7,156.2 L420.3,157.1 L420.9,158.1 L421.4,159.1 L421.9,160 L422.3,160.9 L422.8,161.8 L423.3,162.7 L423.7,163.6 L424.2,164.5 L424.7,165.5 L425.2,166.5 L425.6,167.5 L426.1,168.5 L426.5,169.4 L427,170.4 L427.4,171.4 L427.8,172.4 L428.2,173.5 L428.7,174.5 L429.1,175.6 L429.5,176.6 L429.9,177.6 L430.4,178.6 L430.8,179.5 L431.3,180.5 L431.7,181.5 L432.1,182.5 L432.5,183.5 L433,184.4 L433.4,185.3 L433.9,186.2 L434.4,187.1 L434.9,188 L435.5,188.9 L436.1,189.7 L436.7,190.4 L437.4,191.2 L438.1,191.9 L438.8,192.6 L439.6,193.3 L440.3,194 L441.1,194.7 L441.8,195.4 L442.6,196.1 L443.3,196.7 L444.1,197.4 L444.9,198.1 L445.7,198.8 L446.5,199.4 L447.2,200 L448,200.7 L448.8,201.3 L449.6,201.9 L450.4,202.4 L451.2,203 L452.1,203.6 L452.9,204.2 L453.8,204.7 L454.7,205.2 L455.5,205.7 L456.4,206.2 L457.3,206.7 L458.1,207.2 L459,207.7 L460,208.2 L461,208.8 L462,209.3 L463,209.8 L464,210.3 L465,210.8 L466,211.3 L467,211.8 L468,212.3 L468.9,212.8 L469.8,213.3 L470.7,213.8 L471.7,214.2 L472.6,214.7 L473.6,215.1 L474.7,215.5 L475.6,215.8 L476.7,216.1 L477.8,216.4 L478.9,216.7 L480.1,217 L481.2,217.2 L482.2,217.5 L483.1,217.7 L483.9,217.9 L484.5,218" fill="none" stroke="#a41c1c" stroke-width="1.3" stroke-linejoin="round"/>
<rect x="456.5" y="147.7" width="10.7" height="6.6" fill="#d5e8da"/>
<rect x="456.5" y="156.9" width="10.7" height="6.6" fill="#fdebdf"/>
<text x="469.2" y="153.7" font-size="7" font-weight="bold" fill="#444">1P</text>
<text x="469.2" y="162.9" font-size="7" font-weight="bold" fill="#444">2P</text>
<text x="440.1" y="173.4" font-size="7" font-weight="bold" fill="#444">Cu3Zn</text>
<text x="467.9" y="173.3" font-size="8" fill="#3a3a3a" font-style="italic">E</text>
<text x="472.2" y="176.2" font-size="5.4" fill="#3a3a3a" font-weight="bold">2g</text>
<text x="460.1" y="187.5" font-size="7" font-weight="bold" fill="#d85050">51 K</text>
<path d="M400,221.4v-2.6 M400,140.8v2.6 M405.3,221.4v-1.5 M405.3,140.8v1.5 M410.5,221.4v-1.5 M410.5,140.8v1.5 M415.8,221.4v-1.5 M415.8,140.8v1.5 M421.1,221.4v-2.6 M421.1,140.8v2.6 M426.3,221.4v-1.5 M426.3,140.8v1.5 M431.6,221.4v-1.5 M431.6,140.8v1.5 M436.9,221.4v-1.5 M436.9,140.8v1.5 M442.1,221.4v-2.6 M442.1,140.8v2.6 M447.4,221.4v-1.5 M447.4,140.8v1.5 M452.6,221.4v-1.5 M452.6,140.8v1.5 M457.9,221.4v-1.5 M457.9,140.8v1.5 M463.2,221.4v-2.6 M463.2,140.8v2.6 M468.4,221.4v-1.5 M468.4,140.8v1.5 M473.7,221.4v-1.5 M473.7,140.8v1.5 M479,221.4v-1.5 M479,140.8v1.5 M484.2,221.4v-2.6 M484.2,140.8v2.6 M400,198h2.6 M485.5,198h-2.6 M400,174.6h2.6 M485.5,174.6h-2.6 M400,151.2h2.6 M485.5,151.2h-2.6 " stroke="#555" stroke-width="0.7" fill="none"/>
<path d="M485.5,221.4 L486,215.9 L486,215.6 L486,215.3 L486.1,215 L486.1,214.7 L486.1,214.3 L486.1,213.9 L486.2,213.5 L486.2,213.1 L486.2,212.7 L486.3,212.2 L486.3,211.7 L486.3,211.2 L486.4,210.7 L486.4,210.2 L486.4,209.7 L486.5,209.1 L486.5,208.6 L486.6,208 L486.6,207.5 L486.6,206.9 L486.7,206.3 L486.7,205.7 L486.8,205.2 L486.8,204.6 L486.9,204 L486.9,203.4 L486.9,202.8 L487,202.2 L487,201.7 L487.1,201.1 L487.1,200.5 L487.2,200 L487.2,199.4 L487.3,198.9 L487.3,198.4 L487.4,197.9 L487.4,197.4 L487.5,196.9 L487.6,196.4 L487.6,195.8 L487.7,195.3 L487.7,194.8 L487.8,194.3 L487.9,193.7 L487.9,193.2 L488,192.7 L488.1,192.2 L488.1,191.7 L488.2,191.1 L488.2,190.6 L488.3,190.1 L488.4,189.6 L488.5,189.1 L488.5,188.6 L488.6,188.1 L488.7,187.6 L488.7,187.1 L488.8,186.6 L488.9,186.1 L489,185.6 L489,185.1 L489.1,184.6 L489.2,184.1 L489.3,183.7 L489.4,183.2 L489.5,182.7 L489.5,182.2 L489.6,181.8 L489.7,181.3 L489.8,180.8 L489.9,180.4 L490,179.9 L490.1,179.4 L490.2,178.8 L490.4,178.3 L490.5,177.8 L490.6,177.2 L490.7,176.7 L490.9,176.2 L491,175.6 L491.1,175.1 L491.3,174.6 L491.4,174 L491.6,173.5 L491.7,173 L491.9,172.5 L492,172 L492.2,171.5 L492.3,171 L492.5,170.5 L492.6,170.1 L492.7,169.6 L492.9,169.2 L493,168.7 L493.2,168.3 L493.3,167.8 L493.5,167.4 L493.6,167 L493.7,166.6 L493.9,166.3 L494,165.9 L494.2,165.2 L494.5,164.6 L494.7,164 L495,163.5 L495.2,162.9 L495.5,162.5 L495.7,162 L495.9,161.6 L496.1,161.2 L496.4,160.8 L496.6,160.5 L496.8,160.5 L497.1,160.5 L497.3,160.5 L497.5,160.5 L498,160.5 L498.4,160.5 L498.9,160.5 L499.4,160.5 L499.8,160.5 L500.3,160.5 L500.7,160.5 L501,160.5 L501.2,161 L501.5,161.5 L501.7,162.1 L502,162.8 L502.3,163.5 L502.6,164.2 L502.9,165 L503.3,165.8 L503.7,166.6 L504,167.5 L504.4,168.4 L504.8,169.4 L505.3,170.3 L505.7,171.3 L506.1,172.4 L506.6,173.4 L507,174.5 L507.5,175.5 L508,176.6 L508.5,177.8 L509,178.9 L509.4,180 L509.9,181.1 L510.4,182.3 L510.9,183.4 L511.4,184.6 L511.9,185.7 L512.4,186.9 L512.9,188 L513.4,189.1 L513.9,190.2 L514.4,191.4 L514.9,192.4 L515.3,193.5 L515.8,194.6 L516.3,195.6 L516.7,196.6 L517.1,197.6 L517.6,198.6 L518,199.5 L518.4,200.4 L518.8,201.3 L519.1,202.1 L519.5,202.9 L519.8,203.6 L520.1,204.3 L520.4,205 L520.7,205.6 L521,206.2 L522.2,208.7 L523.2,210.5 L523.9,211.6 L524.4,212.3 L524.7,212.6 L525,212.8 L525.3,213 L525.6,213.4 L526,214 L526.6,215.1 L527.1,216.4 L527.6,217.6 L528,218.8 L528.4,219.8 L528.7,220.7 L529,221.4 Z" fill="#d5e8da"/>
<path d="M492,221.4 L492.9,221 L494,220.5 L495.4,219.9 L496.9,219.2 L498.5,218.5 L500.2,217.7 L502,217 L503.7,216.3 L505.4,215.6 L507,215 L508.4,214.5 L509.8,214 L511.2,213.4 L512.6,212.9 L514,212.4 L515.5,211.9 L516.9,211.5 L518.4,211.1 L519.9,210.8 L521.4,210.6 L523,210.5 L524.5,210.5 L526,210.6 L527.5,210.7 L529.1,210.9 L530.7,211.2 L532.3,211.5 L533.9,211.9 L535.6,212.2 L537.2,212.7 L538.8,213.1 L540.4,213.5 L542,214 L543.5,214.5 L545.1,215 L546.8,215.6 L548.5,216.2 L550.2,216.9 L551.9,217.6 L553.5,218.3 L555.1,218.9 L556.6,219.5 L557.9,220.1 L559.1,220.6 L560.2,221.1 L561,221.4 Z" fill="#fdebdf"/>
<path d="M490,179 L490.1,178.5 L490.2,177.9 L490.4,177.4 L490.5,176.9 L490.6,176.3 L490.7,175.8 L490.9,175.3 L491,174.7 L491.1,174.2 L491.3,173.7 L491.4,173.1 L491.6,172.6 L491.7,172.1 L491.9,171.6 L492,171.1 L492.2,170.6 L492.3,170.1 L492.5,169.6 L492.6,169.2 L492.7,168.7 L492.9,168.3 L493,167.8 L493.2,167.4 L493.3,166.9 L493.5,166.5 L493.6,166.1 L493.7,165.7 L493.9,165.4 L494,165 L494.2,164.3 L494.5,163.7 L494.7,163.1 L495,162.6 L495.2,162 L495.5,161.6 L495.7,161.1 L495.9,160.7 L496.1,160.3 L496.4,159.9 L496.6,159.5 L496.8,159.2 L497.1,158.9 L497.3,158.6 L497.5,158.3 L498,157.8 L498.4,157.4 L498.9,157.1 L499.4,156.8 L499.8,156.7 L500.3,156.6 L500.7,156.6 L501.2,156.6 L501.6,156.7 L502.1,156.9 L502.5,157.1 L503,157.5 L503.5,158 L503.8,158.3 L504.1,158.6 L504.4,158.9 L504.7,159.3 L505,159.7 L505.3,160.1 L505.6,160.6 L506,161.1 L506.3,161.6 L506.6,162.1 L507,162.6 L507.3,163.2 L507.5,163.6 L507.7,164 L508,164.4 L508.2,164.8 L508.4,165.2 L508.6,165.6 L508.9,166.1 L509.1,166.5 L509.3,167 L509.6,167.4 L509.8,167.9 L510.1,168.4 L510.3,168.9 L510.5,169.4 L510.8,169.9 L511,170.4 L511.2,170.9 L511.5,171.5 L511.7,172 L511.9,172.4 L512.1,172.8 L512.2,173.3 L512.4,173.7 L512.6,174.2 L512.8,174.7 L512.9,175.1 L513.1,175.6 L513.3,176.1 L513.5,176.6 L513.6,177.1 L513.8,177.6 L514,178.1 L514.2,178.6 L514.3,179.1 L514.5,179.6 L514.7,180.1 L514.9,180.6 L515,181 L515.2,181.5 L515.4,182 L515.6,182.4 L515.7,182.9 L515.9,183.3 L516.1,183.7 L516.3,184.2 L516.6,184.8 L516.8,185.3 L517,185.8 L517.2,186.3 L517.4,186.7 L517.7,187.2 L517.9,187.7 L518.1,188.1 L518.3,188.6 L518.5,189 L518.8,189.5 L519,189.9 L519.2,190.4 L519.5,190.8 L519.7,191.2 L520,191.6 L520.2,192.1 L520.5,192.5 L520.8,192.9 L521.1,193.4 L521.4,193.8 L521.7,194.3 L522,194.7 L522.3,195.1 L522.6,195.6 L522.9,196 L523.2,196.4 L523.5,196.8 L523.9,197.2 L524.2,197.6 L524.5,198 L524.9,198.4 L525.2,198.8 L525.6,199.2 L525.9,199.5 L526.3,199.9 L526.7,200.3 L527.1,200.6 L527.4,201 L527.8,201.3 L528.2,201.7 L528.7,202 L529.1,202.3 L529.5,202.7 L529.9,203 L530.3,203.3 L530.8,203.6 L531.2,203.9 L531.6,204.2 L532,204.5 L532.5,204.8 L532.9,205.1 L533.3,205.4 L533.7,205.7 L534.1,206 L534.6,206.3 L535,206.6 L535.4,206.9 L535.9,207.1 L536.3,207.4 L536.7,207.7 L537.2,207.9 L537.6,208.2 L538,208.4 L538.4,208.7 L538.9,208.9 L539.3,209.2 L539.7,209.4 L540.2,209.6 L540.6,209.9 L541,210.1 L541.5,210.4 L541.9,210.6 L542.4,210.9 L542.9,211.1 L543.3,211.3 L543.8,211.6 L544.2,211.8 L544.7,212 L545.2,212.3 L545.6,212.5 L546.1,212.7 L546.6,212.9 L547,213.1 L547.5,213.3 L548,213.5 L548.5,213.7 L548.9,213.9 L549.4,214 L549.9,214.2 L550.4,214.4 L550.9,214.5 L551.4,214.7 L551.9,214.9 L552.4,215 L552.9,215.2 L553.4,215.3 L553.9,215.4 L554.3,215.6 L554.8,215.7 L555.3,215.9 L555.7,216 L556.2,216.2 L556.7,216.3 L557.2,216.5 L557.7,216.6 L558.2,216.8 L558.6,216.9 L559.1,217 L559.6,217.2 L560,217.3 L560.5,217.4 L561,217.6 L561.5,217.7 L562,217.8 L562.5,217.9 L563,218 L563.5,218.1 L564.1,218.2 L564.7,218.3 L565.3,218.4 L565.9,218.5 L566.4,218.6 L567,218.6 L567.5,218.7 L568,218.8 L568.5,218.8 L568.9,218.9 L569.2,219 L569.5,219" fill="none" stroke="#2a1414" stroke-width="5.2" stroke-linejoin="round" opacity="0.8"/><path d="M488.5,178.7 L491.7,178.5 L488,176.7 L488.8,176 L491.2,175.6 L490,174.4 L492.3,174.1 L491.5,173 L490.1,171.7 L492.8,171.6 L493.3,170.9 L489.8,169 L495.2,169.8 L493.6,168.5 L494.2,167.9 L490.9,165.8 L492.7,165.6 L493.5,165 L495.8,164.7 L492.7,162.6 L493.7,162.2 L492.6,160.6 L495.4,161 L496.5,160.7 L494.5,158.4 L496.3,158.5 L498,158.9 L499.6,159.4 L499.3,157.9 L499.4,156.4 L500.2,154.9 L501.5,155.3 L502.6,156.1 L502.7,157.6 L503.6,157.9 L502.2,160.2 L504.3,159.5 L506.3,158.9 L503.7,161.8 L504.9,161.9 L506.4,162 L507.9,162.2 L509.8,162.1 L509.2,163.5 L507.2,165.7 L509.7,165.2 L510.7,165.5 L509.2,167.2 L509.5,168 L509.4,169 L509.7,169.8 L509,171 L512.4,170.5 L510.3,172.3 L513.2,172 L511.3,173.6 L512.2,174 L512.4,174.8 L511.7,175.9 L513.4,176.2 L512.1,177.6 L512.7,178.3 L514,178.7 L515.2,179.2 L515.8,179.9 L515.7,180.7 L515.6,181.7 L515.6,182.5 L511.9,184.8 L515.3,184.3 L515.5,185.2 L518,185 L518.2,185.9 L518,186.8 L517.7,187.9 L519.6,187.8 L516.5,190.2 L519.7,189.5 L518,191.3 L522.6,189.5 L520.1,191.8 L520.2,192.7 L520.7,193.3 L520.7,194.3 L521.5,194.8 L522.1,195.3 L525,194.2 L524.1,195.8 L526.4,195 L523.6,198.3 L524.5,198.6 L525.5,198.7 L526.7,198.7 L527,199.4 L525.2,202.5 L526,203 L528.3,201.6 L527.7,203.6 L530.9,200.9 L531.8,200.9 L531.2,203.1 L532.2,203.1 L532.6,203.9 L532.6,205.3 L530.9,209.1 L534.6,205.2 L534.7,206.5 L535.2,207.2 L536.2,207.3 L536.2,208.9 L536.2,210.4 L539.1,207 L538.8,209.2 L539.8,209 L540.1,210.2 L542.1,208.2 L542.9,208.3 L544,207.9 L542.9,212 L543.8,211.9 L544.6,212.1 L546.8,209.3 L546.3,212.2 L547.3,212 L548.4,211.5 L548.8,212.4 L548.8,214.9 L549.7,214.9 L550.7,214.4 L551.3,215.4 L552.5,214.1 L553.1,215.3 L553.8,215.5 L554.4,216.4 L555.4,215.8 L556.2,215.9 L557,216.2 L558,215.7 L557.6,219.9 L559,217.8 L559.8,217.9 L560,220.7 L561.1,219.7 L562.8,215.7 L563.1,219 L563.9,219.4 L564.7,221 L565.7,220.4 L566.8,219.7 L568,217.1 L568.7,217.6 L569.2,219.3" fill="none" stroke="#141010" stroke-width="0.7" opacity="0.6"/><path d="M489.9,178.2l2,2m0,-2l-2,2M487.4,176.7l2,2m0,-2l-2,2M488.7,176.1l2,2m0,-2l-2,2M488.9,175.2l2,2m0,-2l-2,2M489.9,174.6l2,2m0,-2l-2,2M490.6,173.8l2,2m0,-2l-2,2M489.7,172.7l2,2m0,-2l-2,2M488.3,171.4l2,2m0,-2l-2,2M492.9,171.8l2,2m0,-2l-2,2M493.7,171.2l2,2m0,-2l-2,2M491,169.5l2,2m0,-2l-2,2M493.2,169.3l2,2m0,-2l-2,2M492.4,168.3l2,2m0,-2l-2,2M493,167.6l2,2m0,-2l-2,2M492.9,166.8l2,2m0,-2l-2,2M491.1,165.3l2,2m0,-2l-2,2M493.7,165.2l2,2m0,-2l-2,2M494.7,164.8l2,2m0,-2l-2,2M491.8,162.6l2,2m0,-2l-2,2M496.9,163.8l2,2m0,-2l-2,2M497.3,163.3l2,2m0,-2l-2,2M497.2,162.3l2,2m0,-2l-2,2M497.8,161.8l2,2m0,-2l-2,2M496.2,160.1l2,2m0,-2l-2,2M495,158.4l2,2m0,-2l-2,2M495.1,157.4l2,2m0,-2l-2,2M495.3,156.5l2,2m0,-2l-2,2M497.2,156.8l2,2m0,-2l-2,2M497.8,156.1l2,2m0,-2l-2,2M498.9,157l2,2m0,-2l-2,2M499,152l2,2m0,-2l-2,2M499.6,159.7l2,2m0,-2l-2,2M499.3,159.6l2,2m0,-2l-2,2M501.9,156.4l2,2m0,-2l-2,2M501.6,157.9l2,2m0,-2l-2,2M502.4,158.1l2,2m0,-2l-2,2M503.2,158.5l2,2m0,-2l-2,2M504.4,158.6l2,2m0,-2l-2,2M504.7,159.3l2,2m0,-2l-2,2M506.3,159.4l2,2m0,-2l-2,2M505.3,161.1l2,2m0,-2l-2,2M506.1,161.7l2,2m0,-2l-2,2M506,162.8l2,2m0,-2l-2,2M508.2,162.5l2,2m0,-2l-2,2M507.3,164.1l2,2m0,-2l-2,2M507.6,164.7l2,2m0,-2l-2,2M507.1,165.9l2,2m0,-2l-2,2M510.1,165.2l2,2m0,-2l-2,2M508.1,167.2l2,2m0,-2l-2,2M507.6,168.4l2,2m0,-2l-2,2M508.5,168.8l2,2m0,-2l-2,2M510.5,168.9l2,2m0,-2l-2,2M511.1,169.6l2,2m0,-2l-2,2M511,170.6l2,2m0,-2l-2,2M509.7,172l2,2m0,-2l-2,2M508.6,173.2l2,2m0,-2l-2,2M511.7,172.8l2,2m0,-2l-2,2M512.8,173.3l2,2m0,-2l-2,2M511.4,174.7l2,2m0,-2l-2,2M512,175.4l2,2m0,-2l-2,2M514.2,175.5l2,2m0,-2l-2,2M514.2,176.4l2,2m0,-2l-2,2M513.4,177.6l2,2m0,-2l-2,2M512.3,178.9l2,2m0,-2l-2,2M515.8,178.5l2,2m0,-2l-2,2M515.8,179.4l2,2m0,-2l-2,2M513.5,181.1l2,2m0,-2l-2,2M516.7,180.7l2,2m0,-2l-2,2M514.7,182.3l2,2m0,-2l-2,2M514.6,183.2l2,2m0,-2l-2,2M515.7,183.6l2,2m0,-2l-2,2M517.6,183.8l2,2m0,-2l-2,2M516.3,185.2l2,2m0,-2l-2,2M517.1,185.8l2,2m0,-2l-2,2M516.4,187l2,2m0,-2l-2,2M518.6,186.8l2,2m0,-2l-2,2M515.9,189l2,2m0,-2l-2,2M520.6,187.4l2,2m0,-2l-2,2M518.6,189.4l2,2m0,-2l-2,2M518.7,190.2l2,2m0,-2l-2,2M517.6,191.7l2,2m0,-2l-2,2M520.4,190.9l2,2m0,-2l-2,2M519.1,192.7l2,2m0,-2l-2,2M521.2,192.3l2,2m0,-2l-2,2M519.8,194.3l2,2m0,-2l-2,2M518.8,196l2,2m0,-2l-2,2M522.4,194.4l2,2m0,-2l-2,2M521.6,196l2,2m0,-2l-2,2M524.1,195l2,2m0,-2l-2,2M521.9,197.8l2,2m0,-2l-2,2M522.2,198.8l2,2m0,-2l-2,2M524.3,197.9l2,2m0,-2l-2,2M526.4,197.1l2,2m0,-2l-2,2M524.9,199.6l2,2m0,-2l-2,2M524.6,201.1l2,2m0,-2l-2,2M525.3,201.6l2,2m0,-2l-2,2M526.3,201.8l2,2m0,-2l-2,2M529.9,198.6l2,2m0,-2l-2,2M529.3,200.7l2,2m0,-2l-2,2M527.6,204.2l2,2m0,-2l-2,2M531.1,200.9l2,2m0,-2l-2,2M529.3,204.8l2,2m0,-2l-2,2M529.2,206.4l2,2m0,-2l-2,2M531,205.2l2,2m0,-2l-2,2M531.2,206.1l2,2m0,-2l-2,2M533.4,204.4l2,2m0,-2l-2,2M535,203.6l2,2m0,-2l-2,2M534.6,205.7l2,2m0,-2l-2,2M535.3,206l2,2m0,-2l-2,2M535.9,206.7l2,2m0,-2l-2,2M535.9,208.2l2,2m0,-2l-2,2M537.4,207.3l2,2m0,-2l-2,2M537.8,208.3l2,2m0,-2l-2,2M538.3,209l2,2m0,-2l-2,2M539.3,208.7l2,2m0,-2l-2,2M538.4,212l2,2m0,-2l-2,2M540.4,210.2l2,2m0,-2l-2,2M541.4,210l2,2m0,-2l-2,2M542.4,209.9l2,2m0,-2l-2,2M543.4,209.6l2,2m0,-2l-2,2M542.6,213.2l2,2m0,-2l-2,2M544.3,211.6l2,2m0,-2l-2,2M545.9,209.9l2,2m0,-2l-2,2M546.3,211.1l2,2m0,-2l-2,2M546.7,212.1l2,2m0,-2l-2,2M547.7,211.9l2,2m0,-2l-2,2M547.5,214.8l2,2m0,-2l-2,2M549.6,211.2l2,2m0,-2l-2,2M549.4,214.3l2,2m0,-2l-2,2M550.4,214l2,2m0,-2l-2,2M551.9,211.9l2,2m0,-2l-2,2M552.1,214.3l2,2m0,-2l-2,2M552.9,214.3l2,2m0,-2l-2,2M553.4,215.5l2,2m0,-2l-2,2M554.6,214.1l2,2m0,-2l-2,2M555,215.7l2,2m0,-2l-2,2M556.8,212.5l2,2m0,-2l-2,2M557.3,213.8l2,2m0,-2l-2,2M557.1,217.2l2,2m0,-2l-2,2M557.7,217.9l2,2m0,-2l-2,2M559,216.3l2,2m0,-2l-2,2M560,215.5l2,2m0,-2l-2,2M560.1,218.6l2,2m0,-2l-2,2M562.1,213.2l2,2m0,-2l-2,2M562.5,215.6l2,2m0,-2l-2,2M562.9,218.4l2,2m0,-2l-2,2M563.9,218.5l2,2m0,-2l-2,2M565.3,215.7l2,2m0,-2l-2,2M566.4,214.3l2,2m0,-2l-2,2M566.4,220.3l2,2m0,-2l-2,2M567.5,218.1l2,2m0,-2l-2,2M568.5,216.4l2,2m0,-2l-2,2" fill="none" stroke="#111" stroke-width="0.7" opacity="0.85"/><path d="M486,215 L486,214.4 L486.1,213.8 L486.1,213 L486.2,212.2 L486.3,211.3 L486.3,210.3 L486.4,209.3 L486.5,208.2 L486.6,207.1 L486.6,206 L486.7,204.8 L486.8,203.7 L486.9,202.5 L487,201.3 L487.1,200.2 L487.2,199.1 L487.3,198 L487.4,197 L487.5,196 L487.6,194.9 L487.7,193.9 L487.9,192.8 L488,191.8 L488.1,190.8 L488.2,189.7 L488.4,188.7 L488.5,187.7 L488.7,186.7 L488.8,185.7 L489,184.7 L489.1,183.7 L489.3,182.8 L489.5,181.8 L489.6,180.9 L489.8,179.9 L490,179 L490.2,177.9 L490.5,176.8 L490.8,175.7 L491,174.6 L491.3,173.5 L491.6,172.4 L491.9,171.4 L492.2,170.3 L492.5,169.3 L492.8,168.4 L493.1,167.5 L493.4,166.6 L493.7,165.8 L494,165 L494.5,163.6 L495,162.4 L495.6,161.4 L496,160.4 L496.5,159.6 L497,158.9 L497.5,158.3 L498.6,157.2 L499.7,156.8 L500.7,156.6 L501.6,156.7 L502.5,157.1 L503.5,158 L504.1,158.6 L504.7,159.3 L505.3,160.1 L506,161.1 L506.6,162.1 L507.3,163.2 L507.8,164 L508.2,164.9 L508.7,165.8 L509.2,166.7 L509.7,167.7 L510.2,168.7 L510.7,169.8 L511.2,170.9 L511.7,172 L512.1,172.9 L512.4,173.8 L512.8,174.8 L513.2,175.8 L513.5,176.8 L513.9,177.8 L514.3,178.9 L514.6,179.9 L515,180.9 L515.4,181.9 L515.7,182.8 L516.1,183.7 L516.6,184.8 L517.1,185.9 L517.5,186.9 L518,187.9 L518.4,188.8 L518.9,189.8 L519.4,190.7 L519.9,191.6 L520.5,192.5 L521.1,193.4 L521.7,194.3 L522.3,195.1 L522.9,196 L523.5,196.8 L524.2,197.6 L524.9,198.4 L525.6,199.2 L526.3,199.9 L527.1,200.6 L527.8,201.3 L528.7,202 L529.5,202.7 L530.3,203.3 L531.2,203.9 L532,204.5 L532.9,205.1 L533.7,205.7 L534.6,206.3 L535.5,206.9 L536.5,207.5 L537.4,208 L538.3,208.6 L539.2,209.1 L540.1,209.6 L541,210.1 L542,210.6 L543,211.2 L544,211.7 L545,212.2 L546,212.6 L547,213.1 L548,213.5 L548.9,213.9 L549.9,214.2 L550.9,214.5 L551.9,214.9 L552.9,215.2 L553.9,215.4 L554.8,215.7 L555.7,216 L556.8,216.3 L557.9,216.7 L558.9,217 L559.9,217.3 L560.9,217.5 L562,217.8 L563.1,218 L564.3,218.2 L565.5,218.4 L566.7,218.6 L567.9,218.8 L568.8,218.9 L569.5,219" fill="none" stroke="#a41c1c" stroke-width="1.3" stroke-linejoin="round"/>
<rect x="542" y="147.7" width="10.7" height="6.6" fill="#d5e8da"/>
<rect x="542" y="156.9" width="10.7" height="6.6" fill="#fdebdf"/>
<text x="554.7" y="153.7" font-size="7" font-weight="bold" fill="#444">1P</text>
<text x="554.7" y="162.9" font-size="7" font-weight="bold" fill="#444">2P</text>
<text x="525.6" y="173.4" font-size="7" font-weight="bold" fill="#444">Cu3Zn</text>
<text x="553.4" y="173.3" font-size="8" fill="#3a3a3a" font-style="italic">E</text>
<text x="557.7" y="176.2" font-size="5.4" fill="#3a3a3a" font-weight="bold">2g</text>
<text x="545.6" y="187.5" font-size="7" font-weight="bold" fill="#d85050">26.5 K</text>
<path d="M485.5,221.4v-2.6 M485.5,140.8v2.6 M490.8,221.4v-1.5 M490.8,140.8v1.5 M496,221.4v-1.5 M496,140.8v1.5 M501.3,221.4v-1.5 M501.3,140.8v1.5 M506.6,221.4v-2.6 M506.6,140.8v2.6 M511.8,221.4v-1.5 M511.8,140.8v1.5 M517.1,221.4v-1.5 M517.1,140.8v1.5 M522.4,221.4v-1.5 M522.4,140.8v1.5 M527.6,221.4v-2.6 M527.6,140.8v2.6 M532.9,221.4v-1.5 M532.9,140.8v1.5 M538.1,221.4v-1.5 M538.1,140.8v1.5 M543.4,221.4v-1.5 M543.4,140.8v1.5 M548.7,221.4v-2.6 M548.7,140.8v2.6 M553.9,221.4v-1.5 M553.9,140.8v1.5 M559.2,221.4v-1.5 M559.2,140.8v1.5 M564.5,221.4v-1.5 M564.5,140.8v1.5 M569.7,221.4v-2.6 M569.7,140.8v2.6 M485.5,198h2.6 M571,198h-2.6 M485.5,174.6h2.6 M571,174.6h-2.6 M485.5,151.2h2.6 M571,151.2h-2.6 " stroke="#555" stroke-width="0.7" fill="none"/>
<path d="M571,221.4 L571.5,216.9 L571.5,216.6 L571.5,216.3 L571.6,216 L571.6,215.7 L571.6,215.3 L571.7,214.9 L571.7,214.5 L571.7,214.1 L571.7,213.6 L571.8,213.2 L571.8,212.7 L571.9,212.2 L571.9,211.7 L571.9,211.2 L572,210.6 L572,210.1 L572.1,209.5 L572.1,209 L572.1,208.4 L572.2,207.8 L572.2,207.2 L572.3,206.7 L572.3,206.1 L572.4,205.5 L572.4,204.9 L572.5,204.3 L572.5,203.8 L572.6,203.2 L572.6,202.6 L572.7,202.1 L572.7,201.5 L572.8,201 L572.8,200.4 L572.9,199.9 L572.9,199.4 L573,198.9 L573.1,198.4 L573.1,197.9 L573.2,197.4 L573.2,196.8 L573.3,196.3 L573.4,195.8 L573.4,195.3 L573.5,194.8 L573.6,194.2 L573.6,193.7 L573.7,193.2 L573.8,192.7 L573.8,192.2 L573.9,191.7 L574,191.1 L574.1,190.6 L574.1,190.1 L574.2,189.6 L574.3,189.1 L574.3,188.6 L574.4,188.1 L574.5,187.6 L574.6,187.1 L574.7,186.6 L574.7,186.1 L574.8,185.6 L574.9,185.2 L575,184.7 L575.1,184.2 L575.2,183.7 L575.2,183.3 L575.3,182.8 L575.4,182.4 L575.5,181.9 L575.6,181.3 L575.7,180.8 L575.8,180.2 L576,179.7 L576.1,179.1 L576.2,178.5 L576.3,178 L576.4,177.5 L576.6,176.9 L576.7,176.4 L576.8,175.8 L577,175.3 L577.1,174.8 L577.2,174.3 L577.4,173.8 L577.5,173.3 L577.6,172.8 L577.8,172.3 L577.9,171.8 L578,171.4 L578.2,170.9 L578.3,170.5 L578.4,170 L578.6,169.6 L578.7,169.2 L578.9,168.8 L579,168.4 L579.2,167.8 L579.5,167.2 L579.7,166.6 L580,166 L580.2,165.5 L580.5,165 L580.7,164.5 L581,164.1 L581.3,163.6 L581.5,163.2 L581.8,162.8 L582,162.5 L582.3,162.5 L582.5,162.5 L582.8,162.5 L583,162.5 L583.5,162.5 L583.9,162.5 L584.4,162.5 L584.9,162.5 L585.3,162.5 L585.8,162.5 L586.2,162.5 L586.6,162.5 L587,162.5 L587.2,163 L587.5,163.5 L587.7,164.1 L588,164.8 L588.3,165.5 L588.6,166.2 L589,167 L589.4,167.8 L589.7,168.6 L590.1,169.5 L590.5,170.4 L591,171.4 L591.4,172.4 L591.8,173.4 L592.3,174.4 L592.8,175.5 L593.2,176.5 L593.7,177.6 L594.2,178.7 L594.7,179.8 L595.2,181 L595.7,182.1 L596.2,183.2 L596.7,184.3 L597.2,185.5 L597.7,186.6 L598.2,187.8 L598.7,188.9 L599.2,190 L599.7,191.1 L600.2,192.2 L600.7,193.3 L601.2,194.3 L601.7,195.4 L602.1,196.4 L602.6,197.4 L603,198.3 L603.4,199.3 L603.8,200.2 L604.2,201.1 L604.6,201.9 L605,202.7 L605.3,203.4 L605.6,204.1 L605.9,204.8 L606.2,205.4 L606.5,206 L607.8,208.7 L608.7,210.4 L609.4,211.4 L609.8,212 L610.1,212.2 L610.3,212.4 L610.6,212.8 L611,213.5 L611.5,214.5 L611.9,215.6 L612.4,216.8 L612.8,217.9 L613.2,219 L613.5,220 L613.8,220.8 L614,221.4 Z" fill="#d5e8da"/>
<path d="M577,221.4 L577.8,221.1 L578.8,220.7 L580,220.2 L581.4,219.6 L582.8,219 L584.4,218.4 L586,217.8 L587.6,217.1 L589.3,216.5 L590.9,216 L592.5,215.4 L594,215 L595.5,214.6 L596.9,214.2 L598.4,213.8 L599.9,213.4 L601.3,213.1 L602.8,212.7 L604.3,212.4 L605.8,212.2 L607.3,211.9 L608.9,211.8 L610.4,211.7 L612,211.6 L613.5,211.6 L615,211.7 L616.5,211.8 L618,211.9 L619.5,212.1 L621.1,212.3 L622.7,212.5 L624.2,212.8 L625.8,213.1 L627.3,213.4 L628.9,213.8 L630.5,214.1 L632,214.5 L633.5,214.9 L635,215.3 L636.6,215.8 L638.3,216.4 L640,217 L641.6,217.5 L643.2,218.1 L644.8,218.7 L646.3,219.3 L647.7,219.8 L649,220.3 L650.2,220.7 L651.2,221.1 L652,221.4 Z" fill="#fdebdf"/>
<path d="M575.5,181 L575.6,180.4 L575.7,179.9 L575.8,179.3 L576,178.8 L576.1,178.2 L576.2,177.6 L576.3,177.1 L576.4,176.6 L576.6,176 L576.7,175.5 L576.8,174.9 L577,174.4 L577.1,173.9 L577.2,173.4 L577.4,172.9 L577.5,172.4 L577.6,171.9 L577.8,171.4 L577.9,170.9 L578,170.5 L578.2,170 L578.3,169.6 L578.4,169.1 L578.6,168.7 L578.7,168.3 L578.9,167.9 L579,167.5 L579.2,166.9 L579.5,166.3 L579.7,165.7 L580,165.1 L580.2,164.6 L580.5,164.1 L580.7,163.6 L581,163.2 L581.3,162.7 L581.5,162.3 L581.8,161.9 L582,161.5 L582.3,161.2 L582.5,160.8 L582.8,160.5 L583,160.2 L583.5,159.6 L583.9,159.1 L584.4,158.7 L584.9,158.4 L585.3,158.1 L585.8,157.9 L586.2,157.7 L586.6,157.6 L587.2,157.5 L587.8,157.5 L588.4,157.7 L588.9,158 L589.5,158.3 L589.9,158.5 L590.3,158.7 L590.6,159 L591,159.3 L591.4,159.7 L591.8,160.2 L592.3,161 L592.5,161.3 L592.7,161.7 L592.9,162 L593.1,162.4 L593.3,162.8 L593.5,163.3 L593.7,163.7 L593.9,164.2 L594.2,164.7 L594.4,165.2 L594.6,165.7 L594.9,166.2 L595.1,166.7 L595.3,167.3 L595.6,167.8 L595.8,168.3 L596,168.9 L596.3,169.4 L596.5,170 L596.7,170.5 L596.9,170.9 L597.1,171.4 L597.2,171.8 L597.4,172.3 L597.6,172.7 L597.8,173.2 L597.9,173.7 L598.1,174.2 L598.3,174.6 L598.5,175.1 L598.6,175.6 L598.8,176.1 L599,176.6 L599.2,177.1 L599.3,177.6 L599.5,178.1 L599.7,178.6 L599.9,179 L600,179.5 L600.2,180 L600.4,180.5 L600.6,180.9 L600.7,181.4 L600.9,181.9 L601.1,182.3 L601.3,182.8 L601.5,183.3 L601.7,183.8 L601.9,184.3 L602.1,184.8 L602.3,185.3 L602.5,185.8 L602.6,186.2 L602.8,186.7 L603,187.2 L603.2,187.7 L603.4,188.1 L603.6,188.6 L603.8,189.1 L604,189.5 L604.2,190 L604.4,190.4 L604.6,190.8 L604.8,191.3 L605,191.7 L605.3,192.1 L605.5,192.5 L605.8,193 L606.1,193.4 L606.4,193.9 L606.7,194.3 L607,194.8 L607.3,195.2 L607.6,195.6 L607.9,196 L608.2,196.4 L608.5,196.8 L608.9,197.2 L609.2,197.6 L609.5,198 L609.9,198.4 L610.2,198.7 L610.6,199.1 L610.9,199.5 L611.3,199.9 L611.7,200.3 L612,200.6 L612.4,201 L612.8,201.4 L613.1,201.8 L613.5,202.1 L613.9,202.5 L614.3,202.8 L614.7,203.2 L615.1,203.6 L615.5,203.9 L615.9,204.3 L616.3,204.6 L616.7,204.9 L617.1,205.3 L617.5,205.6 L617.9,205.9 L618.3,206.2 L618.7,206.5 L619.1,206.8 L619.6,207.1 L620,207.4 L620.4,207.7 L620.9,208 L621.3,208.3 L621.7,208.5 L622.2,208.8 L622.6,209 L623,209.3 L623.4,209.5 L623.9,209.8 L624.3,210 L624.7,210.2 L625.2,210.5 L625.6,210.7 L626,210.9 L626.5,211.1 L626.9,211.4 L627.4,211.6 L627.9,211.8 L628.3,212 L628.8,212.3 L629.2,212.5 L629.7,212.7 L630.2,212.9 L630.6,213 L631.1,213.2 L631.6,213.4 L632,213.6 L632.5,213.8 L633,214 L633.5,214.2 L633.9,214.4 L634.4,214.6 L634.9,214.7 L635.4,214.9 L635.9,215.1 L636.4,215.3 L636.9,215.5 L637.4,215.6 L637.9,215.8 L638.4,216 L638.9,216.1 L639.3,216.3 L639.8,216.4 L640.3,216.6 L640.7,216.7 L641.3,216.9 L641.8,217 L642.3,217.1 L642.8,217.2 L643.3,217.4 L643.8,217.5 L644.3,217.6 L644.8,217.6 L645.3,217.7 L645.8,217.8 L646.4,217.9 L647,218 L647.5,218.1 L648,218.1 L648.5,218.2 L649,218.3 L649.6,218.3 L650.2,218.4 L650.8,218.5 L651.4,218.5 L651.9,218.6 L652.5,218.7 L653,218.7 L653.6,218.8 L654,218.8 L654.5,218.9 L654.9,218.9 L655.2,219 L655.5,219" fill="none" stroke="#2a1414" stroke-width="5.2" stroke-linejoin="round" opacity="0.8"/><path d="M575.6,181 L576.9,180.4 L572.2,178.5 L577.6,178.7 L577.3,177.7 L573.5,176 L577.7,176.1 L574.3,174.4 L578.6,174.5 L577.8,173.5 L580.6,173.4 L576.8,171.6 L577.9,171 L579.5,170.7 L577.5,169.2 L577.7,168.3 L578.4,167.6 L579.1,167 L578,165.7 L580.5,165.7 L580.9,164.9 L580.7,163.8 L583.2,164.3 L581,162.2 L583.5,162.7 L581.8,160.5 L583.8,161 L581.5,157.7 L584.4,159.1 L584.7,158.2 L585.2,157.4 L586,156.9 L587,157 L588.1,156.6 L590,155 L589.9,157.5 L590.6,158 L591.4,158.6 L592.6,158.8 L592.1,160.3 L591.4,161.7 L593.1,161.6 L593.8,162.2 L591.8,164.2 L592.6,164.7 L593,165.4 L593.1,166.3 L595.4,166.2 L595.5,167.1 L594.2,168.6 L596.7,168.5 L596.5,169.6 L596.2,170.7 L596.5,171.4 L597.6,171.8 L596.2,173.2 L598.1,173.3 L597.1,174.6 L597,175.5 L597.8,176.1 L598,176.9 L600.8,176.8 L601.3,177.5 L600.7,178.6 L599.5,179.9 L598.4,181.2 L602.3,180.6 L600.5,182.1 L602.4,182.2 L602.6,183.1 L602.3,184.1 L601.3,185.4 L602.2,186 L601.2,187.3 L604.4,186.9 L602.2,188.6 L602.5,189.4 L603.9,189.6 L603.7,190.6 L605.4,190.6 L606.4,190.9 L606,192.2 L606.7,192.7 L602.9,196.2 L607.4,194.2 L605.4,196.7 L607.6,196.1 L607.9,196.8 L608,197.8 L610.1,197 L608.8,199.2 L609.9,199.2 L612.5,198 L610.8,200.6 L611.4,201.2 L612.1,201.7 L611.6,203.4 L614.2,201.9 L613.9,203.4 L614.3,204.3 L616.5,203 L615.1,205.9 L618.2,203.4 L618.6,204.1 L617.6,206.6 L619.6,205.2 L619.5,206.9 L621.4,205.5 L620.7,208 L622.4,207 L621.9,209.2 L624,207.3 L623.3,210.2 L624.5,209.7 L624.9,210.4 L625.7,210.6 L626.3,211.3 L628,209.8 L629.4,208.5 L628.6,212.2 L629.8,211.2 L630.3,212.2 L630.5,213.7 L632.6,210.7 L632.6,212.7 L633.3,213.2 L634.3,212.9 L634.4,215 L635.4,214.7 L636.5,214.1 L637.4,214.1 L637.3,216.8 L638.8,215.1 L639,217.1 L639.8,217.1 L641.7,214.1 L642.1,215.5 L642.5,217.2 L643.1,217.8 L644,218.6 L644.7,218.8 L645.5,219.3 L646.6,217.4 L647.4,217.8 L648,219.3 L649.1,217.7 L649.8,219.9 L651.2,216.2 L651.8,219.5 L652.8,218.5 L653.9,216 L654.2,220.3 L655.1,219.4" fill="none" stroke="#141010" stroke-width="0.7" opacity="0.6"/><path d="M574.5,180l2,2m0,-2l-2,2M572.8,178.7l2,2m0,-2l-2,2M574,178.1l2,2m0,-2l-2,2M577.7,177.9l2,2m0,-2l-2,2M573.8,176.2l2,2m0,-2l-2,2M569.3,174.2l2,2m0,-2l-2,2M574.1,174.4l2,2m0,-2l-2,2M573.7,173.5l2,2m0,-2l-2,2M575.8,173.1l2,2m0,-2l-2,2M575.5,172.2l2,2m0,-2l-2,2M574.9,171.1l2,2m0,-2l-2,2M575.2,170.4l2,2m0,-2l-2,2M578.7,170.6l2,2m0,-2l-2,2M574.6,168.6l2,2m0,-2l-2,2M580.7,169.5l2,2m0,-2l-2,2M576.7,167.3l2,2m0,-2l-2,2M576,166.1l2,2m0,-2l-2,2M579.5,166.5l2,2m0,-2l-2,2M579.4,165.7l2,2m0,-2l-2,2M577.1,163.6l2,2m0,-2l-2,2M580.5,164.2l2,2m0,-2l-2,2M576.7,161.2l2,2m0,-2l-2,2M578.6,161.2l2,2m0,-2l-2,2M582.2,162.5l2,2m0,-2l-2,2M580.6,160.4l2,2m0,-2l-2,2M579.5,158.6l2,2m0,-2l-2,2M582.6,159.9l2,2m0,-2l-2,2M583.7,159.7l2,2m0,-2l-2,2M583.2,157.9l2,2m0,-2l-2,2M582.1,154.7l2,2m0,-2l-2,2M584.2,156.5l2,2m0,-2l-2,2M585.5,157.4l2,2m0,-2l-2,2M586.2,157.9l2,2m0,-2l-2,2M586.2,159.8l2,2m0,-2l-2,2M587.9,156.4l2,2m0,-2l-2,2M588.9,156.5l2,2m0,-2l-2,2M589.2,157.6l2,2m0,-2l-2,2M588.5,159.8l2,2m0,-2l-2,2M591.7,157.7l2,2m0,-2l-2,2M589,160.7l2,2m0,-2l-2,2M595.6,157.6l2,2m0,-2l-2,2M590.5,161.5l2,2m0,-2l-2,2M593.2,161l2,2m0,-2l-2,2M591.8,162.7l2,2m0,-2l-2,2M591.8,163.6l2,2m0,-2l-2,2M595.2,162.9l2,2m0,-2l-2,2M593.7,164.5l2,2m0,-2l-2,2M593.5,165.5l2,2m0,-2l-2,2M593.3,166.6l2,2m0,-2l-2,2M596.2,166.4l2,2m0,-2l-2,2M596.7,167.1l2,2m0,-2l-2,2M598.6,167.3l2,2m0,-2l-2,2M591.5,171.2l2,2m0,-2l-2,2M596.3,170.1l2,2m0,-2l-2,2M596.6,170.8l2,2m0,-2l-2,2M599.1,170.7l2,2m0,-2l-2,2M595.3,173l2,2m0,-2l-2,2M598,172.9l2,2m0,-2l-2,2M595,174.9l2,2m0,-2l-2,2M596.2,175.3l2,2m0,-2l-2,2M597.9,175.6l2,2m0,-2l-2,2M597,176.8l2,2m0,-2l-2,2M600.4,176.5l2,2m0,-2l-2,2M599.4,177.7l2,2m0,-2l-2,2M600.1,178.3l2,2m0,-2l-2,2M601.5,178.7l2,2m0,-2l-2,2M599.6,180.2l2,2m0,-2l-2,2M600.2,180.8l2,2m0,-2l-2,2M597.9,182.6l2,2m0,-2l-2,2M606.2,180.3l2,2m0,-2l-2,2M602,182.9l2,2m0,-2l-2,2M602.7,183.5l2,2m0,-2l-2,2M602.3,184.6l2,2m0,-2l-2,2M601.1,185.9l2,2m0,-2l-2,2M601.4,186.7l2,2m0,-2l-2,2M602.4,187.2l2,2m0,-2l-2,2M603.5,187.5l2,2m0,-2l-2,2M602.2,189l2,2m0,-2l-2,2M602.8,189.6l2,2m0,-2l-2,2M606.7,188.5l2,2m0,-2l-2,2M604.5,190.5l2,2m0,-2l-2,2M606.6,190.3l2,2m0,-2l-2,2M606.7,191.1l2,2m0,-2l-2,2M605.2,193.1l2,2m0,-2l-2,2M605.8,193.7l2,2m0,-2l-2,2M606.1,194.4l2,2m0,-2l-2,2M608,193.9l2,2m0,-2l-2,2M607.6,195.3l2,2m0,-2l-2,2M609,195l2,2m0,-2l-2,2M607.8,197.1l2,2m0,-2l-2,2M607.9,198.1l2,2m0,-2l-2,2M607,200l2,2m0,-2l-2,2M608.2,200l2,2m0,-2l-2,2M611.5,198l2,2m0,-2l-2,2M611.6,199l2,2m0,-2l-2,2M612.8,199l2,2m0,-2l-2,2M611.8,201.2l2,2m0,-2l-2,2M610.3,203.9l2,2m0,-2l-2,2M612.5,202.8l2,2m0,-2l-2,2M616.6,199.5l2,2m0,-2l-2,2M616.1,201.3l2,2m0,-2l-2,2M616.7,201.8l2,2m0,-2l-2,2M615.3,204.8l2,2m0,-2l-2,2M616.5,204.6l2,2m0,-2l-2,2M616.8,205.5l2,2m0,-2l-2,2M615.8,208.1l2,2m0,-2l-2,2M619.3,204.8l2,2m0,-2l-2,2M620,205.2l2,2m0,-2l-2,2M617.9,209.9l2,2m0,-2l-2,2M620.2,207.9l2,2m0,-2l-2,2M621.9,206.6l2,2m0,-2l-2,2M623.7,205l2,2m0,-2l-2,2M623.9,206.2l2,2m0,-2l-2,2M625.4,205.1l2,2m0,-2l-2,2M623.9,209.5l2,2m0,-2l-2,2M624.6,209.8l2,2m0,-2l-2,2M624.6,211.7l2,2m0,-2l-2,2M626.2,210.2l2,2m0,-2l-2,2M627.4,209.7l2,2m0,-2l-2,2M628.1,209.9l2,2m0,-2l-2,2M626.9,214.6l2,2m0,-2l-2,2M630.3,208.9l2,2m0,-2l-2,2M629.6,212.4l2,2m0,-2l-2,2M630.5,212.4l2,2m0,-2l-2,2M630.8,213.7l2,2m0,-2l-2,2M632.3,212.3l2,2m0,-2l-2,2M632.4,214.1l2,2m0,-2l-2,2M633,215l2,2m0,-2l-2,2M634.4,213.6l2,2m0,-2l-2,2M635.4,213.4l2,2m0,-2l-2,2M636,214.1l2,2m0,-2l-2,2M637.3,213.1l2,2m0,-2l-2,2M637.6,214.7l2,2m0,-2l-2,2M638.4,214.7l2,2m0,-2l-2,2M638.9,215.9l2,2m0,-2l-2,2M639.3,218.1l2,2m0,-2l-2,2M640.1,218.3l2,2m0,-2l-2,2M641.7,215.4l2,2m0,-2l-2,2M642,217.4l2,2m0,-2l-2,2M643.1,217l2,2m0,-2l-2,2M643.7,218l2,2m0,-2l-2,2M644.7,216.8l2,2m0,-2l-2,2M645.5,217.4l2,2m0,-2l-2,2M646.5,216.2l2,2m0,-2l-2,2M647.4,215.8l2,2m0,-2l-2,2M647.9,218.8l2,2m0,-2l-2,2M648.7,219.7l2,2m0,-2l-2,2M649.8,218.7l2,2m0,-2l-2,2M650.8,218.4l2,2m0,-2l-2,2M651.7,218.2l2,2m0,-2l-2,2M652.7,217l2,2m0,-2l-2,2M653.7,214.7l2,2m0,-2l-2,2M654,219.1l2,2m0,-2l-2,2" fill="none" stroke="#111" stroke-width="0.7" opacity="0.85"/><path d="M571.5,216 L571.5,215.4 L571.6,214.8 L571.7,214 L571.7,213.2 L571.8,212.3 L571.9,211.3 L571.9,210.3 L572,209.2 L572.1,208.1 L572.2,206.9 L572.3,205.8 L572.4,204.6 L572.5,203.4 L572.6,202.3 L572.7,201.2 L572.8,200.1 L572.9,199 L573,198 L573.1,197 L573.2,195.9 L573.4,194.9 L573.5,193.9 L573.6,192.8 L573.8,191.8 L573.9,190.8 L574.1,189.7 L574.2,188.7 L574.3,187.7 L574.5,186.7 L574.7,185.7 L574.8,184.7 L575,183.8 L575.2,182.8 L575.3,181.9 L575.5,181 L575.7,179.8 L576,178.7 L576.2,177.5 L576.5,176.4 L576.8,175.3 L577,174.2 L577.3,173.1 L577.6,172.1 L577.9,171.1 L578.1,170.1 L578.4,169.2 L578.7,168.3 L579,167.5 L579.5,166.3 L580,165.1 L580.5,164.1 L581,163.2 L581.5,162.3 L582,161.5 L582.5,160.8 L583,160.2 L583.9,159.1 L584.9,158.4 L585.8,157.9 L586.6,157.6 L588.1,157.6 L589.5,158.3 L590.4,158.8 L591.3,159.5 L592.3,161 L592.7,161.7 L593.1,162.4 L593.5,163.3 L593.9,164.2 L594.4,165.2 L594.9,166.2 L595.3,167.3 L595.8,168.3 L596.3,169.4 L596.7,170.5 L597.1,171.4 L597.4,172.4 L597.8,173.3 L598.2,174.3 L598.5,175.3 L598.9,176.4 L599.3,177.4 L599.6,178.4 L600,179.4 L600.4,180.4 L600.7,181.4 L601.1,182.3 L601.5,183.3 L601.9,184.3 L602.3,185.3 L602.6,186.2 L603,187.2 L603.4,188.1 L603.8,189.1 L604.2,190 L604.6,190.8 L605,191.7 L605.5,192.5 L606.1,193.4 L606.7,194.3 L607.3,195.2 L607.9,196 L608.5,196.8 L609.2,197.6 L609.9,198.4 L610.6,199.1 L611.3,199.9 L612.1,200.7 L612.8,201.5 L613.7,202.2 L614.5,203 L615.3,203.8 L616.2,204.5 L617,205.2 L617.9,205.9 L618.7,206.5 L619.6,207.2 L620.5,207.8 L621.5,208.4 L622.4,208.9 L623.3,209.4 L624.2,209.9 L625.1,210.4 L626,210.9 L627,211.4 L628,211.9 L629,212.3 L630,212.8 L631,213.2 L632,213.6 L633,214 L633.9,214.4 L634.9,214.7 L635.9,215.1 L636.9,215.5 L637.9,215.8 L638.9,216.1 L639.8,216.4 L640.7,216.7 L641.8,217 L642.8,217.2 L643.8,217.5 L644.8,217.6 L645.8,217.8 L647,218 L648,218.1 L649.2,218.3 L650.4,218.4 L651.6,218.6 L652.8,218.7 L653.9,218.8 L654.8,218.9 L655.5,219" fill="none" stroke="#a41c1c" stroke-width="1.3" stroke-linejoin="round"/>
<rect x="627" y="147.7" width="10.7" height="6.6" fill="#d5e8da"/>
<rect x="627" y="156.9" width="10.7" height="6.6" fill="#fdebdf"/>
<text x="639.7" y="153.7" font-size="7" font-weight="bold" fill="#444">1P</text>
<text x="639.7" y="162.9" font-size="7" font-weight="bold" fill="#444">2P</text>
<text x="610.6" y="173.4" font-size="7" font-weight="bold" fill="#444">Cu3Zn</text>
<text x="638.4" y="173.3" font-size="8" fill="#3a3a3a" font-style="italic">E</text>
<text x="642.7" y="176.2" font-size="5.4" fill="#3a3a3a" font-weight="bold">2g</text>
<text x="630.6" y="187.5" font-size="7" font-weight="bold" fill="#d85050">4 K</text>
<path d="M571,221.4v-2.6 M571,140.8v2.6 M576.2,221.4v-1.5 M576.2,140.8v1.5 M581.5,221.4v-1.5 M581.5,140.8v1.5 M586.7,221.4v-1.5 M586.7,140.8v1.5 M591.9,221.4v-2.6 M591.9,140.8v2.6 M597.2,221.4v-1.5 M597.2,140.8v1.5 M602.4,221.4v-1.5 M602.4,140.8v1.5 M607.6,221.4v-1.5 M607.6,140.8v1.5 M612.9,221.4v-2.6 M612.9,140.8v2.6 M618.1,221.4v-1.5 M618.1,140.8v1.5 M623.3,221.4v-1.5 M623.3,140.8v1.5 M628.6,221.4v-1.5 M628.6,140.8v1.5 M633.8,221.4v-2.6 M633.8,140.8v2.6 M639,221.4v-1.5 M639,140.8v1.5 M644.3,221.4v-1.5 M644.3,140.8v1.5 M649.5,221.4v-1.5 M649.5,140.8v1.5 M654.7,221.4v-2.6 M654.7,140.8v2.6 M571,198h2.6 M656,198h-2.6 M571,174.6h2.6 M656,174.6h-2.6 M571,151.2h2.6 M656,151.2h-2.6 " stroke="#555" stroke-width="0.7" fill="none"/>
<path d="M314,61.2H400V140.8H314Z M400,61.2H485.5V140.8H400Z M485.5,61.2H571V140.8H485.5Z M571,61.2H656V140.8H571Z M314,140.8H400V221.4H314Z M400,140.8H485.5V221.4H400Z M485.5,140.8H571V221.4H485.5Z M571,140.8H656V221.4H571Z " fill="none" stroke="#4a4a4a" stroke-width="1.35"/>
<text x="310.6" y="143.2" font-size="7.7" fill="#555" text-anchor="end" font-family="Liberation Serif, serif">0</text>
<text x="310.6" y="119.8" font-size="7.7" fill="#555" text-anchor="end" font-family="Liberation Serif, serif">50</text>
<text x="310.6" y="96.4" font-size="7.7" fill="#555" text-anchor="end" font-family="Liberation Serif, serif">100</text>
<text x="310.6" y="73" font-size="7.7" fill="#555" text-anchor="end" font-family="Liberation Serif, serif">150</text>
<text x="0" y="0" font-size="8.7" fill="#8a8a8a" text-anchor="middle" font-family="Liberation Serif, serif" transform="translate(295.2,102) rotate(-90)">χ''(ω) (arb. units)</text>
<text x="310.6" y="223.8" font-size="7.7" fill="#555" text-anchor="end" font-family="Liberation Serif, serif">0</text>
<text x="310.6" y="200.4" font-size="7.7" fill="#555" text-anchor="end" font-family="Liberation Serif, serif">50</text>
<text x="310.6" y="177" font-size="7.7" fill="#555" text-anchor="end" font-family="Liberation Serif, serif">100</text>
<text x="310.6" y="153.6" font-size="7.7" fill="#555" text-anchor="end" font-family="Liberation Serif, serif">150</text>
<text x="0" y="0" font-size="8.7" fill="#8a8a8a" text-anchor="middle" font-family="Liberation Serif, serif" transform="translate(295.2,182.1) rotate(-90)">χ''(ω) (arb. units)</text>
<text x="314" y="229.7" font-size="7.9" fill="#555" text-anchor="middle" font-family="Liberation Serif, serif">0</text>
<text x="335.2" y="229.7" font-size="7.9" fill="#555" text-anchor="middle" font-family="Liberation Serif, serif">200</text>
<text x="356.4" y="229.7" font-size="7.9" fill="#555" text-anchor="middle" font-family="Liberation Serif, serif">400</text>
<text x="377.5" y="229.7" font-size="7.9" fill="#555" text-anchor="middle" font-family="Liberation Serif, serif">600</text>
<text x="357" y="239.3" font-size="8.9" fill="#808080" text-anchor="middle" font-family="Liberation Serif, serif">Raman shift (cm<tspan font-size="5.6" dy="-3">−1</tspan><tspan dy="3">)</tspan></text>
<text x="400" y="229.7" font-size="7.9" fill="#555" text-anchor="middle" font-family="Liberation Serif, serif">0</text>
<text x="421.1" y="229.7" font-size="7.9" fill="#555" text-anchor="middle" font-family="Liberation Serif, serif">200</text>
<text x="442.1" y="229.7" font-size="7.9" fill="#555" text-anchor="middle" font-family="Liberation Serif, serif">400</text>
<text x="463.2" y="229.7" font-size="7.9" fill="#555" text-anchor="middle" font-family="Liberation Serif, serif">600</text>
<text x="442.8" y="239.3" font-size="8.9" fill="#808080" text-anchor="middle" font-family="Liberation Serif, serif">Raman shift (cm<tspan font-size="5.6" dy="-3">−1</tspan><tspan dy="3">)</tspan></text>
<text x="485.5" y="229.7" font-size="7.9" fill="#555" text-anchor="middle" font-family="Liberation Serif, serif">0</text>
<text x="506.6" y="229.7" font-size="7.9" fill="#555" text-anchor="middle" font-family="Liberation Serif, serif">200</text>
<text x="527.6" y="229.7" font-size="7.9" fill="#555" text-anchor="middle" font-family="Liberation Serif, serif">400</text>
<text x="548.7" y="229.7" font-size="7.9" fill="#555" text-anchor="middle" font-family="Liberation Serif, serif">600</text>
<text x="528.2" y="239.3" font-size="8.9" fill="#808080" text-anchor="middle" font-family="Liberation Serif, serif">Raman shift (cm<tspan font-size="5.6" dy="-3">−1</tspan><tspan dy="3">)</tspan></text>
<text x="571" y="229.7" font-size="7.9" fill="#555" text-anchor="middle" font-family="Liberation Serif, serif">0</text>
<text x="591.9" y="229.7" font-size="7.9" fill="#555" text-anchor="middle" font-family="Liberation Serif, serif">200</text>
<text x="612.9" y="229.7" font-size="7.9" fill="#555" text-anchor="middle" font-family="Liberation Serif, serif">400</text>
<text x="633.8" y="229.7" font-size="7.9" fill="#555" text-anchor="middle" font-family="Liberation Serif, serif">600</text>
<text x="613.5" y="239.3" font-size="8.9" fill="#808080" text-anchor="middle" font-family="Liberation Serif, serif">Raman shift (cm<tspan font-size="5.6" dy="-3">−1</tspan><tspan dy="3">)</tspan></text>
<text x="288.4" y="251.2" font-size="14.8" fill="#222" stroke="#222" stroke-width="0.35">(c)</text>
<path d="M321.4,329.7 L321.8,329.4 L322.2,329.2 L322.7,328.9 L323.1,328.6 L323.6,328.3 L324.1,328 L324.5,327.7 L325,327.5 L325.5,327.2 L326,327 L326.5,326.8 L327,326.7 L327.5,326.6 L327.9,326.5 L328.4,326.5 L328.9,326.4 L329.4,326.4 L329.9,326.4 L330.4,326.4 L330.9,326.5 L331.5,326.5 L332,326.5 L332.5,326.6 L333,326.6 L333.5,326.6 L334,326.6 L334.5,326.6 L335,326.6 L335.5,326.6 L336,326.6 L336.5,326.6 L336.9,326.6 L337.4,326.6 L337.9,326.5 L338.4,326.5 L338.9,326.5 L339.4,326.5 L339.9,326.5 L340.5,326.5 L341,326.5 L341.5,326.5 L342,326.5 L342.5,326.5 L343,326.4 L343.5,326.4 L344,326.4 L344.5,326.4 L345,326.4 L345.5,326.4 L346,326.4 L346.6,326.3 L347.1,326.3 L347.6,326.3 L348.1,326.3 L348.5,326.3 L349,326.3 L349.6,326.3 L350.1,326.3 L350.7,326.3 L351.2,326.3 L351.8,326.3 L352.3,326.3 L352.8,326.3 L353.4,326.3 L353.9,326.3 L354.4,326.4 L354.9,326.4 L355.3,326.4 L355.8,326.5 L356.4,326.6 L356.9,326.7 L357.4,326.8 L357.9,327 L358.4,327.1 L358.9,327.3 L359.4,327.5 L359.9,327.6 L360.4,327.8 L361,328 L361.4,328.1 L361.9,328.3 L362.4,328.4 L362.9,328.6 L363.4,328.7 L363.9,328.9 L364.4,329 L364.9,329.2 L365.4,329.3 L365.9,329.5 L366.5,329.6 L367,329.8 L367.5,329.9 L368,330 L368.5,330.1 L369,330.2 L369.4,330.3 L369.9,330.4 L370.4,330.5 L370.8,330.6 L371.3,330.7 L371.8,330.8 L372.3,330.9 L372.8,330.9 L373.3,331 L373.8,331.1 L374.4,331.1 L375,331.2 L375.4,331.2 L375.9,331.3 L376.4,331.3 L376.8,331.3 L377.3,331.4 L377.8,331.4 L378.4,331.4 L378.9,331.4 L379.4,331.5 L379.9,331.5 L380.5,331.5 L381,331.5 L381.5,331.5 L382.1,331.5 L382.6,331.6 L383.1,331.6 L383.6,331.6 L384.1,331.6 L384.5,331.6 L385,331.6 L385.6,331.6 L386.1,331.6 L386.6,331.6 L387.1,331.6 L387.6,331.6 L388.1,331.6 L388.6,331.6 L389.1,331.6 L389.6,331.6 L390.1,331.6 L390.6,331.5 L391,331.5 L391.5,331.5 L392,331.5 L392.5,331.5 L393,331.5 L393.5,331.5 L394.1,331.5 L394.6,331.5 L395.2,331.5 L395.8,331.5 L396.4,331.5 L396.9,331.5 L397.5,331.4 L398.1,331.4 L398.6,331.4 L399.1,331.4 L399.6,331.4 L400,331.4 L400.4,331.4 L400.7,331.4 L401,331.4" fill="none" stroke="#2a1414" stroke-width="5.2" stroke-linejoin="round" opacity="0.8"/><path d="M321.3,330.1 L321.3,328.8 L321.7,327.9 L324.1,330.1 L322.5,325.9 L325.8,329.9 L325.7,328.2 L327.3,330.2 L326.5,325.8 L327.6,326.5 L328.3,325.7 L329.1,326.7 L329.9,326.1 L330.8,325.4 L331.5,328.1 L332.4,325.4 L333.2,325.9 L334,327.4 L334.8,325.8 L335.6,326 L336.4,327.1 L337.1,326 L337.9,324.8 L338.7,326.4 L339.5,326.2 L340.4,329 L341.2,324.9 L342,327.9 L342.7,325.3 L343.6,325.9 L344.4,325.9 L345.2,326.8 L346.1,327.6 L346.9,328.8 L347.6,325.4 L348.5,328.2 L349.2,327.7 L350.1,327.5 L350.9,325.2 L351.8,327.6 L352.6,326.1 L353.4,326.8 L354.2,326 L354.8,327.3 L355.6,328.1 L356.3,328.2 L357.5,326.5 L357.7,328.4 L358.3,329.3 L360.2,326.3 L359.9,329.9 L361.9,326.3 L362,329.1 L362.8,329.4 L363.2,330.9 L364.5,329.5 L365.6,328.7 L366.5,328.4 L367.5,328 L367.5,331 L368.7,329.8 L369.6,329.3 L369.9,331.2 L371,329.5 L371.7,330.1 L372.5,330.2 L372.9,333.4 L373.8,333.2 L375,331 L376.1,329 L376.6,331.7 L377.4,331.5 L378.2,331.9 L379.1,332.3 L380,331 L380.7,332.8 L381.6,332.7 L382.5,331.9 L383.3,331 L384.1,330.9 L384.8,332.6 L385.7,330 L386.5,331.4 L387.3,330.5 L388.1,329.6 L388.9,332.5 L389.7,331.5 L390.5,331.6 L391.3,332.8 L392,329.4 L392.8,331.4 L393.6,331.9 L394.5,332.7 L395.4,329.9 L396.4,332.5 L397.3,331.8 L398.2,333.4 L399,333.1 L399.9,332.2 L400.8,334.5" fill="none" stroke="#141010" stroke-width="0.7" opacity="0.6"/><path d="M320.1,328.9l2,2m0,-2l-2,2M320.3,327.8l2,2m0,-2l-2,2M321.1,327.5l2,2m0,-2l-2,2M321.2,326.2l2,2m0,-2l-2,2M322.8,327.1l2,2m0,-2l-2,2M321.9,323.7l2,2m0,-2l-2,2M324.2,326.2l2,2m0,-2l-2,2M325.3,326.7l2,2m0,-2l-2,2M326.3,327.5l2,2m0,-2l-2,2M326.5,325l2,2m0,-2l-2,2M327.6,328l2,2m0,-2l-2,2M328.1,324.3l2,2m0,-2l-2,2M328.9,325.2l2,2m0,-2l-2,2M329.9,322.1l2,2m0,-2l-2,2M330.6,324.1l2,2m0,-2l-2,2M331.5,324.1l2,2m0,-2l-2,2M332.1,328.2l2,2m0,-2l-2,2M333,326.5l2,2m0,-2l-2,2M333.8,323.6l2,2m0,-2l-2,2M334.6,326.5l2,2m0,-2l-2,2M335.4,326.4l2,2m0,-2l-2,2M336.1,325.1l2,2m0,-2l-2,2M336.9,325.6l2,2m0,-2l-2,2M337.7,325l2,2m0,-2l-2,2M338.5,324.6l2,2m0,-2l-2,2M339.3,322.4l2,2m0,-2l-2,2M340.2,325.3l2,2m0,-2l-2,2M341,327.7l2,2m0,-2l-2,2M341.8,328l2,2m0,-2l-2,2M342.6,324.9l2,2m0,-2l-2,2M343.3,324.1l2,2m0,-2l-2,2M344.2,325l2,2m0,-2l-2,2M345.1,326.9l2,2m0,-2l-2,2M345.9,325.9l2,2m0,-2l-2,2M346.6,324.3l2,2m0,-2l-2,2M347.4,325.9l2,2m0,-2l-2,2M348.2,324.9l2,2m0,-2l-2,2M349.1,326.2l2,2m0,-2l-2,2M349.9,324.6l2,2m0,-2l-2,2M350.8,322.7l2,2m0,-2l-2,2M351.6,325.4l2,2m0,-2l-2,2M352.3,326.6l2,2m0,-2l-2,2M353.3,323.4l2,2m0,-2l-2,2M353.9,325.2l2,2m0,-2l-2,2M354.6,327l2,2m0,-2l-2,2M355.8,325l2,2m0,-2l-2,2M356.7,324.7l2,2m0,-2l-2,2M356,329.4l2,2m0,-2l-2,2M357.5,327.7l2,2m0,-2l-2,2M358.2,328.3l2,2m0,-2l-2,2M360.1,325.3l2,2m0,-2l-2,2M359.5,329.8l2,2m0,-2l-2,2M362.1,324.6l2,2m0,-2l-2,2M362.3,326.7l2,2m0,-2l-2,2M362.4,329.1l2,2m0,-2l-2,2M362.9,330.3l2,2m0,-2l-2,2M364.8,326.8l2,2m0,-2l-2,2M365.5,327.4l2,2m0,-2l-2,2M365.9,329.1l2,2m0,-2l-2,2M367.6,325.7l2,2m0,-2l-2,2M367.3,330.2l2,2m0,-2l-2,2M368.1,330.3l2,2m0,-2l-2,2M369.3,328.7l2,2m0,-2l-2,2M369.7,330.5l2,2m0,-2l-2,2M370.4,331.1l2,2m0,-2l-2,2M371.3,330.4l2,2m0,-2l-2,2M372.1,330.9l2,2m0,-2l-2,2M372.8,332.7l2,2m0,-2l-2,2M374.1,329.4l2,2m0,-2l-2,2M374.9,330.6l2,2m0,-2l-2,2M375.7,329.4l2,2m0,-2l-2,2M376.3,332.2l2,2m0,-2l-2,2M377.3,329.7l2,2m0,-2l-2,2M378.1,331.3l2,2m0,-2l-2,2M378.9,330.7l2,2m0,-2l-2,2M379.8,330.6l2,2m0,-2l-2,2M380.6,333.5l2,2m0,-2l-2,2M381.5,330.4l2,2m0,-2l-2,2M382.2,333l2,2m0,-2l-2,2M383,332l2,2m0,-2l-2,2M383.8,332.9l2,2m0,-2l-2,2M384.7,330.3l2,2m0,-2l-2,2M385.5,332.2l2,2m0,-2l-2,2M386.4,331.9l2,2m0,-2l-2,2M387.1,329.5l2,2m0,-2l-2,2M387.9,331.1l2,2m0,-2l-2,2M388.7,330.3l2,2m0,-2l-2,2M389.5,330.5l2,2m0,-2l-2,2M390.3,332.8l2,2m0,-2l-2,2M391,329.3l2,2m0,-2l-2,2M391.8,327.6l2,2m0,-2l-2,2M392.6,327.5l2,2m0,-2l-2,2M393.5,329.7l2,2m0,-2l-2,2M394.4,329.3l2,2m0,-2l-2,2M395.4,330.5l2,2m0,-2l-2,2M396.3,331.4l2,2m0,-2l-2,2M397.2,333.5l2,2m0,-2l-2,2M398,331l2,2m0,-2l-2,2M398.9,331.2l2,2m0,-2l-2,2M399.8,329.1l2,2m0,-2l-2,2" fill="none" stroke="#111" stroke-width="0.7" opacity="0.85"/><path d="M316.8,333.5 L317.3,333 L318.1,332.3 L319,331.6 L320,330.7 L321,330 L321.9,329.4 L322.8,328.8 L323.8,328.1 L324.9,327.6 L325.9,327.1 L327,326.7 L327.9,326.5 L328.9,326.4 L329.9,326.4 L330.9,326.5 L332,326.5 L333,326.6 L334,326.6 L335,326.6 L336,326.6 L336.9,326.6 L337.9,326.5 L338.9,326.5 L339.9,326.5 L341,326.5 L342,326.5 L343,326.4 L344,326.4 L345,326.4 L346,326.4 L347.1,326.3 L348.1,326.3 L349,326.3 L350.2,326.3 L351.4,326.3 L352.6,326.3 L353.7,326.3 L354.8,326.4 L355.8,326.5 L356.9,326.7 L357.9,327 L358.9,327.3 L359.9,327.6 L361,328 L361.9,328.3 L362.9,328.6 L363.9,328.9 L364.9,329.2 L365.9,329.5 L367,329.8 L368,330 L369,330.2 L369.9,330.4 L370.8,330.6 L371.8,330.8 L372.8,330.9 L373.8,331.1 L375,331.2 L375.9,331.3 L376.8,331.3 L377.8,331.4 L378.9,331.4 L379.9,331.5 L381,331.5 L382.1,331.5 L383.1,331.6 L384.1,331.6 L385,331.6 L386.1,331.6 L387.1,331.6 L388.1,331.6 L389.1,331.6 L390.1,331.6 L391,331.5 L392,331.5 L393,331.5 L394.1,331.5 L395.2,331.5 L396.4,331.5 L397.5,331.4 L398.6,331.4 L399.6,331.4 L400.4,331.4 L401,331.4" fill="none" stroke="#a41c1c" stroke-width="1.3" stroke-linejoin="round"/>
<text x="357.5" y="278.6" font-size="7.3" font-weight="bold" fill="#444">EuCu3</text>
<text x="386.7" y="279" font-size="8" fill="#3a3a3a" font-style="italic">E</text>
<text x="391.8" y="281.8" font-size="5.4" fill="#3a3a3a" font-weight="bold">g</text>
<text x="376.2" y="300.4" font-size="7" font-weight="bold" fill="#d85050">290 K</text>
<path d="M316.6,334.9v-2.6 M316.6,255.6v2.6 M321.9,334.9v-1.5 M321.9,255.6v1.5 M327.1,334.9v-1.5 M327.1,255.6v1.5 M332.4,334.9v-1.5 M332.4,255.6v1.5 M337.6,334.9v-2.6 M337.6,255.6v2.6 M342.9,334.9v-1.5 M342.9,255.6v1.5 M348.1,334.9v-1.5 M348.1,255.6v1.5 M353.4,334.9v-1.5 M353.4,255.6v1.5 M358.6,334.9v-2.6 M358.6,255.6v2.6 M363.9,334.9v-1.5 M363.9,255.6v1.5 M369.1,334.9v-1.5 M369.1,255.6v1.5 M374.4,334.9v-1.5 M374.4,255.6v1.5 M379.7,334.9v-2.6 M379.7,255.6v2.6 M384.9,334.9v-1.5 M384.9,255.6v1.5 M390.2,334.9v-1.5 M390.2,255.6v1.5 M395.4,334.9v-1.5 M395.4,255.6v1.5 M400.7,334.9v-2.6 M400.7,255.6v2.6 M316.6,311.8h2.6 M401.2,311.8h-2.6 M316.6,288.7h2.6 M401.2,288.7h-2.6 M316.6,265.6h2.6 M401.2,265.6h-2.6 " stroke="#555" stroke-width="0.7" fill="none"/>
<path d="M405.8,328.1 L406.2,327.7 L406.6,327.3 L406.9,326.9 L407.3,326.5 L407.7,326.2 L408.1,325.8 L408.5,325.5 L408.9,325.1 L409.4,324.8 L409.8,324.4 L410.2,324.1 L410.7,323.8 L411.1,323.5 L411.5,323.3 L412,323.2 L412.4,323.2 L412.8,323.2 L413.2,323.3 L413.7,323.4 L414.1,323.6 L414.6,323.8 L415.3,324 L416,324.2 L416.4,324.3 L416.8,324.4 L417.2,324.5 L417.6,324.6 L418.1,324.7 L418.6,324.8 L419.1,324.9 L419.6,325 L420.1,325.1 L420.7,325.2 L421.2,325.3 L421.7,325.4 L422.3,325.5 L422.8,325.6 L423.4,325.7 L423.9,325.8 L424.5,325.9 L425,326 L425.5,326.1 L426,326.2 L426.4,326.2 L426.9,326.3 L427.4,326.4 L427.9,326.5 L428.4,326.5 L428.9,326.6 L429.4,326.7 L429.9,326.7 L430.4,326.8 L431,326.9 L431.5,326.9 L432,327 L432.5,327.1 L433,327.1 L433.5,327.2 L434,327.3 L434.5,327.3 L435,327.4 L435.5,327.5 L436,327.5 L436.5,327.6 L437,327.6 L437.5,327.7 L438,327.8 L438.5,327.8 L439,327.9 L439.5,327.9 L440,328 L440.5,328 L441,328.1 L441.5,328.1 L442,328.2 L442.5,328.3 L443,328.3 L443.5,328.4 L444,328.4 L444.5,328.5 L445,328.5 L445.5,328.5 L446,328.6 L446.5,328.6 L447,328.7 L447.5,328.7 L448,328.8 L448.5,328.8 L449,328.8 L449.5,328.9 L450,328.9 L450.5,329 L451,329 L451.5,329 L452,329.1 L452.5,329.1 L453,329.2 L453.5,329.2 L454,329.2 L454.5,329.3 L455,329.3 L455.5,329.3 L456,329.4 L456.5,329.4 L457,329.4 L457.5,329.5 L458,329.5 L458.5,329.6 L459,329.6 L459.5,329.6 L460,329.7 L460.5,329.7 L461,329.7 L461.5,329.8 L462,329.8 L462.5,329.8 L463,329.9 L463.5,329.9 L464,329.9 L464.5,330 L465,330 L465.5,330 L466,330.1 L466.5,330.1 L467,330.1 L467.5,330.2 L468,330.2 L468.5,330.2 L468.9,330.3 L469.4,330.3 L469.9,330.3 L470.4,330.3 L470.9,330.4 L471.4,330.4 L471.9,330.4 L472.4,330.5 L472.9,330.5 L473.4,330.5 L474,330.5 L474.5,330.6 L475,330.6 L475.5,330.6 L476,330.6 L476.6,330.7 L477.1,330.7 L477.7,330.7 L478.3,330.7 L478.9,330.8 L479.5,330.8 L480,330.8 L480.6,330.8 L481.2,330.8 L481.8,330.9 L482.4,330.9 L482.9,330.9 L483.4,330.9 L483.9,330.9 L484.4,330.9 L484.8,331 L485.2,331 L485.6,331 L485.9,331 L486.2,331" fill="none" stroke="#2a1414" stroke-width="5.2" stroke-linejoin="round" opacity="0.8"/><path d="M406.3,328.7 L407.7,328.8 L408.2,328.3 L405.6,324.4 L408.9,326.8 L410.1,327 L410.1,325.6 L408.8,322.6 L410.5,323.3 L411.7,324.1 L412.2,323.7 L413.2,322.1 L414.2,322.3 L414.2,325.1 L415.9,322.3 L415.7,326.2 L416.9,324.4 L417.7,325 L419,322.9 L419.6,324.1 L420,326 L421.5,323.3 L421.4,328.3 L423.2,323.7 L424,324.1 L424.6,326 L425.3,326.7 L426,327.2 L427,325.8 L427.8,326.1 L428.6,326.2 L429.4,325.9 L430.6,323.2 L430.8,328.2 L431.7,327.3 L432.6,327.3 L433.5,326.3 L434.2,327.6 L435,327.4 L435.8,327.4 L436.4,329.1 L437.7,325.3 L438.2,328.1 L439.2,326.4 L439.8,327.5 L440.4,330.1 L441.6,326.6 L442.2,328.1 L443.1,327.5 L443.7,329.7 L444.7,327.1 L445.6,326.2 L446.1,329.3 L447,328.2 L447.8,328.3 L448.5,330.3 L449.5,327.7 L450.2,328.4 L451,329.2 L451.8,329.6 L452.7,328.4 L453.3,330.6 L454,332.3 L455,328.7 L455.6,331.9 L456.8,326.5 L457.3,331.4 L458.2,329.1 L459,329.8 L459.8,329.2 L460.7,328.8 L461.5,328 L462.2,329.3 L462.9,331.7 L463.7,331.5 L464.6,329.5 L465.4,329.3 L466.3,329.1 L467.1,328.5 L467.6,332.7 L468.5,331.1 L469.3,330.4 L470.2,329.7 L471,329 L471.6,332.2 L472.5,331.6 L473.4,329.2 L474.1,331.9 L475.1,329.1 L475.8,331.5 L476.7,329.3 L477.5,330.1 L478.4,331.4 L479.3,331.4 L480.3,332.2 L481.3,329.7 L482,333 L482.9,332.8 L483.8,330.9 L484.7,331.6 L485.5,329.9" fill="none" stroke="#141010" stroke-width="0.7" opacity="0.6"/><path d="M404.5,327l2,2m0,-2l-2,2M403.7,325l2,2m0,-2l-2,2M406,326.1l2,2m0,-2l-2,2M406.7,325.6l2,2m0,-2l-2,2M408.6,326.6l2,2m0,-2l-2,2M408.7,325.6l2,2m0,-2l-2,2M409.3,324.8l2,2m0,-2l-2,2M408.7,322.7l2,2m0,-2l-2,2M409.5,322.4l2,2m0,-2l-2,2M410.2,321.8l2,2m0,-2l-2,2M411.2,322.6l2,2m0,-2l-2,2M412.7,319l2,2m0,-2l-2,2M412.4,323.8l2,2m0,-2l-2,2M414.5,320.3l2,2m0,-2l-2,2M414.6,322.2l2,2m0,-2l-2,2M415.1,323.3l2,2m0,-2l-2,2M416.1,322.5l2,2m0,-2l-2,2M416.2,326.4l2,2m0,-2l-2,2M417.6,323.6l2,2m0,-2l-2,2M417.8,326.6l2,2m0,-2l-2,2M418.8,326.1l2,2m0,-2l-2,2M420.3,323.4l2,2m0,-2l-2,2M420.8,325.1l2,2m0,-2l-2,2M421.4,326.8l2,2m0,-2l-2,2M422.8,324.2l2,2m0,-2l-2,2M423.5,325.1l2,2m0,-2l-2,2M424.5,324.1l2,2m0,-2l-2,2M425.1,325.3l2,2m0,-2l-2,2M426,324.7l2,2m0,-2l-2,2M426.7,325.6l2,2m0,-2l-2,2M427.3,327.3l2,2m0,-2l-2,2M428,328l2,2m0,-2l-2,2M429.1,326l2,2m0,-2l-2,2M429.9,326.2l2,2m0,-2l-2,2M430.6,327.5l2,2m0,-2l-2,2M431.6,325.6l2,2m0,-2l-2,2M432.6,324.4l2,2m0,-2l-2,2M433,328.2l2,2m0,-2l-2,2M434.2,324.8l2,2m0,-2l-2,2M434.6,328.1l2,2m0,-2l-2,2M435.8,324.9l2,2m0,-2l-2,2M436,329.8l2,2m0,-2l-2,2M437.4,325l2,2m0,-2l-2,2M437.8,328.3l2,2m0,-2l-2,2M438.5,329.5l2,2m0,-2l-2,2M439.8,325.4l2,2m0,-2l-2,2M440.1,329.7l2,2m0,-2l-2,2M441.3,325.8l2,2m0,-2l-2,2M442.3,324.3l2,2m0,-2l-2,2M442.7,328.6l2,2m0,-2l-2,2M443.5,328.7l2,2m0,-2l-2,2M444.4,327.2l2,2m0,-2l-2,2M445.6,323.3l2,2m0,-2l-2,2M446,327.6l2,2m0,-2l-2,2M446.8,327.2l2,2m0,-2l-2,2M447.7,327.2l2,2m0,-2l-2,2M448.4,327.4l2,2m0,-2l-2,2M449.4,324.9l2,2m0,-2l-2,2M450.1,327l2,2m0,-2l-2,2M450.6,331.2l2,2m0,-2l-2,2M451.4,330.8l2,2m0,-2l-2,2M452.4,327.6l2,2m0,-2l-2,2M453.3,327l2,2m0,-2l-2,2M453.9,329l2,2m0,-2l-2,2M454.7,330.2l2,2m0,-2l-2,2M455.5,329.7l2,2m0,-2l-2,2M456.5,326.5l2,2m0,-2l-2,2M457.2,328.8l2,2m0,-2l-2,2M458,328.8l2,2m0,-2l-2,2M458.6,331.1l2,2m0,-2l-2,2M459.5,330.8l2,2m0,-2l-2,2M460.3,329.7l2,2m0,-2l-2,2M461.1,330.9l2,2m0,-2l-2,2M462,328.2l2,2m0,-2l-2,2M462.6,331.6l2,2m0,-2l-2,2M463.6,328.2l2,2m0,-2l-2,2M464.4,329.7l2,2m0,-2l-2,2M465.1,330.7l2,2m0,-2l-2,2M466.1,327.6l2,2m0,-2l-2,2M466.8,328l2,2m0,-2l-2,2M467.7,326.2l2,2m0,-2l-2,2M468.3,329.6l2,2m0,-2l-2,2M469.1,329.2l2,2m0,-2l-2,2M469.9,328.8l2,2m0,-2l-2,2M470.7,330.3l2,2m0,-2l-2,2M471.7,325.8l2,2m0,-2l-2,2M472.3,329.5l2,2m0,-2l-2,2M473.2,329.7l2,2m0,-2l-2,2M474,329.1l2,2m0,-2l-2,2M474.7,331l2,2m0,-2l-2,2M475.5,332.7l2,2m0,-2l-2,2M476.6,328.9l2,2m0,-2l-2,2M477.5,328.1l2,2m0,-2l-2,2M478.4,328.7l2,2m0,-2l-2,2M479.3,330l2,2m0,-2l-2,2M480.2,330.8l2,2m0,-2l-2,2M481.2,328.4l2,2m0,-2l-2,2M481.9,331.6l2,2m0,-2l-2,2M482.8,328.2l2,2m0,-2l-2,2M483.6,331.4l2,2m0,-2l-2,2M484.4,330.7l2,2m0,-2l-2,2" fill="none" stroke="#111" stroke-width="0.7" opacity="0.85"/><path d="M401.4,333.8 L401.8,333.3 L402.3,332.5 L403,331.6 L403.7,330.7 L404.4,329.8 L405,329 L405.9,328 L406.8,327.1 L407.6,326.3 L408.5,325.5 L409.4,324.8 L410.2,324.1 L411.1,323.5 L412,323.2 L412.8,323.2 L413.7,323.4 L414.6,323.8 L416,324.2 L416.8,324.4 L417.6,324.6 L418.6,324.8 L419.6,325 L420.7,325.2 L421.7,325.4 L422.8,325.6 L423.9,325.8 L425,326 L426,326.2 L426.9,326.3 L427.9,326.5 L428.9,326.6 L429.9,326.7 L431,326.9 L432,327 L433,327.1 L434,327.3 L435,327.4 L436,327.5 L437,327.6 L438,327.8 L439,327.9 L440,328 L441,328.1 L442,328.2 L443,328.3 L444,328.4 L445,328.5 L446,328.6 L447,328.7 L448,328.8 L449,328.8 L450,328.9 L451,329 L452,329.1 L453,329.2 L454,329.2 L455,329.3 L456,329.4 L457,329.4 L458,329.5 L459,329.6 L460,329.7 L461,329.7 L462,329.8 L463,329.9 L464,329.9 L465,330 L466,330.1 L467,330.1 L468,330.2 L468.9,330.3 L469.9,330.3 L470.9,330.4 L471.9,330.4 L472.9,330.5 L474,330.5 L475,330.6 L476,330.6 L477.1,330.7 L478.3,330.7 L479.5,330.8 L480.6,330.8 L481.8,330.9 L482.9,330.9 L483.9,330.9 L484.8,331 L485.6,331 L486.2,331" fill="none" stroke="#a41c1c" stroke-width="1.3" stroke-linejoin="round"/>
<text x="442.7" y="278.6" font-size="7.3" font-weight="bold" fill="#444">EuCu3</text>
<text x="471.9" y="279" font-size="8" fill="#3a3a3a" font-style="italic">E</text>
<text x="477" y="281.8" font-size="5.4" fill="#3a3a3a" font-weight="bold">g</text>
<text x="461.4" y="300.4" font-size="7" font-weight="bold" fill="#d85050">200 K</text>
<path d="M401.2,334.9v-2.6 M401.2,255.6v2.6 M406.5,334.9v-1.5 M406.5,255.6v1.5 M411.8,334.9v-1.5 M411.8,255.6v1.5 M417.1,334.9v-1.5 M417.1,255.6v1.5 M422.4,334.9v-2.6 M422.4,255.6v2.6 M427.7,334.9v-1.5 M427.7,255.6v1.5 M433,334.9v-1.5 M433,255.6v1.5 M438.2,334.9v-1.5 M438.2,255.6v1.5 M443.5,334.9v-2.6 M443.5,255.6v2.6 M448.8,334.9v-1.5 M448.8,255.6v1.5 M454.1,334.9v-1.5 M454.1,255.6v1.5 M459.4,334.9v-1.5 M459.4,255.6v1.5 M464.7,334.9v-2.6 M464.7,255.6v2.6 M470,334.9v-1.5 M470,255.6v1.5 M475.3,334.9v-1.5 M475.3,255.6v1.5 M480.6,334.9v-1.5 M480.6,255.6v1.5 M485.9,334.9v-2.6 M485.9,255.6v2.6 M401.2,311.8h2.6 M486.4,311.8h-2.6 M401.2,288.7h2.6 M486.4,288.7h-2.6 M401.2,265.6h2.6 M486.4,265.6h-2.6 " stroke="#555" stroke-width="0.7" fill="none"/>
<path d="M490.9,327 L491.2,326.6 L491.5,326.1 L491.8,325.6 L492.1,325.2 L492.4,324.8 L492.7,324.4 L493,324 L493.4,323.5 L493.8,323 L494.2,322.5 L494.6,322.1 L495.1,321.8 L495.5,321.5 L496,321.4 L496.4,321.4 L496.9,321.5 L497.4,321.6 L497.9,321.8 L498.4,322.1 L498.9,322.3 L499.4,322.6 L500,322.8 L500.5,323 L500.9,323.1 L501.4,323.3 L501.9,323.5 L502.4,323.6 L502.9,323.8 L503.4,324 L503.9,324.2 L504.5,324.3 L505,324.5 L505.5,324.6 L505.9,324.8 L506.4,324.9 L506.9,325 L507.4,325.1 L507.9,325.3 L508.4,325.4 L509,325.5 L509.5,325.6 L510,325.8 L510.5,325.9 L511,326 L511.5,326.1 L511.9,326.2 L512.4,326.3 L512.8,326.5 L513.2,326.6 L513.7,326.7 L514.1,326.8 L514.6,326.9 L515.1,327 L515.7,327.1 L516.3,327.2 L517,327.3 L517.4,327.4 L517.8,327.4 L518.2,327.5 L518.7,327.5 L519.1,327.6 L519.6,327.6 L520.1,327.7 L520.6,327.7 L521.1,327.7 L521.6,327.8 L522.1,327.8 L522.7,327.9 L523.2,327.9 L523.7,328 L524.3,328 L524.8,328.1 L525.3,328.1 L525.9,328.1 L526.4,328.2 L526.9,328.2 L527.5,328.3 L528,328.3 L528.5,328.3 L529,328.4 L529.4,328.4 L529.9,328.4 L530.4,328.5 L530.9,328.5 L531.3,328.5 L531.8,328.6 L532.3,328.6 L532.8,328.6 L533.3,328.6 L533.8,328.7 L534.2,328.7 L534.7,328.7 L535.2,328.8 L535.7,328.8 L536.3,328.8 L536.8,328.8 L537.3,328.9 L537.8,328.9 L538.3,328.9 L538.9,328.9 L539.4,329 L540,329 L540.5,329 L540.9,329 L541.4,329.1 L541.8,329.1 L542.3,329.1 L542.8,329.1 L543.3,329.2 L543.8,329.2 L544.3,329.2 L544.8,329.2 L545.3,329.2 L545.8,329.3 L546.3,329.3 L546.8,329.3 L547.3,329.3 L547.8,329.3 L548.3,329.4 L548.8,329.4 L549.3,329.4 L549.9,329.4 L550.4,329.4 L550.9,329.5 L551.4,329.5 L551.9,329.5 L552.4,329.5 L553,329.5 L553.5,329.5 L554,329.6 L554.5,329.6 L555,329.6 L555.5,329.6 L556,329.6 L556.6,329.6 L557.2,329.7 L557.7,329.7 L558.3,329.7 L558.9,329.7 L559.5,329.7 L560.1,329.7 L560.7,329.8 L561.3,329.8 L561.9,329.8 L562.5,329.8 L563.1,329.8 L563.6,329.8 L564.2,329.9 L564.8,329.9 L565.3,329.9 L565.9,329.9 L566.4,329.9 L566.9,329.9 L567.4,329.9 L567.9,329.9 L568.3,329.9 L568.7,330 L569.1,330 L569.5,330 L569.8,330 L570.1,330 L570.4,330" fill="none" stroke="#2a1414" stroke-width="5.2" stroke-linejoin="round" opacity="0.8"/><path d="M491.5,327.4 L493.9,327.9 L491.5,325.5 L492,324.9 L493.3,324.7 L494.2,324.4 L492.5,321.7 L494.8,322.5 L494.6,320.9 L496.1,322.3 L496.5,323.3 L497.6,321.8 L498.4,321.9 L499.1,322.7 L501.5,319 L500.5,324.1 L501.4,324.1 L502.3,323.9 L503.3,323.4 L504.3,323.2 L504.9,324.2 L505.1,326.3 L506.4,324.7 L506.7,326.9 L508.8,321.8 L508.9,324.9 L509.5,326 L510.4,325.8 L511.7,323.8 L512.2,325.3 L512.4,328.1 L514.1,324.9 L514.7,325.5 L515.5,325.5 L516.3,326.4 L516.9,328.2 L517.7,328.2 L519,324.7 L519.4,329.6 L520.5,326.9 L521.3,326.9 L521.8,330.1 L522.9,327.8 L523.9,326.3 L524.6,327.2 L525.5,327.1 L526.4,326.8 L527.2,327.8 L527.9,329.5 L528.7,328.8 L529.7,326.5 L530,332.3 L531.1,327.1 L531.8,328.7 L532.6,328.6 L533.3,329.7 L534.2,328.2 L534.9,329.4 L535.6,331.7 L536.6,329 L537.5,327.4 L538.2,329.4 L539.2,327.8 L540,328.5 L540.9,329.3 L541.8,329.6 L542.6,328.7 L543.3,330.3 L544.2,328.9 L545,327.4 L545.7,330.5 L546.6,328.8 L547.3,331 L548.2,328.5 L549,330.2 L549.8,329.9 L550.8,325.7 L551.6,327.4 L552.4,328 L553.1,331.5 L554.1,327 L554.8,330.9 L555.6,331.1 L556.4,330.3 L557.3,330.6 L558.2,329 L559.1,329.7 L560,330.1 L561,330.4 L561.9,330.8 L562.8,329.5 L563.8,328.9 L564.7,329.1 L565.5,330.5 L566.4,327.6 L567.2,328.2 L568,329.4 L568.9,329.2 L569.7,329.6" fill="none" stroke="#141010" stroke-width="0.7" opacity="0.6"/><path d="M486,323.6l2,2m0,-2l-2,2M489.9,325l2,2m0,-2l-2,2M490.4,324.4l2,2m0,-2l-2,2M492.3,324.8l2,2m0,-2l-2,2M489.1,321.2l2,2m0,-2l-2,2M491.9,322.3l2,2m0,-2l-2,2M493.5,322.4l2,2m0,-2l-2,2M494.1,321.9l2,2m0,-2l-2,2M495.2,322.5l2,2m0,-2l-2,2M495.3,322.2l2,2m0,-2l-2,2M496.2,318.7l2,2m0,-2l-2,2M496.2,321.7l2,2m0,-2l-2,2M497.6,320.5l2,2m0,-2l-2,2M498.7,320.2l2,2m0,-2l-2,2M498.1,324.3l2,2m0,-2l-2,2M500.2,321.1l2,2m0,-2l-2,2M501.1,321l2,2m0,-2l-2,2M501.6,322l2,2m0,-2l-2,2M502.6,321.5l2,2m0,-2l-2,2M502.4,324.8l2,2m0,-2l-2,2M503.6,324.1l2,2m0,-2l-2,2M503.9,326l2,2m0,-2l-2,2M505.1,324.6l2,2m0,-2l-2,2M506.4,323l2,2m0,-2l-2,2M506.5,326l2,2m0,-2l-2,2M508,323.4l2,2m0,-2l-2,2M508.8,323.9l2,2m0,-2l-2,2M509.5,324.6l2,2m0,-2l-2,2M510.2,325.1l2,2m0,-2l-2,2M510.4,327.2l2,2m0,-2l-2,2M512.1,324.4l2,2m0,-2l-2,2M512.5,326.3l2,2m0,-2l-2,2M513.4,325.8l2,2m0,-2l-2,2M514.7,323.9l2,2m0,-2l-2,2M515.5,324.3l2,2m0,-2l-2,2M516.1,325.9l2,2m0,-2l-2,2M516.7,327.1l2,2m0,-2l-2,2M517.6,327.1l2,2m0,-2l-2,2M518.5,327.4l2,2m0,-2l-2,2M519.4,326.8l2,2m0,-2l-2,2M520.3,326l2,2m0,-2l-2,2M521,327.6l2,2m0,-2l-2,2M522,325.2l2,2m0,-2l-2,2M522.9,324.7l2,2m0,-2l-2,2M523.6,326.5l2,2m0,-2l-2,2M524.6,324.6l2,2m0,-2l-2,2M525.4,326.3l2,2m0,-2l-2,2M526.3,325.9l2,2m0,-2l-2,2M527.1,326.3l2,2m0,-2l-2,2M527.8,327.3l2,2m0,-2l-2,2M528.6,326l2,2m0,-2l-2,2M529.3,326.7l2,2m0,-2l-2,2M530.2,324.6l2,2m0,-2l-2,2M530.8,327.8l2,2m0,-2l-2,2M531.7,326.1l2,2m0,-2l-2,2M532.3,328.4l2,2m0,-2l-2,2M533.4,322.8l2,2m0,-2l-2,2M534,326.4l2,2m0,-2l-2,2M534.7,328.2l2,2m0,-2l-2,2M535.8,323.6l2,2m0,-2l-2,2M536.4,327.2l2,2m0,-2l-2,2M537.2,328.1l2,2m0,-2l-2,2M538.1,328.1l2,2m0,-2l-2,2M539.1,325.4l2,2m0,-2l-2,2M539.9,328.4l2,2m0,-2l-2,2M540.8,328.3l2,2m0,-2l-2,2M541.7,326.4l2,2m0,-2l-2,2M542.3,329.4l2,2m0,-2l-2,2M543.2,328.1l2,2m0,-2l-2,2M544,328.3l2,2m0,-2l-2,2M544.8,327.5l2,2m0,-2l-2,2M545.5,329.2l2,2m0,-2l-2,2M546.4,328.5l2,2m0,-2l-2,2M547.1,330.3l2,2m0,-2l-2,2M548,329.2l2,2m0,-2l-2,2M548.9,327.3l2,2m0,-2l-2,2M549.7,328.1l2,2m0,-2l-2,2M550.5,330.1l2,2m0,-2l-2,2M551.4,327.9l2,2m0,-2l-2,2M552.1,329.2l2,2m0,-2l-2,2M553,329.5l2,2m0,-2l-2,2M553.8,328.3l2,2m0,-2l-2,2M554.7,324.6l2,2m0,-2l-2,2M555.4,328.9l2,2m0,-2l-2,2M556.3,329l2,2m0,-2l-2,2M557.2,328.9l2,2m0,-2l-2,2M558.2,327.4l2,2m0,-2l-2,2M559,330.8l2,2m0,-2l-2,2M560,328.5l2,2m0,-2l-2,2M560.9,327.7l2,2m0,-2l-2,2M561.9,327.6l2,2m0,-2l-2,2M562.7,329.5l2,2m0,-2l-2,2M563.7,327l2,2m0,-2l-2,2M564.5,327.1l2,2m0,-2l-2,2M565.2,332.4l2,2m0,-2l-2,2M566.1,331.2l2,2m0,-2l-2,2M567,330.8l2,2m0,-2l-2,2M567.8,331.3l2,2m0,-2l-2,2M568.7,330l2,2m0,-2l-2,2" fill="none" stroke="#111" stroke-width="0.7" opacity="0.85"/><path d="M486.6,333.8 L487,333.2 L487.5,332.4 L488.1,331.4 L488.8,330.4 L489.4,329.4 L490,328.5 L490.6,327.5 L491.2,326.6 L491.8,325.6 L492.4,324.8 L493,324 L494,322.8 L494.9,321.9 L496,321.4 L496.9,321.5 L497.9,321.8 L498.9,322.3 L500,322.8 L500.9,323.1 L501.9,323.5 L502.9,323.8 L503.9,324.2 L505,324.5 L505.9,324.8 L506.9,325 L507.9,325.3 L509,325.5 L510,325.8 L511,326 L511.9,326.2 L512.8,326.5 L513.7,326.7 L514.6,326.9 L515.7,327.1 L517,327.3 L517.8,327.4 L518.7,327.5 L519.6,327.6 L520.6,327.7 L521.6,327.8 L522.7,327.9 L523.7,328 L524.8,328.1 L525.9,328.1 L526.9,328.2 L528,328.3 L529,328.4 L529.9,328.4 L530.9,328.5 L531.8,328.6 L532.8,328.6 L533.8,328.7 L534.7,328.7 L535.7,328.8 L536.8,328.8 L537.8,328.9 L538.9,328.9 L540,329 L540.9,329 L541.8,329.1 L542.8,329.1 L543.8,329.2 L544.8,329.2 L545.8,329.3 L546.8,329.3 L547.8,329.3 L548.8,329.4 L549.9,329.4 L550.9,329.5 L551.9,329.5 L553,329.5 L554,329.6 L555,329.6 L556,329.6 L557.2,329.7 L558.3,329.7 L559.5,329.7 L560.7,329.8 L561.9,329.8 L563.1,329.8 L564.2,329.9 L565.3,329.9 L566.4,329.9 L567.4,329.9 L568.3,329.9 L569.1,330 L569.8,330 L570.4,330" fill="none" stroke="#a41c1c" stroke-width="1.3" stroke-linejoin="round"/>
<text x="526.9" y="278.6" font-size="7.3" font-weight="bold" fill="#444">EuCu3</text>
<text x="556.1" y="279" font-size="8" fill="#3a3a3a" font-style="italic">E</text>
<text x="561.2" y="281.8" font-size="5.4" fill="#3a3a3a" font-weight="bold">g</text>
<text x="545.6" y="300.4" font-size="7" font-weight="bold" fill="#d85050">150 K</text>
<path d="M486.4,334.9v-2.6 M486.4,255.6v2.6 M491.6,334.9v-1.5 M491.6,255.6v1.5 M496.9,334.9v-1.5 M496.9,255.6v1.5 M502.1,334.9v-1.5 M502.1,255.6v1.5 M507.3,334.9v-2.6 M507.3,255.6v2.6 M512.5,334.9v-1.5 M512.5,255.6v1.5 M517.8,334.9v-1.5 M517.8,255.6v1.5 M523,334.9v-1.5 M523,255.6v1.5 M528.2,334.9v-2.6 M528.2,255.6v2.6 M533.5,334.9v-1.5 M533.5,255.6v1.5 M538.7,334.9v-1.5 M538.7,255.6v1.5 M543.9,334.9v-1.5 M543.9,255.6v1.5 M549.2,334.9v-2.6 M549.2,255.6v2.6 M554.4,334.9v-1.5 M554.4,255.6v1.5 M559.6,334.9v-1.5 M559.6,255.6v1.5 M564.8,334.9v-1.5 M564.8,255.6v1.5 M570.1,334.9v-2.6 M570.1,255.6v2.6 M486.4,311.8h2.6 M570.6,311.8h-2.6 M486.4,288.7h2.6 M570.6,288.7h-2.6 M486.4,265.6h2.6 M570.6,265.6h-2.6 " stroke="#555" stroke-width="0.7" fill="none"/>
<path d="M575.2,316.4 L575.4,315.8 L575.6,315.3 L575.7,314.8 L575.9,314.2 L576.1,313.7 L576.3,313.2 L576.4,312.7 L576.6,312.2 L576.8,311.7 L576.9,311.3 L577.1,310.9 L577.2,310.5 L577.4,310.1 L577.7,309.4 L578,308.7 L578.3,308 L578.6,307.5 L578.9,307 L579.1,306.6 L579.4,306.3 L579.8,306 L580.1,305.9 L580.5,305.9 L580.8,306 L581.2,306.2 L581.6,306.5 L582.1,306.8 L582.5,307.2 L582.9,307.7 L583.4,308.1 L583.8,308.6 L584.1,308.9 L584.4,309.3 L584.7,309.7 L585,310.1 L585.3,310.5 L585.6,311 L585.9,311.4 L586.2,311.9 L586.6,312.3 L586.9,312.8 L587.2,313.2 L587.4,313.6 L587.7,314 L588,314.4 L588.4,314.9 L588.7,315.3 L589,315.8 L589.3,316.2 L589.5,316.6 L589.8,317 L590.1,317.3 L590.4,317.7 L590.8,318.2 L591.2,318.6 L591.5,318.9 L591.8,319.3 L592.2,319.6 L592.6,320 L592.9,320.4 L593.3,320.7 L593.7,321.1 L594.1,321.5 L594.5,321.8 L594.9,322.2 L595.3,322.5 L595.7,322.8 L596.1,323.1 L596.5,323.4 L597,323.7 L597.5,324 L597.9,324.3 L598.4,324.6 L598.9,324.8 L599.4,325.1 L599.9,325.3 L600.4,325.5 L600.8,325.7 L601.3,325.9 L601.8,326.1 L602.3,326.3 L602.8,326.5 L603.4,326.7 L603.9,326.8 L604.4,326.9 L604.9,327.1 L605.4,327.2 L605.9,327.3 L606.5,327.5 L607,327.6 L607.5,327.7 L607.9,327.8 L608.3,327.9 L608.7,328 L609.1,328.1 L609.6,328.2 L610,328.3 L610.5,328.4 L611.1,328.5 L611.7,328.6 L612.4,328.7 L612.8,328.8 L613.2,328.8 L613.6,328.9 L614,328.9 L614.5,329 L614.9,329 L615.4,329.1 L615.9,329.1 L616.3,329.2 L616.8,329.3 L617.4,329.3 L617.9,329.4 L618.4,329.4 L618.9,329.5 L619.5,329.5 L620.1,329.6 L620.6,329.6 L621.2,329.7 L621.8,329.7 L622.4,329.8 L623,329.8 L623.4,329.8 L623.9,329.9 L624.3,329.9 L624.8,329.9 L625.2,329.9 L625.7,329.9 L626.2,330 L626.6,330 L627.1,330 L627.6,330 L628.1,330 L628.6,330.1 L629.1,330.1 L629.6,330.1 L630.1,330.1 L630.6,330.1 L631.2,330.1 L631.7,330.2 L632.2,330.2 L632.7,330.2 L633.3,330.2 L633.8,330.2 L634.3,330.2 L634.8,330.2 L635.4,330.2 L635.9,330.3 L636.4,330.3 L636.9,330.3 L637.5,330.3 L638,330.3 L638.5,330.3 L639,330.3 L639.5,330.3 L640,330.3 L640.6,330.3 L641.1,330.4 L641.7,330.4 L642.3,330.4 L642.8,330.4 L643.4,330.4 L644,330.4 L644.6,330.4 L645.2,330.4 L645.7,330.4 L646.3,330.4 L646.9,330.4 L647.5,330.4 L648,330.4 L648.6,330.4 L649.1,330.4 L649.7,330.5 L650.2,330.5 L650.7,330.5 L651.1,330.5 L651.6,330.5 L652.1,330.5 L652.5,330.5 L652.9,330.5 L653.3,330.5 L653.6,330.5 L653.9,330.5 L654.2,330.5 L654.5,330.5" fill="none" stroke="#2a1414" stroke-width="5.2" stroke-linejoin="round" opacity="0.8"/><path d="M572.9,316 L577,316.3 L577.3,315.5 L576.6,314.3 L573.6,312.4 L578.1,313.1 L578.6,312.4 L576.4,310.8 L577.5,310.3 L578.6,310 L577.9,308.7 L579.7,308.7 L578.8,307.3 L579.9,307.2 L579.8,306.2 L580.8,303.8 L582.1,305.1 L579.1,310.1 L582.5,307.7 L581.9,309.3 L582.6,309.7 L582.5,310.8 L584.2,310.4 L586,310.1 L585.8,311.3 L588.6,310.5 L587.1,312.6 L586.3,314.2 L590.2,312.3 L588.1,314.9 L587.8,316.1 L587.7,317.2 L590.8,316.1 L590.9,316.9 L592.7,316.4 L592.4,317.8 L591.3,319.8 L590.4,321.9 L594.1,319.3 L592.3,322.4 L593.9,322 L595.4,321.6 L593.7,325.1 L598.3,320.3 L596.9,323.6 L597.4,324.4 L596.9,327.2 L598,327.2 L598.5,328.1 L600.5,325.8 L600.7,327.2 L601.3,328 L602.5,327.1 L603.4,327.2 L604.4,326.7 L605.2,326.6 L606.2,325.6 L606,330.2 L607.5,327.1 L608.9,325.1 L609,328.5 L610,328.3 L610.8,328.7 L611.5,331.1 L612.7,328.6 L613.6,328.5 L614.5,327.9 L615.3,329 L616.1,328.6 L616.8,329.5 L617.1,333.7 L618.4,330 L619.4,328.3 L620,332.3 L621,330.9 L622,330.9 L622.9,330.8 L623.8,331 L624.7,330.8 L625.6,331.9 L626.4,331.4 L627.2,331.9 L628,329.3 L628.8,330.1 L629.7,329.1 L630.4,331.5 L631.2,331.3 L632.1,329.5 L632.9,331 L633.7,333.9 L634.6,332 L635.5,328.7 L636.3,330.1 L637.1,331.2 L638,330.2 L638.8,330.9 L639.6,332 L640.5,330.8 L641.4,328.8 L642.3,331.4 L643.2,330.2 L644.2,330.6 L645.1,329.6 L646.1,328.5 L647,328.7 L647.9,329.9 L648.8,328.9 L649.6,326.6 L650.4,332.1 L651.2,328.8 L652.1,329.5 L652.9,331.2 L653.8,327.1" fill="none" stroke="#141010" stroke-width="0.7" opacity="0.6"/><path d="M576.4,316.4l2,2m0,-2l-2,2M573.1,314.4l2,2m0,-2l-2,2M575.8,314.3l2,2m0,-2l-2,2M574.1,312.9l2,2m0,-2l-2,2M575.7,312.5l2,2m0,-2l-2,2M575.7,311.5l2,2m0,-2l-2,2M575.8,310.7l2,2m0,-2l-2,2M573,308.9l2,2m0,-2l-2,2M574,308.3l2,2m0,-2l-2,2M576.6,308.5l2,2m0,-2l-2,2M579.2,308.8l2,2m0,-2l-2,2M576.4,306.6l2,2m0,-2l-2,2M578.5,306.7l2,2m0,-2l-2,2M578.4,305.8l2,2m0,-2l-2,2M579.1,305.8l2,2m0,-2l-2,2M579.4,306.6l2,2m0,-2l-2,2M581.7,303l2,2m0,-2l-2,2M580.7,306.1l2,2m0,-2l-2,2M581.9,306.2l2,2m0,-2l-2,2M582.7,306.6l2,2m0,-2l-2,2M583.9,306.6l2,2m0,-2l-2,2M584.5,307.4l2,2m0,-2l-2,2M585.3,307.8l2,2m0,-2l-2,2M585.9,308.5l2,2m0,-2l-2,2M581.2,312.8l2,2m0,-2l-2,2M582.9,312.7l2,2m0,-2l-2,2M585.8,311.8l2,2m0,-2l-2,2M585.3,313.2l2,2m0,-2l-2,2M588.2,312.1l2,2m0,-2l-2,2M591.2,310.9l2,2m0,-2l-2,2M590.4,312.6l2,2m0,-2l-2,2M588,315.2l2,2m0,-2l-2,2M586.7,317.4l2,2m0,-2l-2,2M589.3,316.4l2,2m0,-2l-2,2M591.1,315.9l2,2m0,-2l-2,2M590.6,317.4l2,2m0,-2l-2,2M592.1,317l2,2m0,-2l-2,2M593.1,317.1l2,2m0,-2l-2,2M592.3,319.1l2,2m0,-2l-2,2M593.1,319.5l2,2m0,-2l-2,2M594.2,319.5l2,2m0,-2l-2,2M594.9,320l2,2m0,-2l-2,2M595.6,320.4l2,2m0,-2l-2,2M594.9,322.5l2,2m0,-2l-2,2M594.5,324.7l2,2m0,-2l-2,2M596.8,322.8l2,2m0,-2l-2,2M595.5,327l2,2m0,-2l-2,2M599.3,321.4l2,2m0,-2l-2,2M598.6,324.7l2,2m0,-2l-2,2M600.3,322.7l2,2m0,-2l-2,2M600.4,324.6l2,2m0,-2l-2,2M600.9,325.3l2,2m0,-2l-2,2M601.4,326.4l2,2m0,-2l-2,2M602,327.6l2,2m0,-2l-2,2M603.6,325l2,2m0,-2l-2,2M604.6,324l2,2m0,-2l-2,2M604.9,326l2,2m0,-2l-2,2M605.5,327l2,2m0,-2l-2,2M606.7,325.5l2,2m0,-2l-2,2M606.9,328.4l2,2m0,-2l-2,2M607.4,330l2,2m0,-2l-2,2M609.5,324.9l2,2m0,-2l-2,2M609.7,328.1l2,2m0,-2l-2,2M610.6,329.4l2,2m0,-2l-2,2M612.2,324.4l2,2m0,-2l-2,2M612.5,328.2l2,2m0,-2l-2,2M613.4,327.6l2,2m0,-2l-2,2M614.6,325.6l2,2m0,-2l-2,2M614.7,330.5l2,2m0,-2l-2,2M615.8,328.6l2,2m0,-2l-2,2M616.7,327.5l2,2m0,-2l-2,2M617.4,329.2l2,2m0,-2l-2,2M618.2,329.6l2,2m0,-2l-2,2M619.1,329.9l2,2m0,-2l-2,2M620,329.7l2,2m0,-2l-2,2M621,329.5l2,2m0,-2l-2,2M622.1,326.7l2,2m0,-2l-2,2M622.9,328.1l2,2m0,-2l-2,2M623.8,329.1l2,2m0,-2l-2,2M624.9,324.1l2,2m0,-2l-2,2M625.3,332.7l2,2m0,-2l-2,2M626.3,328.3l2,2m0,-2l-2,2M627.1,327.2l2,2m0,-2l-2,2M627.9,325.9l2,2m0,-2l-2,2M628.6,329.5l2,2m0,-2l-2,2M629.4,329.2l2,2m0,-2l-2,2M630.3,328.1l2,2m0,-2l-2,2M631.1,328.4l2,2m0,-2l-2,2M632,327.6l2,2m0,-2l-2,2M632.8,327.9l2,2m0,-2l-2,2M633.6,329.1l2,2m0,-2l-2,2M634.5,328.1l2,2m0,-2l-2,2M635.3,330.5l2,2m0,-2l-2,2M636.2,329l2,2m0,-2l-2,2M637,329.5l2,2m0,-2l-2,2M637.8,330l2,2m0,-2l-2,2M638.6,331.6l2,2m0,-2l-2,2M639.5,330.4l2,2m0,-2l-2,2M640.4,329.8l2,2m0,-2l-2,2M641.3,329.1l2,2m0,-2l-2,2M642.2,328l2,2m0,-2l-2,2M643.2,328.8l2,2m0,-2l-2,2M644.1,330.6l2,2m0,-2l-2,2M645,329.8l2,2m0,-2l-2,2M646,328.7l2,2m0,-2l-2,2M646.9,327.1l2,2m0,-2l-2,2M647.8,326.8l2,2m0,-2l-2,2M648.6,330l2,2m0,-2l-2,2M649.4,331.3l2,2m0,-2l-2,2M650.2,330.1l2,2m0,-2l-2,2M651.2,327.1l2,2m0,-2l-2,2M652,329.1l2,2m0,-2l-2,2M652.8,329.9l2,2m0,-2l-2,2" fill="none" stroke="#111" stroke-width="0.7" opacity="0.85"/><path d="M570.8,332 L571,331.4 L571.2,330.5 L571.5,329.4 L571.9,328.2 L572.2,327.1 L572.5,326 L572.8,325 L573,324 L573.3,323.1 L573.5,322.1 L573.8,320.9 L574.2,319.7 L574.5,318.8 L574.8,317.9 L575.1,316.9 L575.4,315.8 L575.7,314.8 L576.1,313.7 L576.4,312.7 L576.8,311.7 L577.1,310.9 L577.4,310.1 L578.1,308.5 L578.7,307.2 L579.4,306.3 L580.1,305.9 L580.9,306 L581.9,306.6 L582.8,307.5 L583.8,308.6 L584.4,309.3 L585,310.1 L585.6,311 L586.2,311.9 L586.9,312.8 L587.4,313.6 L588,314.4 L588.7,315.3 L589.3,316.2 L589.8,317 L590.4,317.7 L591.2,318.6 L591.8,319.3 L592.6,320 L593.3,320.7 L594.1,321.5 L594.9,322.2 L595.7,322.8 L596.5,323.4 L597.6,324.1 L598.6,324.7 L599.7,325.2 L600.7,325.7 L601.8,326.1 L602.8,326.5 L603.9,326.8 L604.9,327.1 L605.9,327.3 L607,327.6 L608,327.8 L608.9,328.1 L609.9,328.3 L611,328.5 L612.4,328.7 L613.2,328.8 L614.1,328.9 L615.1,329 L616.1,329.2 L617.1,329.3 L618.2,329.4 L619.3,329.5 L620.5,329.6 L621.7,329.7 L623,329.8 L623.9,329.9 L624.8,329.9 L625.7,329.9 L626.6,330 L627.6,330 L628.6,330.1 L629.6,330.1 L630.6,330.1 L631.7,330.2 L632.7,330.2 L633.8,330.2 L634.8,330.2 L635.9,330.3 L636.9,330.3 L638,330.3 L639,330.3 L640.1,330.3 L641.2,330.4 L642.4,330.4 L643.6,330.4 L644.8,330.4 L646,330.4 L647.2,330.4 L648.3,330.4 L649.5,330.5 L650.5,330.5 L651.5,330.5 L652.4,330.5 L653.2,330.5 L653.9,330.5 L654.5,330.5" fill="none" stroke="#a41c1c" stroke-width="1.3" stroke-linejoin="round"/>
<text x="611" y="278.6" font-size="7.3" font-weight="bold" fill="#444">EuCu3</text>
<text x="640.2" y="279" font-size="8" fill="#3a3a3a" font-style="italic">E</text>
<text x="645.3" y="281.8" font-size="5.4" fill="#3a3a3a" font-weight="bold">g</text>
<text x="629.7" y="300.4" font-size="7" font-weight="bold" fill="#d85050">50 K</text>
<path d="M570.6,334.9v-2.6 M570.6,255.6v2.6 M575.8,334.9v-1.5 M575.8,255.6v1.5 M581,334.9v-1.5 M581,255.6v1.5 M586.3,334.9v-1.5 M586.3,255.6v1.5 M591.5,334.9v-2.6 M591.5,255.6v2.6 M596.7,334.9v-1.5 M596.7,255.6v1.5 M601.9,334.9v-1.5 M601.9,255.6v1.5 M607.2,334.9v-1.5 M607.2,255.6v1.5 M612.4,334.9v-2.6 M612.4,255.6v2.6 M617.6,334.9v-1.5 M617.6,255.6v1.5 M622.8,334.9v-1.5 M622.8,255.6v1.5 M628.1,334.9v-1.5 M628.1,255.6v1.5 M633.3,334.9v-2.6 M633.3,255.6v2.6 M638.5,334.9v-1.5 M638.5,255.6v1.5 M643.7,334.9v-1.5 M643.7,255.6v1.5 M649,334.9v-1.5 M649,255.6v1.5 M654.2,334.9v-2.6 M654.2,255.6v2.6 M570.6,311.8h2.6 M654.7,311.8h-2.6 M570.6,288.7h2.6 M654.7,288.7h-2.6 M570.6,265.6h2.6 M654.7,265.6h-2.6 " stroke="#555" stroke-width="0.7" fill="none"/>
<path d="M321.5,398.8 L321.6,398.3 L321.7,397.8 L321.8,397.3 L321.9,396.8 L321.9,396.3 L322,395.8 L322.1,395.3 L322.2,394.8 L322.3,394.3 L322.3,393.8 L322.4,393.3 L322.5,392.8 L322.6,392.3 L322.6,391.7 L322.7,391.2 L322.8,390.7 L322.9,390.2 L322.9,389.7 L323,389.2 L323.1,388.7 L323.2,388.2 L323.2,387.8 L323.3,387.3 L323.4,386.8 L323.5,386.2 L323.6,385.6 L323.7,385.1 L323.7,384.5 L323.8,383.9 L323.9,383.4 L324,382.8 L324.1,382.3 L324.2,381.7 L324.3,381.2 L324.4,380.7 L324.4,380.2 L324.5,379.8 L324.6,379.3 L324.7,378.9 L324.8,378.5 L324.8,378.1 L324.9,377.8 L325.1,376.8 L325.4,376.1 L325.6,375.7 L325.8,375.5 L326,375.4 L326.3,375.5 L326.6,375.8 L326.9,376.3 L327.2,376.9 L327.5,377.5 L327.7,377.9 L327.9,378.3 L328,378.7 L328.2,379.1 L328.4,379.6 L328.6,380.1 L328.8,380.6 L329,381.2 L329.3,381.8 L329.5,382.2 L329.7,382.6 L329.9,383.1 L330.1,383.5 L330.3,384 L330.6,384.5 L330.8,385 L331,385.5 L331.3,385.9 L331.5,386.4 L331.8,386.9 L332.1,387.4 L332.3,387.9 L332.6,388.4 L332.9,388.8 L333.1,389.3 L333.4,389.7 L333.7,390.2 L333.9,390.6 L334.2,391 L334.5,391.5 L334.8,391.9 L335.1,392.4 L335.4,392.8 L335.7,393.2 L336,393.7 L336.3,394.1 L336.7,394.6 L337,395 L337.3,395.4 L337.6,395.8 L337.9,396.2 L338.2,396.6 L338.5,397 L338.9,397.4 L339.2,397.9 L339.5,398.3 L339.8,398.7 L340.2,399.1 L340.5,399.5 L340.8,399.9 L341.2,400.2 L341.5,400.6 L341.8,400.9 L342.2,401.3 L342.5,401.6 L342.9,402 L343.4,402.4 L343.8,402.7 L344.2,403.1 L344.6,403.4 L345.1,403.7 L345.5,404 L345.9,404.3 L346.3,404.5 L346.8,404.8 L347.2,405 L347.6,405.3 L348,405.5 L348.5,405.8 L349,406 L349.5,406.2 L350,406.4 L350.5,406.6 L351,406.7 L351.4,406.9 L351.9,407 L352.5,407.2 L353,407.3 L353.4,407.4 L353.9,407.5 L354.3,407.6 L354.7,407.7 L355.2,407.8 L355.6,407.9 L356.1,407.9 L356.6,408 L357.1,408.1 L357.7,408.1 L358.3,408.2 L359,408.3 L359.4,408.3 L359.8,408.4 L360.2,408.4 L360.7,408.5 L361.1,408.5 L361.6,408.6 L362,408.6 L362.5,408.7 L363,408.8 L363.5,408.8 L364,408.9 L364.5,408.9 L365,409 L365.5,409 L366.1,409 L366.6,409.1 L367.2,409.1 L367.7,409.2 L368.3,409.2 L368.9,409.2 L369.4,409.3 L370,409.3 L370.5,409.3 L370.9,409.3 L371.4,409.3 L371.8,409.4 L372.3,409.4 L372.8,409.4 L373.3,409.4 L373.8,409.4 L374.3,409.4 L374.8,409.4 L375.3,409.4 L375.8,409.4 L376.3,409.4 L376.8,409.4 L377.3,409.4 L377.8,409.4 L378.4,409.4 L378.9,409.4 L379.4,409.4 L379.9,409.4 L380.5,409.4 L381,409.4 L381.6,409.4 L382.1,409.4 L382.6,409.4 L383.2,409.4 L383.7,409.4 L384.3,409.4 L384.8,409.4 L385.3,409.4 L385.8,409.4 L386.3,409.4 L386.9,409.4 L387.4,409.4 L388,409.4 L388.6,409.4 L389.1,409.4 L389.7,409.4 L390.3,409.4 L390.9,409.4 L391.5,409.4 L392.1,409.4 L392.7,409.4 L393.3,409.4 L393.8,409.4 L394.4,409.4 L395,409.4 L395.5,409.4 L396.1,409.4 L396.6,409.4 L397.1,409.4 L397.6,409.4 L398.1,409.4 L398.5,409.4 L398.9,409.4 L399.4,409.4 L399.7,409.4 L400.1,409.4 L400.4,409.4 L400.7,409.4 L401,409.4" fill="none" stroke="#2a1414" stroke-width="5.2" stroke-linejoin="round" opacity="0.8"/><path d="M320.3,398.5 L322.1,398 L321.5,397.1 L320.8,396.2 L320.3,395.3 L323.3,394.9 L322.8,394 L321.2,392.9 L321.2,392.1 L323.9,391.6 L323.6,390.7 L322.5,389.8 L325.2,389.4 L322.7,388.2 L321.8,387.3 L324.9,386.9 L323.3,385.7 L324.2,385 L323.9,384 L322.6,382.9 L322.5,382 L324,381.3 L326.3,380.9 L323.1,379.6 L326.5,379.3 L325.1,378.3 L323.5,377 L325.6,376.5 L326.1,376.2 L326.7,374.3 L329.3,374.6 L326.8,377.2 L329,377 L327.3,378.6 L330.7,378.3 L328.7,380 L329.9,380.4 L331.2,380.9 L330,382.5 L329.8,383.4 L331,383.7 L332.2,384 L330.8,385.7 L333.6,385.2 L331.2,387.4 L331.7,388.2 L330.7,389.8 L332,389.9 L333.1,390.2 L333.6,390.8 L334.4,391.3 L336.4,390.9 L333.6,393.8 L335.2,393.7 L336.6,393.7 L338,393.7 L335.6,396.6 L337.1,396.4 L339.5,395.6 L338,397.9 L337.2,399.6 L339.8,398.6 L339.9,399.6 L341.3,399.5 L342.1,399.9 L340.9,402.1 L339.7,404.9 L343.2,402.5 L344.1,402.8 L344,404.3 L345.6,403.6 L345.5,405.2 L346.1,405.8 L348.1,403.9 L348.9,404.3 L349,405.9 L349.3,407.4 L350.3,406.9 L350.7,408.5 L352.5,405.2 L352.6,407.9 L353.7,406.6 L354.4,407.8 L355.2,408.2 L356.4,406.6 L357.1,407.7 L358.1,406.6 L358.7,408.6 L359.6,407.2 L360.4,407.8 L361.2,408.9 L362.2,407.8 L362.7,410.3 L363.8,407.9 L364.4,410.1 L365.3,409.4 L366.3,407.6 L367.1,408.8 L368,408 L368.9,408.7 L369.8,408.9 L370.4,411.9 L371.5,408.8 L372.3,411.6 L373.1,410 L373.9,407.6 L374.7,406.2 L375.5,410.4 L376.3,406.6 L377.1,410.4 L377.9,410.8 L378.7,410 L379.6,409.1 L380.4,409.1 L381.3,409.8 L382.1,409 L383,408.7 L383.9,408.9 L384.7,411 L385.5,408.5 L386.3,409.9 L387.2,407.8 L388.1,408.4 L389,407.5 L389.9,409.1 L390.9,410.4 L391.8,409.8 L392.7,408.7 L393.7,410.3 L394.6,408.9 L395.5,409.9 L396.3,409.8 L397.1,410.2 L397.9,405.9 L398.8,407.6 L399.6,410.5 L400.4,409.3" fill="none" stroke="#141010" stroke-width="0.7" opacity="0.6"/><path d="M324.4,398.4l2,2m0,-2l-2,2M320.3,396.8l2,2m0,-2l-2,2M319.9,396l2,2m0,-2l-2,2M323.5,395.8l2,2m0,-2l-2,2M322,394.7l2,2m0,-2l-2,2M324.5,394.2l2,2m0,-2l-2,2M322.2,393l2,2m0,-2l-2,2M321.1,392l2,2m0,-2l-2,2M322.8,391.4l2,2m0,-2l-2,2M320.3,390.2l2,2m0,-2l-2,2M321,389.5l2,2m0,-2l-2,2M321,388.7l2,2m0,-2l-2,2M321.7,388l2,2m0,-2l-2,2M323.5,387.5l2,2m0,-2l-2,2M321.4,386.4l2,2m0,-2l-2,2M323,385.7l2,2m0,-2l-2,2M321.7,384.6l2,2m0,-2l-2,2M324.2,384.1l2,2m0,-2l-2,2M318.1,382.2l2,2m0,-2l-2,2M322.6,382l2,2m0,-2l-2,2M323.4,381.3l2,2m0,-2l-2,2M321.4,380.1l2,2m0,-2l-2,2M325.1,379.9l2,2m0,-2l-2,2M323.9,378.9l2,2m0,-2l-2,2M325.9,378.4l2,2m0,-2l-2,2M325.5,377.5l2,2m0,-2l-2,2M325.1,376.6l2,2m0,-2l-2,2M324,375.3l2,2m0,-2l-2,2M323.3,373.3l2,2m0,-2l-2,2M325.4,374.1l2,2m0,-2l-2,2M326.5,374.8l2,2m0,-2l-2,2M325.8,376.2l2,2m0,-2l-2,2M327.3,376.3l2,2m0,-2l-2,2M322,379.5l2,2m0,-2l-2,2M329.8,377.3l2,2m0,-2l-2,2M325.7,379.8l2,2m0,-2l-2,2M328.6,379.6l2,2m0,-2l-2,2M328.7,380.6l2,2m0,-2l-2,2M327.2,382.3l2,2m0,-2l-2,2M329,382.3l2,2m0,-2l-2,2M331.2,382.1l2,2m0,-2l-2,2M329,384.1l2,2m0,-2l-2,2M330.4,384.4l2,2m0,-2l-2,2M333.6,383.7l2,2m0,-2l-2,2M330.6,386.2l2,2m0,-2l-2,2M332.9,385.9l2,2m0,-2l-2,2M332.8,386.9l2,2m0,-2l-2,2M331.4,388.7l2,2m0,-2l-2,2M332.1,389.2l2,2m0,-2l-2,2M333.4,389.3l2,2m0,-2l-2,2M330.2,392.3l2,2m0,-2l-2,2M333.2,391.4l2,2m0,-2l-2,2M335.2,391l2,2m0,-2l-2,2M334.4,392.5l2,2m0,-2l-2,2M335.4,392.9l2,2m0,-2l-2,2M338.8,391.4l2,2m0,-2l-2,2M338.4,392.7l2,2m0,-2l-2,2M338.7,393.5l2,2m0,-2l-2,2M334.4,397.8l2,2m0,-2l-2,2M338,396.1l2,2m0,-2l-2,2M338.7,396.7l2,2m0,-2l-2,2M339.6,397l2,2m0,-2l-2,2M338.1,399.4l2,2m0,-2l-2,2M339.9,398.9l2,2m0,-2l-2,2M338.3,401.5l2,2m0,-2l-2,2M340,401l2,2m0,-2l-2,2M339.7,402.8l2,2m0,-2l-2,2M342.5,401.2l2,2m0,-2l-2,2M342.6,402.4l2,2m0,-2l-2,2M344.1,401.8l2,2m0,-2l-2,2M344.5,402.7l2,2m0,-2l-2,2M346.7,400.8l2,2m0,-2l-2,2M346.2,402.9l2,2m0,-2l-2,2M347.2,402.7l2,2m0,-2l-2,2M347.7,403.6l2,2m0,-2l-2,2M347.1,406.9l2,2m0,-2l-2,2M348.6,405.7l2,2m0,-2l-2,2M348.8,407.6l2,2m0,-2l-2,2M349.8,407.2l2,2m0,-2l-2,2M350.6,407.6l2,2m0,-2l-2,2M351.4,407.9l2,2m0,-2l-2,2M352.8,405.4l2,2m0,-2l-2,2M353.1,408l2,2m0,-2l-2,2M354.4,406.2l2,2m0,-2l-2,2M355.3,406l2,2m0,-2l-2,2M355.7,409.1l2,2m0,-2l-2,2M356.5,410.9l2,2m0,-2l-2,2M357.9,405.6l2,2m0,-2l-2,2M358.1,410.3l2,2m0,-2l-2,2M359.1,408.9l2,2m0,-2l-2,2M360.4,406.1l2,2m0,-2l-2,2M361.1,408.1l2,2m0,-2l-2,2M361.8,408.4l2,2m0,-2l-2,2M362.6,408.5l2,2m0,-2l-2,2M363.6,407.3l2,2m0,-2l-2,2M364.5,405.8l2,2m0,-2l-2,2M365.2,408.1l2,2m0,-2l-2,2M366,409.6l2,2m0,-2l-2,2M366.9,409.5l2,2m0,-2l-2,2M367.8,409.4l2,2m0,-2l-2,2M368.7,410.2l2,2m0,-2l-2,2M369.6,406.6l2,2m0,-2l-2,2M370.5,408.3l2,2m0,-2l-2,2M371.4,409l2,2m0,-2l-2,2M372.1,410.1l2,2m0,-2l-2,2M372.9,408.7l2,2m0,-2l-2,2M373.7,409.3l2,2m0,-2l-2,2M374.5,408.6l2,2m0,-2l-2,2M375.3,412.1l2,2m0,-2l-2,2M376.1,404.6l2,2m0,-2l-2,2M376.9,408.4l2,2m0,-2l-2,2M377.8,412.7l2,2m0,-2l-2,2M378.6,408.8l2,2m0,-2l-2,2M379.4,405.2l2,2m0,-2l-2,2M380.3,408.6l2,2m0,-2l-2,2M381.1,405.9l2,2m0,-2l-2,2M382,407.2l2,2m0,-2l-2,2M382.9,408.8l2,2m0,-2l-2,2M383.7,411.4l2,2m0,-2l-2,2M384.5,409.2l2,2m0,-2l-2,2M385.3,409.6l2,2m0,-2l-2,2M386.2,410.2l2,2m0,-2l-2,2M387.1,408.8l2,2m0,-2l-2,2M388,406.9l2,2m0,-2l-2,2M388.9,408.2l2,2m0,-2l-2,2M389.9,409l2,2m0,-2l-2,2M390.8,407.9l2,2m0,-2l-2,2M391.7,407.2l2,2m0,-2l-2,2M392.7,407.8l2,2m0,-2l-2,2M393.6,405.8l2,2m0,-2l-2,2M394.4,406.6l2,2m0,-2l-2,2M395.3,408.2l2,2m0,-2l-2,2M396.1,407.8l2,2m0,-2l-2,2M396.9,408.5l2,2m0,-2l-2,2M397.8,410.8l2,2m0,-2l-2,2M398.6,408.9l2,2m0,-2l-2,2M399.4,408.3l2,2m0,-2l-2,2" fill="none" stroke="#111" stroke-width="0.7" opacity="0.85"/><path d="M316.8,413 L317.2,412.4 L317.7,411.7 L318.3,410.7 L318.9,409.6 L319.4,408.2 L319.6,407.4 L319.9,406.6 L320.1,405.6 L320.3,404.7 L320.6,403.6 L320.8,402.6 L321,401.5 L321.2,400.4 L321.4,399.4 L321.6,398.3 L321.8,397.3 L321.9,396.3 L322.1,395.3 L322.3,394.3 L322.4,393.3 L322.6,392.3 L322.7,391.2 L322.9,390.2 L323,389.2 L323.2,388.2 L323.3,387.3 L323.5,386.1 L323.7,385 L323.9,383.8 L324,382.6 L324.2,381.5 L324.4,380.4 L324.6,379.4 L324.7,378.5 L324.9,377.8 L325.5,375.9 L326,375.4 L326.7,376 L327.5,377.5 L327.9,378.4 L328.3,379.4 L328.7,380.5 L329.3,381.8 L329.7,382.6 L330.1,383.5 L330.6,384.5 L331,385.5 L331.5,386.4 L332.1,387.4 L332.6,388.4 L333.2,389.3 L333.7,390.3 L334.4,391.2 L335,392.2 L335.6,393.1 L336.3,394.1 L337,395 L337.6,395.8 L338.3,396.7 L339,397.6 L339.7,398.5 L340.4,399.3 L341.1,400.1 L341.8,400.9 L342.5,401.6 L343.4,402.4 L344.4,403.2 L345.3,403.9 L346.2,404.5 L347.1,405 L348,405.5 L349,406 L350,406.4 L351,406.7 L351.9,407 L353,407.3 L353.9,407.5 L354.7,407.7 L355.6,407.9 L356.6,408 L357.7,408.1 L359,408.3 L359.8,408.4 L360.7,408.5 L361.6,408.6 L362.5,408.7 L363.5,408.8 L364.5,408.9 L365.5,409 L366.6,409.1 L367.7,409.2 L368.9,409.2 L370,409.3 L370.9,409.3 L371.8,409.4 L372.8,409.4 L373.8,409.4 L374.8,409.4 L375.8,409.4 L376.8,409.4 L377.8,409.4 L378.9,409.4 L379.9,409.4 L381,409.4 L382.1,409.4 L383.2,409.4 L384.3,409.4 L385.3,409.4 L386.4,409.4 L387.5,409.4 L388.7,409.4 L389.9,409.4 L391.1,409.4 L392.3,409.4 L393.5,409.4 L394.7,409.4 L395.9,409.4 L396.9,409.4 L397.9,409.4 L398.9,409.4 L399.7,409.4 L400.4,409.4 L401,409.4" fill="none" stroke="#a41c1c" stroke-width="1.3" stroke-linejoin="round"/>
<text x="357.5" y="357.9" font-size="7.3" font-weight="bold" fill="#444">EuCu3</text>
<text x="386.7" y="358.3" font-size="8" fill="#3a3a3a" font-style="italic">E</text>
<text x="391.8" y="361.1" font-size="5.4" fill="#3a3a3a" font-weight="bold">g</text>
<text x="376.2" y="379.7" font-size="7" font-weight="bold" fill="#d85050">23 K</text>
<path d="M316.6,414.4v-2.6 M316.6,334.9v2.6 M321.9,414.4v-1.5 M321.9,334.9v1.5 M327.1,414.4v-1.5 M327.1,334.9v1.5 M332.4,414.4v-1.5 M332.4,334.9v1.5 M337.6,414.4v-2.6 M337.6,334.9v2.6 M342.9,414.4v-1.5 M342.9,334.9v1.5 M348.1,414.4v-1.5 M348.1,334.9v1.5 M353.4,414.4v-1.5 M353.4,334.9v1.5 M358.6,414.4v-2.6 M358.6,334.9v2.6 M363.9,414.4v-1.5 M363.9,334.9v1.5 M369.1,414.4v-1.5 M369.1,334.9v1.5 M374.4,414.4v-1.5 M374.4,334.9v1.5 M379.7,414.4v-2.6 M379.7,334.9v2.6 M384.9,414.4v-1.5 M384.9,334.9v1.5 M390.2,414.4v-1.5 M390.2,334.9v1.5 M395.4,414.4v-1.5 M395.4,334.9v1.5 M400.7,414.4v-2.6 M400.7,334.9v2.6 M316.6,391.3h2.6 M401.2,391.3h-2.6 M316.6,368.2h2.6 M401.2,368.2h-2.6 M316.6,345.1h2.6 M401.2,345.1h-2.6 " stroke="#555" stroke-width="0.7" fill="none"/>
<path d="M407.5,386.9 L407.6,386.4 L407.6,385.8 L407.7,385.3 L407.8,384.8 L407.8,384.2 L407.9,383.7 L407.9,383.2 L408,382.6 L408,382.1 L408.1,381.6 L408.1,381.1 L408.2,380.6 L408.2,380.2 L408.3,379.7 L408.3,379.3 L408.4,378.8 L408.4,378.4 L408.5,378 L408.6,377.3 L408.7,376.6 L408.8,376 L408.9,375.3 L408.9,374.7 L409,374 L409.1,373.4 L409.2,372.9 L409.3,372.3 L409.4,371.9 L409.5,371.4 L409.5,371 L409.6,370.7 L409.7,370.4 L409.8,370.2 L409.9,370 L410.1,369.9 L410.3,370.1 L410.5,370.6 L410.7,371.2 L410.9,371.9 L411.1,372.6 L411.3,373.4 L411.5,374 L411.7,374.5 L411.9,375 L412.1,375.5 L412.3,376 L412.5,376.5 L412.7,377 L412.9,377.6 L413.1,378.1 L413.3,378.5 L413.5,379 L413.7,379.5 L413.9,380 L414.1,380.4 L414.3,380.8 L414.6,381.2 L414.8,381.6 L415.1,382.2 L415.5,382.8 L415.7,383.2 L415.9,383.5 L416.2,383.9 L416.5,384.4 L416.7,384.8 L417,385.3 L417.3,385.7 L417.6,386.2 L417.9,386.7 L418.2,387.2 L418.5,387.7 L418.8,388.1 L419.1,388.6 L419.4,389.1 L419.7,389.6 L420,390 L420.3,390.4 L420.5,390.9 L420.8,391.3 L421.1,391.8 L421.3,392.2 L421.6,392.6 L421.8,393.1 L422.1,393.5 L422.3,393.9 L422.6,394.3 L422.9,394.8 L423.1,395.2 L423.4,395.6 L423.7,396 L424,396.4 L424.3,396.8 L424.6,397.2 L424.9,397.6 L425.2,398 L425.6,398.3 L425.9,398.7 L426.2,399.1 L426.6,399.4 L426.9,399.8 L427.3,400.1 L427.6,400.5 L428,400.8 L428.4,401.2 L428.8,401.5 L429.2,401.8 L429.6,402.2 L430,402.5 L430.4,402.8 L430.8,403.1 L431.2,403.4 L431.6,403.6 L432,403.9 L432.4,404.2 L432.9,404.5 L433.3,404.8 L433.8,405 L434.2,405.3 L434.7,405.6 L435.2,405.8 L435.7,406 L436.2,406.3 L436.7,406.5 L437.2,406.7 L437.8,406.9 L438.3,407.1 L438.7,407.2 L439.2,407.4 L439.6,407.5 L440.1,407.6 L440.6,407.7 L441,407.8 L441.5,408 L442,408.1 L442.5,408.1 L443,408.2 L443.5,408.3 L444,408.4 L444.5,408.5 L445,408.6 L445.6,408.6 L446.1,408.7 L446.6,408.8 L447.2,408.8 L447.7,408.9 L448.3,408.9 L448.9,409 L449.4,409 L450,409.1 L450.4,409.1 L450.9,409.2 L451.3,409.2 L451.8,409.2 L452.2,409.3 L452.7,409.3 L453.1,409.3 L453.6,409.3 L454.1,409.3 L454.5,409.4 L455,409.4 L455.5,409.4 L455.9,409.4 L456.4,409.4 L456.9,409.4 L457.4,409.4 L457.9,409.4 L458.4,409.4 L458.9,409.4 L459.4,409.4 L459.9,409.5 L460.5,409.5 L461,409.5 L461.6,409.5 L462.1,409.5 L462.7,409.5 L463.2,409.5 L463.8,409.5 L464.4,409.5 L465,409.5 L465.4,409.5 L465.9,409.5 L466.4,409.5 L466.9,409.5 L467.4,409.5 L467.9,409.5 L468.4,409.5 L469,409.5 L469.5,409.5 L470.1,409.5 L470.6,409.6 L471.2,409.6 L471.8,409.6 L472.4,409.6 L473,409.6 L473.6,409.6 L474.2,409.6 L474.8,409.6 L475.4,409.6 L475.9,409.6 L476.5,409.6 L477.1,409.6 L477.7,409.6 L478.3,409.6 L478.8,409.6 L479.4,409.6 L479.9,409.6 L480.5,409.6 L481,409.6 L481.5,409.6 L482,409.6 L482.5,409.6 L482.9,409.6 L483.4,409.6 L483.8,409.6 L484.2,409.6 L484.6,409.6 L485,409.6 L485.3,409.6 L485.6,409.6 L485.9,409.6 L486.2,409.6" fill="none" stroke="#2a1414" stroke-width="5.2" stroke-linejoin="round" opacity="0.8"/><path d="M405.9,387 L406.1,386.1 L408.2,385.4 L406.6,384.4 L408.5,383.7 L406.5,382.7 L408.2,382 L408,381.2 L409.6,380.6 L407.8,379.6 L407.9,378.8 L408.8,378 L408.7,377.2 L411,376.7 L408.5,375.5 L408.2,374.7 L408.6,374 L409.8,373.2 L409.6,372.3 L410.4,371.7 L407.8,370.2 L411.2,373.2 L408.2,371.7 L410.7,371.3 L412.5,371.7 L411,373.1 L410.9,374 L414.6,373.4 L412,375.3 L414.2,375.4 L412,377.2 L411.2,378.4 L412,379 L415.5,378.3 L412.2,380.7 L413.2,381.3 L415.2,381.3 L414.6,382.7 L413.9,384.1 L416.5,383.6 L416.5,384.4 L417.6,384.7 L416,386.7 L420.4,385 L416.6,388.4 L419.9,387.3 L418.1,389.5 L421.6,388.3 L421.2,389.5 L421.2,390.4 L420,392.2 L423.3,391.1 L421,393.4 L422.9,393.2 L421.1,395.3 L423.4,394.8 L422.9,396.1 L424.1,396.2 L422.5,398.5 L425.3,397.3 L425.5,398.2 L423.9,400.6 L426.4,399.4 L426.4,400.6 L428.3,399.8 L428,401.2 L430.8,399.2 L429.4,402.2 L430.7,401.9 L432.1,401.5 L432.6,402 L431.3,405.4 L432.5,405 L434.6,403.1 L433,407.5 L435.4,404.8 L435.9,405.6 L436.3,406.7 L437.8,405.3 L438.8,404.9 L439.1,406.3 L439.3,409.1 L440.3,409 L441.8,405.8 L441.8,409.7 L442.8,408.3 L443.5,409 L444.4,408.5 L445.2,409.2 L446.2,407.3 L447.1,407.5 L447.9,407.9 L448.7,408.5 L449.5,409.9 L450.5,407.5 L451.1,411.4 L452.2,408.4 L453.1,408.5 L453.9,410.3 L454.9,410 L455.7,408.9 L456.4,407.9 L457.2,408 L458,407.2 L458.8,411 L459.6,411 L460.4,412 L461.3,410.2 L462.2,409.9 L463.1,410.5 L464,410.8 L465,409.1 L465.9,410 L466.6,412.5 L467.5,407.2 L468.3,407.6 L469.1,408.2 L470,410.6 L470.9,411.2 L471.9,409.1 L472.8,410.5 L473.7,409.5 L474.7,410 L475.6,408.8 L476.5,409.5 L477.5,409.6 L478.4,411.1 L479.2,412.7 L480.1,407.1 L481,410.3 L481.8,409.6 L482.5,410.9 L483.4,411.1 L484.2,410.7 L485.1,410.7 L486,408.3" fill="none" stroke="#141010" stroke-width="0.7" opacity="0.6"/><path d="M403.6,385.8l2,2m0,-2l-2,2M409.5,385.5l2,2m0,-2l-2,2M408.8,384.6l2,2m0,-2l-2,2M405.1,383.4l2,2m0,-2l-2,2M409.1,382.9l2,2m0,-2l-2,2M408.1,382l2,2m0,-2l-2,2M402.8,380.6l2,2m0,-2l-2,2M408.7,380.4l2,2m0,-2l-2,2M405.5,379.3l2,2m0,-2l-2,2M409.3,378.9l2,2m0,-2l-2,2M406.2,377.7l2,2m0,-2l-2,2M406.2,376.8l2,2m0,-2l-2,2M405,375.8l2,2m0,-2l-2,2M407.3,375.3l2,2m0,-2l-2,2M409.6,374.8l2,2m0,-2l-2,2M406.8,373.6l2,2m0,-2l-2,2M404.8,372.6l2,2m0,-2l-2,2M411.8,372.7l2,2m0,-2l-2,2M411.4,371.8l2,2m0,-2l-2,2M409.6,370.7l2,2m0,-2l-2,2M407.7,369.5l2,2m0,-2l-2,2M408.1,367.1l2,2m0,-2l-2,2M411.8,367.9l2,2m0,-2l-2,2M408.8,370.6l2,2m0,-2l-2,2M407.8,371.8l2,2m0,-2l-2,2M411.9,371.5l2,2m0,-2l-2,2M410.4,372.8l2,2m0,-2l-2,2M411.2,373.4l2,2m0,-2l-2,2M411.4,374.1l2,2m0,-2l-2,2M410.5,375.4l2,2m0,-2l-2,2M408.3,377.2l2,2m0,-2l-2,2M413,376.3l2,2m0,-2l-2,2M410.9,378.1l2,2m0,-2l-2,2M410.9,379l2,2m0,-2l-2,2M413.4,378.7l2,2m0,-2l-2,2M413.5,379.6l2,2m0,-2l-2,2M415.8,379.4l2,2m0,-2l-2,2M412.6,382.3l2,2m0,-2l-2,2M415.5,381.6l2,2m0,-2l-2,2M416.1,382.2l2,2m0,-2l-2,2M415.4,383.5l2,2m0,-2l-2,2M417.2,383.3l2,2m0,-2l-2,2M417.9,383.9l2,2m0,-2l-2,2M417.3,385.3l2,2m0,-2l-2,2M415.1,387.7l2,2m0,-2l-2,2M418.1,386.9l2,2m0,-2l-2,2M417.5,388.3l2,2m0,-2l-2,2M420.8,387.1l2,2m0,-2l-2,2M422,387.4l2,2m0,-2l-2,2M416.8,391.5l2,2m0,-2l-2,2M420.5,390.2l2,2m0,-2l-2,2M422.7,389.9l2,2m0,-2l-2,2M420.9,391.9l2,2m0,-2l-2,2M420.3,393.2l2,2m0,-2l-2,2M424.1,391.8l2,2m0,-2l-2,2M423.3,393.2l2,2m0,-2l-2,2M422.1,394.9l2,2m0,-2l-2,2M424.2,394.4l2,2m0,-2l-2,2M422.3,396.8l2,2m0,-2l-2,2M422.6,397.6l2,2m0,-2l-2,2M423.9,397.7l2,2m0,-2l-2,2M425.5,397.3l2,2m0,-2l-2,2M425.5,398.3l2,2m0,-2l-2,2M426.8,398.2l2,2m0,-2l-2,2M426.8,399.3l2,2m0,-2l-2,2M426.8,400.5l2,2m0,-2l-2,2M428.2,400.2l2,2m0,-2l-2,2M427.4,402.4l2,2m0,-2l-2,2M426.5,405.2l2,2m0,-2l-2,2M430.5,401.4l2,2m0,-2l-2,2M430.2,403.1l2,2m0,-2l-2,2M430.4,404.2l2,2m0,-2l-2,2M431.2,404.4l2,2m0,-2l-2,2M432.7,403.5l2,2m0,-2l-2,2M433.6,403.6l2,2m0,-2l-2,2M433.1,406.2l2,2m0,-2l-2,2M434.2,406l2,2m0,-2l-2,2M435.1,406.2l2,2m0,-2l-2,2M436.8,404.4l2,2m0,-2l-2,2M436.7,407.1l2,2m0,-2l-2,2M437.4,407.6l2,2m0,-2l-2,2M438.8,406.2l2,2m0,-2l-2,2M439.3,407.8l2,2m0,-2l-2,2M439.5,410.6l2,2m0,-2l-2,2M441.7,403.9l2,2m0,-2l-2,2M441.7,408.3l2,2m0,-2l-2,2M443,405.3l2,2m0,-2l-2,2M443.8,405.1l2,2m0,-2l-2,2M444.3,407.2l2,2m0,-2l-2,2M445,408.6l2,2m0,-2l-2,2M445.9,407.9l2,2m0,-2l-2,2M447,405.9l2,2m0,-2l-2,2M447.9,405.5l2,2m0,-2l-2,2M448.6,407.1l2,2m0,-2l-2,2M449.4,408.2l2,2m0,-2l-2,2M450.4,406.8l2,2m0,-2l-2,2M451.3,405.6l2,2m0,-2l-2,2M451.9,411.4l2,2m0,-2l-2,2M453,406.9l2,2m0,-2l-2,2M453.9,408.1l2,2m0,-2l-2,2M454.7,407.4l2,2m0,-2l-2,2M455.4,407.4l2,2m0,-2l-2,2M456.2,408.5l2,2m0,-2l-2,2M457,407.9l2,2m0,-2l-2,2M457.8,409.5l2,2m0,-2l-2,2M458.6,406.4l2,2m0,-2l-2,2M459.5,405.9l2,2m0,-2l-2,2M460.3,411.9l2,2m0,-2l-2,2M461.2,408.3l2,2m0,-2l-2,2M462.1,409.8l2,2m0,-2l-2,2M463,410.5l2,2m0,-2l-2,2M464,409.5l2,2m0,-2l-2,2M464.9,408.6l2,2m0,-2l-2,2M465.7,405.8l2,2m0,-2l-2,2M466.5,405.7l2,2m0,-2l-2,2M467.3,410.2l2,2m0,-2l-2,2M468.1,409.7l2,2m0,-2l-2,2M469,409.5l2,2m0,-2l-2,2M469.9,405.7l2,2m0,-2l-2,2M470.9,404.8l2,2m0,-2l-2,2M471.8,406.7l2,2m0,-2l-2,2M472.7,406.5l2,2m0,-2l-2,2M473.7,408.8l2,2m0,-2l-2,2M474.6,406.8l2,2m0,-2l-2,2M475.5,411.3l2,2m0,-2l-2,2M476.5,407.5l2,2m0,-2l-2,2M477.4,407.6l2,2m0,-2l-2,2M478.3,410.1l2,2m0,-2l-2,2M479.1,409.2l2,2m0,-2l-2,2M480,407l2,2m0,-2l-2,2M480.8,410l2,2m0,-2l-2,2M481.5,411.9l2,2m0,-2l-2,2M482.4,406.5l2,2m0,-2l-2,2M483.3,408.2l2,2m0,-2l-2,2M484.1,406.7l2,2m0,-2l-2,2M485,405.2l2,2m0,-2l-2,2" fill="none" stroke="#111" stroke-width="0.7" opacity="0.85"/><path d="M401.4,413.5 L402.3,413.2 L403.5,412 L403.8,411.3 L404,410.6 L404.3,409.7 L404.5,408.7 L404.8,407.6 L405,406.4 L405.3,405.2 L405.5,404 L405.6,403.1 L405.8,402.3 L405.9,401.3 L406,400.4 L406.2,399.4 L406.3,398.4 L406.4,397.3 L406.5,396.3 L406.6,395.2 L406.8,394.2 L406.9,393.1 L407,392 L407.1,391 L407.2,390.1 L407.3,389 L407.4,388 L407.5,386.9 L407.6,385.8 L407.8,384.8 L407.9,383.7 L408,382.6 L408.1,381.6 L408.2,380.6 L408.3,379.7 L408.4,378.8 L408.5,378 L408.7,376.6 L408.9,375.3 L409,374 L409.2,372.9 L409.4,371.9 L409.5,371 L409.7,370.4 L409.9,370 L410.3,370.1 L410.7,371.2 L411.1,372.6 L411.5,374 L411.9,375 L412.3,376 L412.7,377 L413.1,378.1 L413.5,379 L413.9,380 L414.3,380.8 L414.8,381.6 L415.5,382.8 L415.9,383.5 L416.5,384.4 L417,385.3 L417.6,386.2 L418.2,387.2 L418.8,388.1 L419.4,389.1 L420,390 L420.5,390.9 L421.1,391.8 L421.6,392.6 L422.1,393.5 L422.6,394.3 L423.1,395.2 L423.7,396 L424.3,396.8 L424.9,397.6 L425.6,398.3 L426.2,399.1 L426.9,399.8 L427.6,400.5 L428.4,401.2 L429.2,401.8 L430,402.5 L430.8,403.1 L431.6,403.6 L432.4,404.2 L433.3,404.8 L434.2,405.3 L435.2,405.8 L436.2,406.3 L437.2,406.7 L438.3,407.1 L439.2,407.4 L440.2,407.6 L441.2,407.9 L442.2,408.1 L443.2,408.3 L444.3,408.4 L445.4,408.6 L446.5,408.7 L447.6,408.9 L448.8,409 L450,409.1 L450.9,409.2 L451.8,409.2 L452.7,409.3 L453.6,409.3 L454.5,409.4 L455.5,409.4 L456.4,409.4 L457.4,409.4 L458.4,409.4 L459.4,409.4 L460.5,409.5 L461.6,409.5 L462.7,409.5 L463.8,409.5 L465,409.5 L465.9,409.5 L466.9,409.5 L467.9,409.5 L469,409.5 L470.1,409.5 L471.2,409.6 L472.4,409.6 L473.6,409.6 L474.8,409.6 L475.9,409.6 L477.1,409.6 L478.3,409.6 L479.4,409.6 L480.5,409.6 L481.5,409.6 L482.5,409.6 L483.4,409.6 L484.2,409.6 L485,409.6 L485.6,409.6 L486.2,409.6" fill="none" stroke="#a41c1c" stroke-width="1.3" stroke-linejoin="round"/>
<text x="442.7" y="357.9" font-size="7.3" font-weight="bold" fill="#444">EuCu3</text>
<text x="471.9" y="358.3" font-size="8" fill="#3a3a3a" font-style="italic">E</text>
<text x="477" y="361.1" font-size="5.4" fill="#3a3a3a" font-weight="bold">g</text>
<text x="461.4" y="379.7" font-size="7" font-weight="bold" fill="#d85050">19 K</text>
<path d="M401.2,414.4v-2.6 M401.2,334.9v2.6 M406.5,414.4v-1.5 M406.5,334.9v1.5 M411.8,414.4v-1.5 M411.8,334.9v1.5 M417.1,414.4v-1.5 M417.1,334.9v1.5 M422.4,414.4v-2.6 M422.4,334.9v2.6 M427.7,414.4v-1.5 M427.7,334.9v1.5 M433,414.4v-1.5 M433,334.9v1.5 M438.2,414.4v-1.5 M438.2,334.9v1.5 M443.5,414.4v-2.6 M443.5,334.9v2.6 M448.8,414.4v-1.5 M448.8,334.9v1.5 M454.1,414.4v-1.5 M454.1,334.9v1.5 M459.4,414.4v-1.5 M459.4,334.9v1.5 M464.7,414.4v-2.6 M464.7,334.9v2.6 M470,414.4v-1.5 M470,334.9v1.5 M475.3,414.4v-1.5 M475.3,334.9v1.5 M480.6,414.4v-1.5 M480.6,334.9v1.5 M485.9,414.4v-2.6 M485.9,334.9v2.6 M401.2,391.3h2.6 M486.4,391.3h-2.6 M401.2,368.2h2.6 M486.4,368.2h-2.6 M401.2,345.1h2.6 M486.4,345.1h-2.6 " stroke="#555" stroke-width="0.7" fill="none"/>
<path d="M487.2,412.6 L487.6,412.5 L488.2,412.4 L488.9,412.2 L489.4,412 L490,411.9 L490.5,411.7 L490.9,411.6" fill="none" stroke="#2a1414" stroke-width="5.2" stroke-linejoin="round" opacity="0.8"/><path d="M487.3,413.2 L488.3,413 L489.1,413.1 L489.9,412.3 L490.1,409.9" fill="none" stroke="#141010" stroke-width="0.7" opacity="0.6"/><path d="M486.2,411.6l2,2m0,-2l-2,2M487,410.6l2,2m0,-2l-2,2M487.5,409.9l2,2m0,-2l-2,2M488.4,409.7l2,2m0,-2l-2,2M489.9,411.5l2,2m0,-2l-2,2" fill="none" stroke="#111" stroke-width="0.7" opacity="0.85"/><path d="M487.2,412.6 L487.9,412.4 L488.9,412.2 L490,411.9 L490.9,411.6" fill="none" stroke="#a41c1c" stroke-width="1.3" stroke-linejoin="round"/>
<path d="M494.6,360.4 L494.7,361.1 L494.8,361.9 L494.8,362.6 L494.9,363.3 L494.9,364 L495,364.7 L495,365.3 L495.1,365.9 L495.1,366.5 L495.2,367 L495.3,367.5 L495.3,368.1 L495.4,368.6 L495.5,369.1 L495.5,369.7 L495.6,370.2 L495.7,370.7 L495.7,371.2 L495.8,371.8 L495.9,372.3 L495.9,372.8 L496,373.3 L496.1,373.8 L496.2,374.3 L496.3,374.8 L496.4,375.2 L496.5,375.7 L496.6,376.1 L496.7,376.6 L496.8,377 L497,377.6 L497.2,378.1 L497.4,378.6 L497.6,379.1 L497.8,379.6 L498,380 L498.2,380.5 L498.4,380.9 L498.7,381.3 L498.9,381.8 L499.2,382.2 L499.4,382.6 L499.7,383.1 L500,383.5 L500.3,383.9 L500.6,384.3 L500.9,384.8 L501.2,385.2 L501.5,385.6 L501.8,386 L502.1,386.4 L502.4,386.8 L502.8,387.3 L503.1,387.7 L503.4,388.1 L503.8,388.5 L504.1,388.9 L504.5,389.4 L504.8,389.8 L505.1,390.2 L505.4,390.6 L505.7,391 L506,391.4 L506.3,391.9 L506.6,392.3 L507,392.7 L507.3,393.1 L507.6,393.5 L507.9,394 L508.2,394.4 L508.6,394.8 L508.9,395.2 L509.3,395.7 L509.6,396.1 L510,396.5 L510.3,396.9 L510.7,397.2 L511,397.6 L511.3,398 L511.7,398.4 L512,398.8 L512.4,399.2 L512.8,399.5 L513.1,399.9 L513.5,400.3 L513.9,400.7 L514.3,401.1 L514.7,401.4 L515,401.8 L515.4,402.1 L515.8,402.5 L516.2,402.8 L516.6,403.1 L517,403.4 L517.4,403.7 L517.9,404 L518.3,404.3 L518.7,404.6 L519.1,404.8 L519.5,405.1 L519.9,405.3 L520.3,405.6 L520.7,405.8 L521.2,406 L521.6,406.2 L522.1,406.4 L522.6,406.6 L523.2,406.8 L523.7,407 L524.3,407.1 L525,407.3 L525.4,407.4 L525.8,407.5 L526.2,407.6 L526.6,407.7 L527.1,407.7 L527.6,407.8 L528,407.9 L528.5,408 L529,408.1 L529.5,408.1 L530,408.2 L530.5,408.3 L531,408.3 L531.5,408.4 L532.1,408.5 L532.6,408.5 L533.1,408.6 L533.7,408.6 L534.2,408.7 L534.7,408.8 L535.3,408.8 L535.8,408.9 L536.4,408.9 L536.9,408.9 L537.4,409 L537.9,409 L538.5,409.1 L539,409.1 L539.5,409.2 L540,409.2 L540.5,409.2 L541,409.3 L541.5,409.3 L542,409.3 L542.5,409.4 L543,409.4 L543.5,409.4 L544,409.4 L544.5,409.4 L545,409.5 L545.5,409.5 L546,409.5 L546.5,409.5 L547,409.5 L547.5,409.5 L548,409.5 L548.5,409.5 L549,409.5 L549.5,409.5 L550,409.5 L550.5,409.5 L551,409.6 L551.5,409.6 L552,409.6 L552.5,409.6 L553,409.6 L553.5,409.6 L554,409.6 L554.5,409.6 L555,409.6 L555.5,409.6 L556,409.6 L556.6,409.6 L557.2,409.6 L557.7,409.6 L558.3,409.6 L558.9,409.6 L559.5,409.7 L560.1,409.7 L560.7,409.7 L561.3,409.7 L561.9,409.7 L562.5,409.7 L563.1,409.7 L563.6,409.7 L564.2,409.7 L564.8,409.7 L565.3,409.7 L565.9,409.7 L566.4,409.7 L566.9,409.7 L567.4,409.7 L567.9,409.7 L568.3,409.7 L568.7,409.7 L569.1,409.7 L569.5,409.7 L569.8,409.7 L570.1,409.7 L570.4,409.7" fill="none" stroke="#2a1414" stroke-width="5.2" stroke-linejoin="round" opacity="0.8"/><path d="M495,359.9 L491.9,360.9 L494.1,361.6 L497.5,362.2 L493.6,363.4 L493.2,364.3 L494.9,364.9 L496.7,365.5 L492.7,366.9 L497.1,367.2 L495.5,368.3 L498.1,368.8 L497.3,369.8 L498,370.5 L494.3,371.9 L494.3,372.7 L496.6,373.2 L498,373.8 L496.4,374.8 L495.9,375.7 L498.7,376 L498.4,376.8 L497.3,378 L496.5,379.2 L497.7,379.7 L497.6,380.6 L500,380.1 L501.9,379.9 L498.9,382.5 L500.8,382.3 L500.2,383.6 L501,384 L500.4,385.4 L502.3,384.9 L500.4,387.5 L502.4,386.9 L502.4,388 L502.8,388.7 L502.9,389.7 L504.1,389.8 L507,388.6 L506.2,390.2 L503.9,392.9 L505.9,392.4 L506.3,393.1 L506.9,393.7 L508.6,393.4 L509.1,394 L509.6,394.6 L508.2,396.9 L509.6,396.8 L508.6,398.7 L510.5,398.1 L509.6,400 L511.6,399.3 L513.9,398.3 L511.5,401.8 L513.5,401 L513.3,402.4 L514.8,402 L515.9,402 L516.1,403 L517.8,402 L518.5,402.4 L518.9,403.2 L519.2,404 L520.5,403.5 L520.4,405.4 L521,406.4 L520.8,409 L521.8,409.1 L523.6,406.8 L524.2,408.4 L525.4,407.1 L526,408.1 L527,407.7 L528.1,407.1 L528.7,408.1 L529.8,406.1 L530.2,408.9 L531.2,407.9 L532.1,406.9 L532.9,408 L533.6,409.4 L534.6,407.8 L535.3,409.5 L536.2,409.7 L536.9,411.2 L538.1,407.5 L538.8,408.9 L539.5,409.9 L540.2,411.4 L541.2,409.7 L541.9,410.4 L542.9,407.3 L543.6,408.6 L544.3,411.8 L545.2,409.1 L545.9,412.5 L546.8,408.5 L547.6,409.1 L548.4,407.3 L549.2,410.4 L550,409.9 L550.7,412.4 L551.6,409.8 L552.4,409.2 L553.2,407.6 L554,409.5 L554.8,410.9 L555.6,410.7 L556.4,411.4 L557.3,410.9 L558.2,409.6 L559.1,410.5 L560.1,409.9 L561,407.8 L561.9,412.1 L562.8,410.2 L563.8,408.2 L564.6,410.2 L565.5,410.1 L566.3,411.1 L567.1,411.7 L568,405.4 L568.8,410.5 L569.7,411.9" fill="none" stroke="#141010" stroke-width="0.7" opacity="0.6"/><path d="M495.3,358.8l2,2m0,-2l-2,2M497,359.5l2,2m0,-2l-2,2M493.2,360.6l2,2m0,-2l-2,2M493.2,361.5l2,2m0,-2l-2,2M493.2,362.3l2,2m0,-2l-2,2M495.9,363l2,2m0,-2l-2,2M494.8,363.9l2,2m0,-2l-2,2M493.7,364.7l2,2m0,-2l-2,2M492.8,365.7l2,2m0,-2l-2,2M490.4,366.9l2,2m0,-2l-2,2M493.8,367.3l2,2m0,-2l-2,2M495.5,368l2,2m0,-2l-2,2M498.7,368.5l2,2m0,-2l-2,2M492.8,370.1l2,2m0,-2l-2,2M495,370.6l2,2m0,-2l-2,2M495.1,371.5l2,2m0,-2l-2,2M496.8,372l2,2m0,-2l-2,2M493.9,373.3l2,2m0,-2l-2,2M498.4,373.3l2,2m0,-2l-2,2M495.3,374.7l2,2m0,-2l-2,2M495.5,375.5l2,2m0,-2l-2,2M495.4,376.4l2,2m0,-2l-2,2M494,377.9l2,2m0,-2l-2,2M496.6,377.8l2,2m0,-2l-2,2M496.6,378.7l2,2m0,-2l-2,2M495.8,380l2,2m0,-2l-2,2M499.9,378.6l2,2m0,-2l-2,2M498.3,380.4l2,2m0,-2l-2,2M498.1,381.4l2,2m0,-2l-2,2M497.2,382.9l2,2m0,-2l-2,2M500.3,381.9l2,2m0,-2l-2,2M498.4,384.1l2,2m0,-2l-2,2M499.4,384.4l2,2m0,-2l-2,2M502.6,383l2,2m0,-2l-2,2M503,383.6l2,2m0,-2l-2,2M503.5,384.3l2,2m0,-2l-2,2M501.8,386.7l2,2m0,-2l-2,2M502.2,387.4l2,2m0,-2l-2,2M502,388.6l2,2m0,-2l-2,2M502.4,389.4l2,2m0,-2l-2,2M504.8,388.5l2,2m0,-2l-2,2M503,390.9l2,2m0,-2l-2,2M503.8,391.2l2,2m0,-2l-2,2M504.8,391.5l2,2m0,-2l-2,2M505.2,392.1l2,2m0,-2l-2,2M508.2,390.9l2,2m0,-2l-2,2M506.4,393.3l2,2m0,-2l-2,2M508.8,392.4l2,2m0,-2l-2,2M509.5,392.9l2,2m0,-2l-2,2M508.9,394.4l2,2m0,-2l-2,2M508.8,395.7l2,2m0,-2l-2,2M509.6,396l2,2m0,-2l-2,2M510.5,396.3l2,2m0,-2l-2,2M511.9,396l2,2m0,-2l-2,2M510.9,398.1l2,2m0,-2l-2,2M512.6,397.5l2,2m0,-2l-2,2M514.1,397.3l2,2m0,-2l-2,2M512.7,399.8l2,2m0,-2l-2,2M511.6,402.1l2,2m0,-2l-2,2M514.5,400.2l2,2m0,-2l-2,2M515.9,399.9l2,2m0,-2l-2,2M513.7,403.8l2,2m0,-2l-2,2M514,404.7l2,2m0,-2l-2,2M516.8,402.3l2,2m0,-2l-2,2M517.4,402.9l2,2m0,-2l-2,2M517.6,404l2,2m0,-2l-2,2M515.8,408.7l2,2m0,-2l-2,2M519.2,404.8l2,2m0,-2l-2,2M519.4,406.6l2,2m0,-2l-2,2M520.6,406l2,2m0,-2l-2,2M522.8,402.5l2,2m0,-2l-2,2M523.1,404l2,2m0,-2l-2,2M524.1,404l2,2m0,-2l-2,2M524.1,407.1l2,2m0,-2l-2,2M525.1,406.7l2,2m0,-2l-2,2M525.4,409.9l2,2m0,-2l-2,2M527,406.4l2,2m0,-2l-2,2M527.6,407.6l2,2m0,-2l-2,2M528.5,407.3l2,2m0,-2l-2,2M529.3,407.5l2,2m0,-2l-2,2M529.6,411.5l2,2m0,-2l-2,2M530.9,408l2,2m0,-2l-2,2M531.5,410.2l2,2m0,-2l-2,2M532.4,410l2,2m0,-2l-2,2M533.6,406.6l2,2m0,-2l-2,2M534.3,409l2,2m0,-2l-2,2M535.3,407.2l2,2m0,-2l-2,2M536.1,408.2l2,2m0,-2l-2,2M536.9,408.3l2,2m0,-2l-2,2M537.8,408.1l2,2m0,-2l-2,2M538.7,407.3l2,2m0,-2l-2,2M539.2,411l2,2m0,-2l-2,2M540.2,407.8l2,2m0,-2l-2,2M540.9,409.6l2,2m0,-2l-2,2M541.7,411.4l2,2m0,-2l-2,2M542.5,409.5l2,2m0,-2l-2,2M543.3,410.3l2,2m0,-2l-2,2M544.1,411l2,2m0,-2l-2,2M544.9,410.4l2,2m0,-2l-2,2M545.7,411.6l2,2m0,-2l-2,2M546.6,406l2,2m0,-2l-2,2M547.3,412l2,2m0,-2l-2,2M548.2,408.6l2,2m0,-2l-2,2M549,405.4l2,2m0,-2l-2,2M549.8,407.4l2,2m0,-2l-2,2M550.6,406.1l2,2m0,-2l-2,2M551.4,408.5l2,2m0,-2l-2,2M552.2,405.9l2,2m0,-2l-2,2M553,406.8l2,2m0,-2l-2,2M553.8,409.1l2,2m0,-2l-2,2M554.6,408.9l2,2m0,-2l-2,2M555.5,407.2l2,2m0,-2l-2,2M556.3,408.2l2,2m0,-2l-2,2M557.2,408.5l2,2m0,-2l-2,2M558.1,408.8l2,2m0,-2l-2,2M559.1,408.6l2,2m0,-2l-2,2M560,408.3l2,2m0,-2l-2,2M560.9,410.2l2,2m0,-2l-2,2M561.9,405.8l2,2m0,-2l-2,2M562.8,407.8l2,2m0,-2l-2,2M563.6,408.9l2,2m0,-2l-2,2M564.5,408l2,2m0,-2l-2,2M565.3,407.7l2,2m0,-2l-2,2M566.1,407.9l2,2m0,-2l-2,2M567,409.1l2,2m0,-2l-2,2M567.8,410.9l2,2m0,-2l-2,2M568.7,408.4l2,2m0,-2l-2,2" fill="none" stroke="#111" stroke-width="0.7" opacity="0.85"/><path d="M486.6,412.3 L487.2,412.1 L488,411.5 L488.7,410.6 L489.5,409 L489.8,408.3 L490,407.4 L490.3,406.5 L490.5,405.5 L490.8,404.3 L491,403 L491.1,402.2 L491.3,401.4 L491.4,400.5 L491.5,399.7 L491.6,398.7 L491.7,397.8 L491.9,396.7 L492,395.6 L492.1,394.5 L492.2,393.3 L492.3,392 L492.4,391.2 L492.4,390.3 L492.5,389.4 L492.5,388.5 L492.6,387.5 L492.7,386.5 L492.7,385.5 L492.8,384.5 L492.8,383.4 L492.9,382.4 L492.9,381.3 L493,380.3 L493,379.2 L493.1,378.1 L493.1,377.1 L493.2,376 L493.2,375 L493.3,374 L493.3,373 L493.4,371.8 L493.4,370.7 L493.5,369.4 L493.5,368.2 L493.6,366.9 L493.6,365.7 L493.7,364.4 L493.7,363.2 L493.7,362 L493.8,360.9 L493.8,359.9 L493.9,358.9 L493.9,358.1 L494,357.3 L494,356.7 L494,356.3 L494.1,356 L494.2,355.9 L494.3,356.2 L494.4,356.9 L494.5,357.9 L494.6,359.1 L494.6,360.4 L494.8,361.9 L494.9,363.3 L495,364.7 L495.1,365.9 L495.2,367 L495.3,368.1 L495.5,369.1 L495.6,370.2 L495.7,371.2 L495.9,372.3 L496,373.3 L496.2,374.3 L496.4,375.2 L496.6,376.1 L496.8,377 L497.2,378.1 L497.6,379.1 L498,380 L498.4,380.9 L498.9,381.8 L499.4,382.6 L500,383.5 L500.6,384.4 L501.2,385.3 L501.9,386.2 L502.6,387.1 L503.4,388 L504.1,388.9 L504.8,389.8 L505.4,390.6 L506,391.4 L506.6,392.3 L507.3,393.1 L507.9,394 L508.6,394.8 L509.3,395.7 L510,396.5 L510.7,397.3 L511.4,398.1 L512.2,398.9 L512.9,399.7 L513.7,400.5 L514.5,401.3 L515.3,402.1 L516.2,402.8 L517,403.4 L517.9,404 L518.8,404.6 L519.6,405.2 L520.5,405.7 L521.4,406.1 L522.5,406.5 L523.7,406.9 L525,407.3 L525.8,407.5 L526.6,407.7 L527.6,407.8 L528.5,408 L529.5,408.1 L530.5,408.3 L531.5,408.4 L532.6,408.5 L533.7,408.6 L534.7,408.8 L535.8,408.9 L536.9,408.9 L537.9,409 L539,409.1 L540,409.2 L541,409.3 L542,409.3 L543,409.4 L544,409.4 L545,409.5 L546,409.5 L547,409.5 L548,409.5 L549,409.5 L550,409.5 L551,409.6 L552,409.6 L553,409.6 L554,409.6 L555,409.6 L556,409.6 L557.2,409.6 L558.3,409.6 L559.5,409.7 L560.7,409.7 L561.9,409.7 L563.1,409.7 L564.2,409.7 L565.3,409.7 L566.4,409.7 L567.4,409.7 L568.3,409.7 L569.1,409.7 L569.8,409.7 L570.4,409.7" fill="none" stroke="#a41c1c" stroke-width="1.3" stroke-linejoin="round"/>
<text x="526.9" y="357.9" font-size="7.3" font-weight="bold" fill="#444">EuCu3</text>
<text x="556.1" y="358.3" font-size="8" fill="#3a3a3a" font-style="italic">E</text>
<text x="561.2" y="361.1" font-size="5.4" fill="#3a3a3a" font-weight="bold">g</text>
<text x="545.6" y="379.7" font-size="7" font-weight="bold" fill="#d85050">10 K</text>
<path d="M486.4,414.4v-2.6 M486.4,334.9v2.6 M491.6,414.4v-1.5 M491.6,334.9v1.5 M496.9,414.4v-1.5 M496.9,334.9v1.5 M502.1,414.4v-1.5 M502.1,334.9v1.5 M507.3,414.4v-2.6 M507.3,334.9v2.6 M512.5,414.4v-1.5 M512.5,334.9v1.5 M517.8,414.4v-1.5 M517.8,334.9v1.5 M523,414.4v-1.5 M523,334.9v1.5 M528.2,414.4v-2.6 M528.2,334.9v2.6 M533.5,414.4v-1.5 M533.5,334.9v1.5 M538.7,414.4v-1.5 M538.7,334.9v1.5 M543.9,414.4v-1.5 M543.9,334.9v1.5 M549.2,414.4v-2.6 M549.2,334.9v2.6 M554.4,414.4v-1.5 M554.4,334.9v1.5 M559.6,414.4v-1.5 M559.6,334.9v1.5 M564.8,414.4v-1.5 M564.8,334.9v1.5 M570.1,414.4v-2.6 M570.1,334.9v2.6 M486.4,391.3h2.6 M570.6,391.3h-2.6 M486.4,368.2h2.6 M570.6,368.2h-2.6 M486.4,345.1h2.6 M570.6,345.1h-2.6 " stroke="#555" stroke-width="0.7" fill="none"/>
<path d="M571.4,412.6 L571.8,412.5 L572.4,412.4 L573.1,412.2 L573.6,412 L574.2,411.9 L574.7,411.7 L575.1,411.6" fill="none" stroke="#2a1414" stroke-width="5.2" stroke-linejoin="round" opacity="0.8"/><path d="M571.3,412.4 L572.4,412.7 L573,412 L573.4,410.2 L574.9,411.9" fill="none" stroke="#141010" stroke-width="0.7" opacity="0.6"/><path d="M570.3,411.2l2,2m0,-2l-2,2M571.2,410.7l2,2m0,-2l-2,2M572.3,411.9l2,2m0,-2l-2,2M573,411l2,2m0,-2l-2,2M573.6,410l2,2m0,-2l-2,2" fill="none" stroke="#111" stroke-width="0.7" opacity="0.85"/><path d="M571.4,412.6 L572.1,412.4 L573.1,412.2 L574.2,411.9 L575.1,411.6" fill="none" stroke="#a41c1c" stroke-width="1.3" stroke-linejoin="round"/>
<path d="M580.2,376 L580.4,377.2 L580.6,377.7 L580.8,377.9 L581.1,378 L581.5,378.5 L581.7,378.8 L581.9,379.1 L582.1,379.5 L582.4,379.8 L582.6,380.2 L582.9,380.6 L583.2,381 L583.5,381.4 L583.8,381.9 L584.2,382.4 L584.6,382.9 L585,383.5 L585.2,383.8 L585.5,384.1 L585.7,384.5 L586,384.9 L586.3,385.2 L586.5,385.6 L586.8,386 L587.1,386.4 L587.4,386.8 L587.8,387.3 L588.1,387.7 L588.4,388.1 L588.7,388.6 L589,389 L589.4,389.4 L589.7,389.9 L590,390.3 L590.4,390.7 L590.7,391.1 L591,391.5 L591.3,391.9 L591.7,392.3 L592,392.7 L592.3,393.1 L592.6,393.5 L593,393.9 L593.3,394.3 L593.7,394.7 L594.1,395.1 L594.4,395.4 L594.8,395.8 L595.1,396.2 L595.5,396.6 L595.9,396.9 L596.2,397.3 L596.6,397.6 L596.9,398 L597.3,398.4 L597.6,398.7 L598,399 L598.3,399.4 L598.7,399.7 L599,400 L599.4,400.4 L599.7,400.7 L600,401 L600.4,401.4 L600.8,401.8 L601.2,402.2 L601.5,402.6 L601.9,403 L602.2,403.3 L602.6,403.7 L602.9,404.1 L603.3,404.4 L603.6,404.8 L604,405.1 L604.3,405.4 L604.7,405.7 L605.1,406 L605.5,406.3 L605.9,406.6 L606.3,406.8 L606.7,407 L607.1,407.2 L607.5,407.4 L608,407.6 L608.4,407.8 L608.8,407.9 L609.2,408.1 L609.7,408.2 L610.1,408.3 L610.6,408.5 L611,408.6 L611.5,408.7 L612.1,408.8 L612.6,408.9 L613.2,409 L613.7,409 L614.4,409.1 L615,409.2 L615.4,409.2 L615.8,409.3 L616.2,409.3 L616.6,409.4 L617,409.4 L617.4,409.4 L617.9,409.4 L618.3,409.5 L618.7,409.5 L619.2,409.5 L619.6,409.5 L620.1,409.5 L620.6,409.5 L621,409.5 L621.5,409.5 L622,409.5 L622.5,409.5 L623,409.6 L623.5,409.6 L624.1,409.6 L624.6,409.6 L625.2,409.6 L625.7,409.6 L626.3,409.6 L626.9,409.6 L627.5,409.6 L628.1,409.6 L628.7,409.6 L629.3,409.6 L630,409.6 L630.4,409.6 L630.8,409.6 L631.3,409.6 L631.7,409.6 L632.2,409.6 L632.7,409.6 L633.2,409.6 L633.7,409.6 L634.3,409.7 L634.8,409.7 L635.3,409.7 L635.9,409.7 L636.5,409.7 L637,409.7 L637.6,409.7 L638.2,409.7 L638.8,409.7 L639.3,409.7 L639.9,409.7 L640.5,409.7 L641.1,409.7 L641.7,409.7 L642.3,409.7 L642.9,409.7 L643.5,409.7 L644.1,409.7 L644.6,409.7 L645.2,409.7 L645.8,409.7 L646.3,409.7 L646.9,409.7 L647.4,409.8 L648,409.8 L648.5,409.8 L649,409.8 L649.5,409.8 L650,409.8 L650.5,409.8 L650.9,409.8 L651.4,409.8 L651.8,409.8 L652.2,409.8 L652.6,409.8 L653,409.8 L653.3,409.8 L653.6,409.8 L654,409.8 L654.2,409.8 L654.5,409.8" fill="none" stroke="#2a1414" stroke-width="5.2" stroke-linejoin="round" opacity="0.8"/><path d="M583.3,375.5 L582.8,376.3 L580.6,377.8 L581.5,378.2 L581.3,379.4 L582,379.9 L583.3,380 L584.7,380 L585,380.9 L584.5,382.5 L586.2,382.3 L584.4,384.5 L587.3,383.4 L588.4,383.8 L587,385.8 L589.3,385.1 L585.9,388.6 L589.4,387.1 L588.8,388.6 L589.6,389.1 L590.8,389.3 L592.4,389.1 L593,389.7 L590.4,392.8 L590.8,393.6 L590.1,395.3 L594.6,392.5 L593,395.1 L594.1,395.1 L593.8,396.6 L595.8,395.8 L595.1,397.7 L595.5,398.4 L596.4,398.7 L596.1,400.1 L598.3,399 L597.1,401.3 L599.9,399.5 L598.2,402.6 L603.3,398.7 L601.1,402.1 L602.5,402 L602.3,403.4 L601.7,405 L602.6,405.3 L603.8,405.2 L603,407.5 L606.4,404.3 L606.4,405.5 L605.4,408.8 L607.1,407.7 L609.2,404.9 L608.8,408.4 L610.3,406.6 L610.1,410.5 L611,410.2 L612.3,408 L612.8,410.8 L614.1,407.9 L614.6,410.5 L615.6,410.1 L616.5,409.2 L617.4,407.4 L618.1,409 L619.1,406.2 L619.9,408.7 L620.9,406.9 L621.6,411.3 L622.4,408.2 L623.2,406 L624.1,410.4 L624.9,410.1 L625.8,408.8 L626.7,412.6 L627.7,410.7 L628.7,409.7 L629.5,408.7 L630.4,405.3 L631.2,410.3 L632.1,411 L632.9,408.8 L633.8,407.6 L634.6,409.6 L635.5,407.3 L636.4,409.7 L637.3,410.8 L638.2,411.9 L639.2,410.1 L640.1,410 L641,410.8 L642,411.7 L643,409.3 L643.9,408 L644.8,408.6 L645.7,407.9 L646.6,408.5 L647.5,409.6 L648.4,410.3 L649.2,410 L650,409.9 L650.7,409.3 L651.6,410.4 L652.4,411.1 L653.3,410.9 L654.1,412" fill="none" stroke="#141010" stroke-width="0.7" opacity="0.6"/><path d="M579.7,374.9l2,2m0,-2l-2,2M579.8,375.8l2,2m0,-2l-2,2M577.2,378.6l2,2m0,-2l-2,2M580.1,377.5l2,2m0,-2l-2,2M580.2,378.4l2,2m0,-2l-2,2M581.8,378.3l2,2m0,-2l-2,2M580.3,380.4l2,2m0,-2l-2,2M582.8,379.6l2,2m0,-2l-2,2M584.2,379.7l2,2m0,-2l-2,2M583.4,381.5l2,2m0,-2l-2,2M584.5,381.8l2,2m0,-2l-2,2M583.1,383.8l2,2m0,-2l-2,2M585.3,383.2l2,2m0,-2l-2,2M585.1,384.4l2,2m0,-2l-2,2M586.1,384.7l2,2m0,-2l-2,2M585.8,385.9l2,2m0,-2l-2,2M587.7,385.6l2,2m0,-2l-2,2M585.7,388.1l2,2m0,-2l-2,2M589.8,386.1l2,2m0,-2l-2,2M588.9,387.9l2,2m0,-2l-2,2M589.8,388.3l2,2m0,-2l-2,2M588.4,390.4l2,2m0,-2l-2,2M589.8,390.4l2,2m0,-2l-2,2M589.7,391.6l2,2m0,-2l-2,2M591.4,391.3l2,2m0,-2l-2,2M592.4,391.4l2,2m0,-2l-2,2M593.5,391.6l2,2m0,-2l-2,2M593,393.1l2,2m0,-2l-2,2M593.8,393.5l2,2m0,-2l-2,2M593.3,395.1l2,2m0,-2l-2,2M593.8,395.8l2,2m0,-2l-2,2M593.6,397.2l2,2m0,-2l-2,2M595.6,396.4l2,2m0,-2l-2,2M596.9,396.1l2,2m0,-2l-2,2M597.9,396.3l2,2m0,-2l-2,2M597.1,398.3l2,2m0,-2l-2,2M597.2,399.2l2,2m0,-2l-2,2M595.8,401.8l2,2m0,-2l-2,2M598.6,400.1l2,2m0,-2l-2,2M597.2,402.7l2,2m0,-2l-2,2M597.7,403.4l2,2m0,-2l-2,2M602.1,400.5l2,2m0,-2l-2,2M599.7,403.9l2,2m0,-2l-2,2M600.3,404.4l2,2m0,-2l-2,2M600.7,405.2l2,2m0,-2l-2,2M602.9,404.1l2,2m0,-2l-2,2M602.4,405.9l2,2m0,-2l-2,2M604.6,404.4l2,2m0,-2l-2,2M604.8,405.4l2,2m0,-2l-2,2M605.5,405.9l2,2m0,-2l-2,2M604.9,409.2l2,2m0,-2l-2,2M607.3,406.3l2,2m0,-2l-2,2M607.4,408.6l2,2m0,-2l-2,2M608.8,407.4l2,2m0,-2l-2,2M609.9,406.2l2,2m0,-2l-2,2M610.3,408.1l2,2m0,-2l-2,2M611,409l2,2m0,-2l-2,2M612.2,406.7l2,2m0,-2l-2,2M612.8,409.2l2,2m0,-2l-2,2M613.9,406.9l2,2m0,-2l-2,2M614.8,406.7l2,2m0,-2l-2,2M615.4,408.7l2,2m0,-2l-2,2M616.3,408l2,2m0,-2l-2,2M617.2,406.7l2,2m0,-2l-2,2M618.1,405.6l2,2m0,-2l-2,2M618.9,408.6l2,2m0,-2l-2,2M619.8,409l2,2m0,-2l-2,2M620.6,407.7l2,2m0,-2l-2,2M621.4,408.9l2,2m0,-2l-2,2M622.2,405.8l2,2m0,-2l-2,2M623.1,409.3l2,2m0,-2l-2,2M623.9,409.3l2,2m0,-2l-2,2M624.8,409.1l2,2m0,-2l-2,2M625.8,407.5l2,2m0,-2l-2,2M626.7,408.7l2,2m0,-2l-2,2M627.7,408.8l2,2m0,-2l-2,2M628.5,410.5l2,2m0,-2l-2,2M629.3,409.1l2,2m0,-2l-2,2M630.2,409.1l2,2m0,-2l-2,2M631.2,407.3l2,2m0,-2l-2,2M631.9,410.2l2,2m0,-2l-2,2M632.7,410.8l2,2m0,-2l-2,2M633.6,407.8l2,2m0,-2l-2,2M634.5,409.8l2,2m0,-2l-2,2M635.4,409.2l2,2m0,-2l-2,2M636.3,408.6l2,2m0,-2l-2,2M637.2,406.4l2,2m0,-2l-2,2M638.1,411.9l2,2m0,-2l-2,2M639.1,405.3l2,2m0,-2l-2,2M640,409.3l2,2m0,-2l-2,2M641,408l2,2m0,-2l-2,2M641.9,410.8l2,2m0,-2l-2,2M642.9,408l2,2m0,-2l-2,2M643.8,408.8l2,2m0,-2l-2,2M644.7,409.8l2,2m0,-2l-2,2M645.6,409.6l2,2m0,-2l-2,2M646.5,407.8l2,2m0,-2l-2,2M647.4,410l2,2m0,-2l-2,2M648.2,409.5l2,2m0,-2l-2,2M649,410.5l2,2m0,-2l-2,2M649.7,407.9l2,2m0,-2l-2,2M650.6,408.7l2,2m0,-2l-2,2M651.4,408.1l2,2m0,-2l-2,2M652.3,407.3l2,2m0,-2l-2,2M653.1,409.3l2,2m0,-2l-2,2" fill="none" stroke="#111" stroke-width="0.7" opacity="0.85"/><path d="M570.8,412.3 L571.6,411.8 L572.5,411 L573.3,410 L574,408.5 L574.3,407.7 L574.6,406.8 L574.9,405.7 L575.2,404.5 L575.5,403 L575.6,402.2 L575.7,401.5 L575.8,400.6 L575.9,399.8 L576,398.9 L576.1,397.9 L576.2,396.9 L576.3,395.8 L576.4,394.6 L576.5,393.4 L576.6,392 L576.6,391.2 L576.7,390.4 L576.7,389.6 L576.8,388.7 L576.8,387.8 L576.9,386.9 L576.9,386 L576.9,385.1 L577,384.1 L577,383.1 L577.1,382.1 L577.1,381 L577.1,380 L577.2,378.9 L577.2,377.8 L577.2,376.7 L577.3,375.5 L577.3,374.4 L577.4,373.2 L577.4,372 L577.4,371.1 L577.5,370.1 L577.5,369.1 L577.5,368 L577.5,366.8 L577.6,365.6 L577.6,364.4 L577.6,363.1 L577.7,361.8 L577.7,360.5 L577.7,359.2 L577.7,357.9 L577.8,356.6 L577.8,355.3 L577.8,354.1 L577.9,352.9 L577.9,351.7 L577.9,350.6 L577.9,349.5 L578,348.5 L578,347.5 L578,346.7 L578.1,345.9 L578.1,345.2 L578.1,344.6 L578.1,344.1 L578.2,343.7 L578.2,343.5 L578.2,343.4 L578.3,343.5 L578.3,343.9 L578.4,344.5 L578.4,345.4 L578.5,346.4 L578.5,347.5 L578.6,348.7 L578.6,350.1 L578.7,351.5 L578.7,353 L578.8,354.4 L578.8,355.9 L578.9,357.3 L578.9,358.6 L579,359.9 L579,361 L579.1,362 L579.2,363.2 L579.2,364.3 L579.3,365.5 L579.4,366.7 L579.5,367.8 L579.5,368.9 L579.6,370 L579.7,371 L579.8,372 L579.9,373 L579.9,373.8 L580,374.6 L580.1,375.4 L580.2,376 L580.7,377.8 L581.5,378.5 L581.9,379.1 L582.4,379.8 L582.9,380.6 L583.5,381.4 L584.2,382.4 L585,383.5 L585.5,384.1 L586,384.9 L586.5,385.6 L587.1,386.4 L587.8,387.3 L588.4,388.1 L589,389 L589.7,389.9 L590.4,390.7 L591,391.5 L591.7,392.3 L592.3,393.1 L593,393.9 L593.7,394.7 L594.4,395.4 L595.1,396.2 L595.9,396.9 L596.6,397.6 L597.3,398.4 L598,399 L598.7,399.7 L599.4,400.4 L600,401 L600.8,401.8 L601.6,402.7 L602.4,403.5 L603.1,404.2 L603.8,405 L604.6,405.6 L605.4,406.3 L606.3,406.8 L607.1,407.2 L608,407.6 L608.8,407.9 L609.7,408.2 L610.6,408.5 L611.5,408.7 L612.6,408.9 L613.7,409 L615,409.2 L615.8,409.3 L616.6,409.4 L617.4,409.4 L618.3,409.5 L619.2,409.5 L620.1,409.5 L621,409.5 L622,409.5 L623,409.6 L624.1,409.6 L625.2,409.6 L626.3,409.6 L627.5,409.6 L628.7,409.6 L630,409.6 L630.9,409.6 L631.8,409.6 L632.8,409.6 L633.8,409.6 L634.9,409.7 L636,409.7 L637.2,409.7 L638.4,409.7 L639.6,409.7 L640.8,409.7 L642,409.7 L643.2,409.7 L644.4,409.7 L645.5,409.7 L646.7,409.7 L647.8,409.8 L648.9,409.8 L649.9,409.8 L650.8,409.8 L651.7,409.8 L652.5,409.8 L653.3,409.8 L653.9,409.8 L654.5,409.8" fill="none" stroke="#a41c1c" stroke-width="1.3" stroke-linejoin="round"/>
<text x="611" y="357.9" font-size="7.3" font-weight="bold" fill="#444">EuCu3</text>
<text x="640.2" y="358.3" font-size="8" fill="#3a3a3a" font-style="italic">E</text>
<text x="645.3" y="361.1" font-size="5.4" fill="#3a3a3a" font-weight="bold">g</text>
<text x="629.7" y="379.7" font-size="7" font-weight="bold" fill="#d85050">4 K</text>
<path d="M570.6,414.4v-2.6 M570.6,334.9v2.6 M575.8,414.4v-1.5 M575.8,334.9v1.5 M581,414.4v-1.5 M581,334.9v1.5 M586.3,414.4v-1.5 M586.3,334.9v1.5 M591.5,414.4v-2.6 M591.5,334.9v2.6 M596.7,414.4v-1.5 M596.7,334.9v1.5 M601.9,414.4v-1.5 M601.9,334.9v1.5 M607.2,414.4v-1.5 M607.2,334.9v1.5 M612.4,414.4v-2.6 M612.4,334.9v2.6 M617.6,414.4v-1.5 M617.6,334.9v1.5 M622.8,414.4v-1.5 M622.8,334.9v1.5 M628.1,414.4v-1.5 M628.1,334.9v1.5 M633.3,414.4v-2.6 M633.3,334.9v2.6 M638.5,414.4v-1.5 M638.5,334.9v1.5 M643.7,414.4v-1.5 M643.7,334.9v1.5 M649,414.4v-1.5 M649,334.9v1.5 M654.2,414.4v-2.6 M654.2,334.9v2.6 M570.6,391.3h2.6 M654.7,391.3h-2.6 M570.6,368.2h2.6 M654.7,368.2h-2.6 M570.6,345.1h2.6 M654.7,345.1h-2.6 " stroke="#555" stroke-width="0.7" fill="none"/>
<path d="M316.6,255.6H401.2V334.9H316.6Z M401.2,255.6H486.4V334.9H401.2Z M486.4,255.6H570.6V334.9H486.4Z M570.6,255.6H654.7V334.9H570.6Z M316.6,334.9H401.2V414.4H316.6Z M401.2,334.9H486.4V414.4H401.2Z M486.4,334.9H570.6V414.4H486.4Z M570.6,334.9H654.7V414.4H570.6Z " fill="none" stroke="#4a4a4a" stroke-width="1.35"/>
<text x="313.2" y="337.3" font-size="7.7" fill="#555" text-anchor="end" font-family="Liberation Serif, serif">0</text>
<text x="313.2" y="314.2" font-size="7.7" fill="#555" text-anchor="end" font-family="Liberation Serif, serif">100</text>
<text x="313.2" y="291.1" font-size="7.7" fill="#555" text-anchor="end" font-family="Liberation Serif, serif">200</text>
<text x="313.2" y="268" font-size="7.7" fill="#555" text-anchor="end" font-family="Liberation Serif, serif">300</text>
<text x="0" y="0" font-size="8.7" fill="#8a8a8a" text-anchor="middle" font-family="Liberation Serif, serif" transform="translate(294.8,296.2) rotate(-90)">χ''(ω) (arb. units)</text>
<text x="313.2" y="416.8" font-size="7.7" fill="#555" text-anchor="end" font-family="Liberation Serif, serif">0</text>
<text x="313.2" y="393.7" font-size="7.7" fill="#555" text-anchor="end" font-family="Liberation Serif, serif">100</text>
<text x="313.2" y="370.6" font-size="7.7" fill="#555" text-anchor="end" font-family="Liberation Serif, serif">200</text>
<text x="313.2" y="347.5" font-size="7.7" fill="#555" text-anchor="end" font-family="Liberation Serif, serif">300</text>
<text x="0" y="0" font-size="8.7" fill="#8a8a8a" text-anchor="middle" font-family="Liberation Serif, serif" transform="translate(294.8,375.6) rotate(-90)">χ''(ω) (arb. units)</text>
<text x="316.6" y="423.9" font-size="7.9" fill="#555" text-anchor="middle" font-family="Liberation Serif, serif">0</text>
<text x="337.6" y="423.9" font-size="7.9" fill="#555" text-anchor="middle" font-family="Liberation Serif, serif">200</text>
<text x="358.6" y="423.9" font-size="7.9" fill="#555" text-anchor="middle" font-family="Liberation Serif, serif">400</text>
<text x="379.7" y="423.9" font-size="7.9" fill="#555" text-anchor="middle" font-family="Liberation Serif, serif">600</text>
<text x="358.9" y="433.5" font-size="8.9" fill="#808080" text-anchor="middle" font-family="Liberation Serif, serif">Raman shift (cm<tspan font-size="5.6" dy="-3">−1</tspan><tspan dy="3">)</tspan></text>
<text x="401.2" y="423.9" font-size="7.9" fill="#555" text-anchor="middle" font-family="Liberation Serif, serif">0</text>
<text x="422.4" y="423.9" font-size="7.9" fill="#555" text-anchor="middle" font-family="Liberation Serif, serif">200</text>
<text x="443.5" y="423.9" font-size="7.9" fill="#555" text-anchor="middle" font-family="Liberation Serif, serif">400</text>
<text x="464.7" y="423.9" font-size="7.9" fill="#555" text-anchor="middle" font-family="Liberation Serif, serif">600</text>
<text x="443.8" y="433.5" font-size="8.9" fill="#808080" text-anchor="middle" font-family="Liberation Serif, serif">Raman shift (cm<tspan font-size="5.6" dy="-3">−1</tspan><tspan dy="3">)</tspan></text>
<text x="486.4" y="423.9" font-size="7.9" fill="#555" text-anchor="middle" font-family="Liberation Serif, serif">0</text>
<text x="507.3" y="423.9" font-size="7.9" fill="#555" text-anchor="middle" font-family="Liberation Serif, serif">200</text>
<text x="528.2" y="423.9" font-size="7.9" fill="#555" text-anchor="middle" font-family="Liberation Serif, serif">400</text>
<text x="549.2" y="423.9" font-size="7.9" fill="#555" text-anchor="middle" font-family="Liberation Serif, serif">600</text>
<text x="528.5" y="433.5" font-size="8.9" fill="#808080" text-anchor="middle" font-family="Liberation Serif, serif">Raman shift (cm<tspan font-size="5.6" dy="-3">−1</tspan><tspan dy="3">)</tspan></text>
<text x="570.6" y="423.9" font-size="7.9" fill="#555" text-anchor="middle" font-family="Liberation Serif, serif">0</text>
<text x="591.5" y="423.9" font-size="7.9" fill="#555" text-anchor="middle" font-family="Liberation Serif, serif">200</text>
<text x="612.4" y="423.9" font-size="7.9" fill="#555" text-anchor="middle" font-family="Liberation Serif, serif">400</text>
<text x="633.3" y="423.9" font-size="7.9" fill="#555" text-anchor="middle" font-family="Liberation Serif, serif">600</text>
<text x="612.7" y="433.5" font-size="8.9" fill="#808080" text-anchor="middle" font-family="Liberation Serif, serif">Raman shift (cm<tspan font-size="5.6" dy="-3">−1</tspan><tspan dy="3">)</tspan></text>
</svg></body></html>
